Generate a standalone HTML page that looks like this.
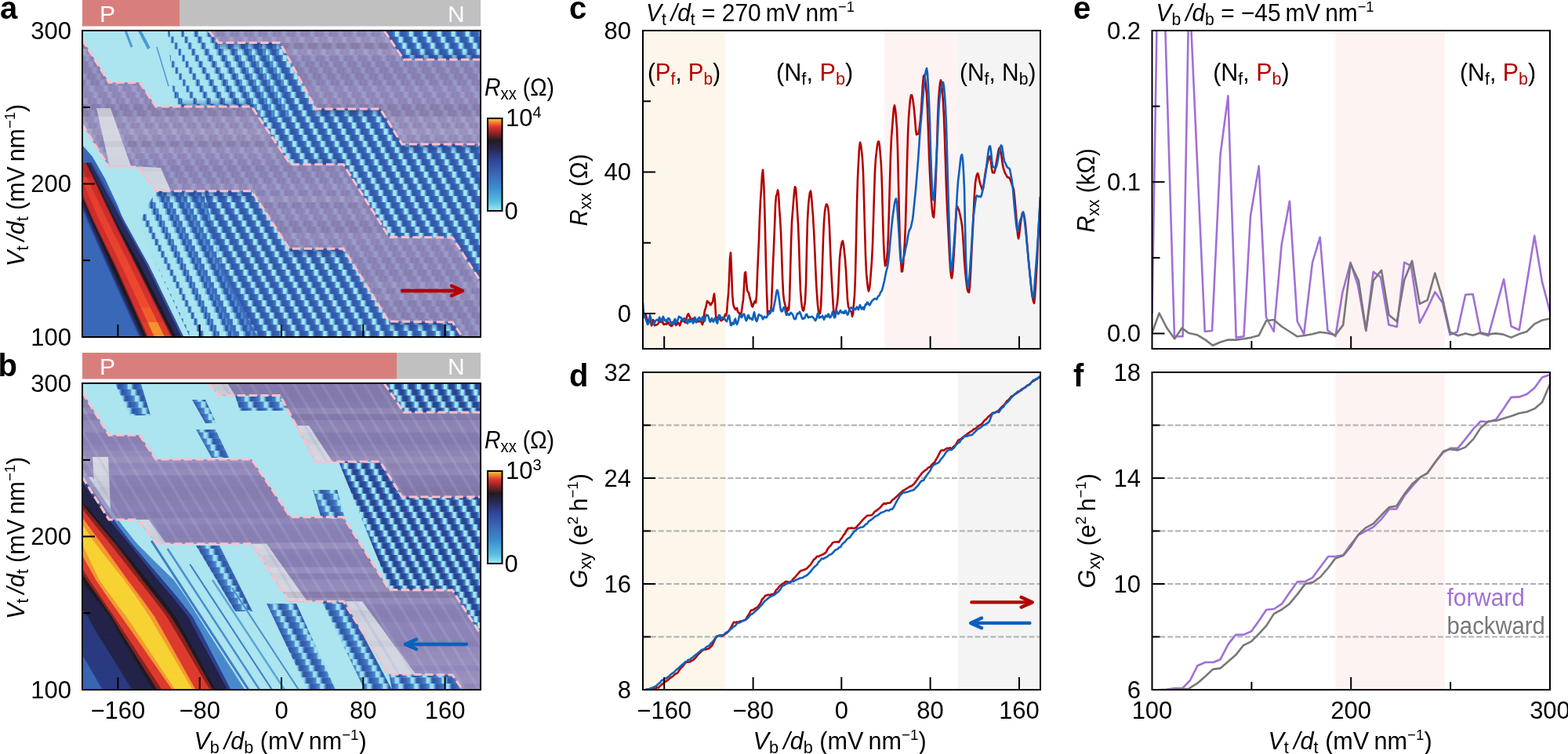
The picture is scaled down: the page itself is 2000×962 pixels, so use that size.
<!DOCTYPE html><html><head><meta charset="utf-8"><title>figure</title><style>html,body{margin:0;padding:0;background:#fff;overflow:hidden}svg{display:block}text{font-family:"Liberation Sans", Arial, sans-serif;fill:#000}</style></head><body>
<svg width="2000" height="962" viewBox="0 0 2000 962">
<defs><clipPath id="cpa"><rect x="105" y="39" width="508" height="391"/></clipPath><clipPath id="cpb"><rect x="105" y="489" width="508" height="391"/></clipPath><clipPath id="cpc"><rect x="820" y="39" width="507" height="406"/></clipPath><clipPath id="cpd"><rect x="820" y="475" width="507" height="405"/></clipPath><clipPath id="cpe"><rect x="1469.5" y="39" width="507.5" height="406"/></clipPath><clipPath id="cpf"><rect x="1469.5" y="475" width="507.5" height="405"/></clipPath><linearGradient id="cmap" x1="0" y1="1" x2="0" y2="0"><stop offset="0" stop-color="#a6e6f2"/><stop offset="0.1" stop-color="#58bde2"/><stop offset="0.25" stop-color="#3c8ccf"/><stop offset="0.42" stop-color="#3a62b4"/><stop offset="0.55" stop-color="#2f4596"/><stop offset="0.68" stop-color="#28254e"/><stop offset="0.76" stop-color="#221c1e"/><stop offset="0.84" stop-color="#8e2424"/><stop offset="0.91" stop-color="#e03333"/><stop offset="0.96" stop-color="#f08a30"/><stop offset="1" stop-color="#f8cc30"/></linearGradient></defs>
<g clip-path="url(#cpa)">
<rect x="105" y="39" width="508" height="391" fill="#3d6cbe"/>
<linearGradient id="psa_g" x1="0" y1="0" x2="1" y2="0">
<stop offset="0" stop-color="#5cb0e0"/>
<stop offset="0" stop-color="#a8e4f0"/>
<stop offset="0.2" stop-color="#a8e4f0"/>
<stop offset="0.3" stop-color="#52a4da"/>
<stop offset="0.4" stop-color="#3054a4"/>
<stop offset="0.6" stop-color="#345aac"/>
<stop offset="0.8" stop-color="#3862b2"/>
<stop offset="0.9" stop-color="#3f74c2"/>
<stop offset="1" stop-color="#5cb0e0"/>
</linearGradient>
<pattern id="psa" patternUnits="userSpaceOnUse" x="0" y="0" width="18" height="2000">
<rect x="0" y="0" width="18" height="2000" fill="url(#psa_g)"/>
</pattern>
<rect x="105" y="39" width="508" height="8.1" fill="url(#psa)" transform="translate(0 0)"/>
<rect x="100.3" y="46.8" width="508" height="8.1" fill="url(#psa)" transform="translate(4.7 0)"/>
<rect x="95.5" y="54.6" width="508" height="8.1" fill="url(#psa)" transform="translate(9.5 0)"/>
<rect x="90.8" y="62.5" width="508" height="8.1" fill="url(#psa)" transform="translate(14.2 0)"/>
<rect x="104" y="70.3" width="508" height="8.1" fill="url(#psa)" transform="translate(1 0)"/>
<rect x="99.3" y="78.1" width="508" height="8.1" fill="url(#psa)" transform="translate(5.7 0)"/>
<rect x="94.6" y="85.9" width="508" height="8.1" fill="url(#psa)" transform="translate(10.4 0)"/>
<rect x="89.8" y="93.7" width="508" height="8.1" fill="url(#psa)" transform="translate(15.2 0)"/>
<rect x="103.1" y="101.6" width="508" height="8.1" fill="url(#psa)" transform="translate(1.9 0)"/>
<rect x="98.3" y="109.4" width="508" height="8.1" fill="url(#psa)" transform="translate(6.7 0)"/>
<rect x="93.6" y="117.2" width="508" height="8.1" fill="url(#psa)" transform="translate(11.4 0)"/>
<rect x="88.9" y="125" width="508" height="8.1" fill="url(#psa)" transform="translate(16.1 0)"/>
<rect x="102.1" y="132.8" width="508" height="8.1" fill="url(#psa)" transform="translate(2.9 0)"/>
<rect x="97.4" y="140.7" width="508" height="8.1" fill="url(#psa)" transform="translate(7.6 0)"/>
<rect x="92.6" y="148.5" width="508" height="8.1" fill="url(#psa)" transform="translate(12.4 0)"/>
<rect x="87.9" y="156.3" width="508" height="8.1" fill="url(#psa)" transform="translate(17.1 0)"/>
<rect x="101.2" y="164.1" width="508" height="8.1" fill="url(#psa)" transform="translate(3.8 0)"/>
<rect x="96.4" y="171.9" width="508" height="8.1" fill="url(#psa)" transform="translate(8.6 0)"/>
<rect x="91.7" y="179.8" width="508" height="8.1" fill="url(#psa)" transform="translate(13.3 0)"/>
<rect x="105" y="187.6" width="508" height="8.1" fill="url(#psa)" transform="translate(0 0)"/>
<rect x="100.2" y="195.4" width="508" height="8.1" fill="url(#psa)" transform="translate(4.8 0)"/>
<rect x="95.5" y="203.2" width="508" height="8.1" fill="url(#psa)" transform="translate(9.5 0)"/>
<rect x="90.7" y="211" width="508" height="8.1" fill="url(#psa)" transform="translate(14.3 0)"/>
<rect x="104" y="218.9" width="508" height="8.1" fill="url(#psa)" transform="translate(1 0)"/>
<rect x="99.3" y="226.7" width="508" height="8.1" fill="url(#psa)" transform="translate(5.7 0)"/>
<rect x="94.5" y="234.5" width="508" height="8.1" fill="url(#psa)" transform="translate(10.5 0)"/>
<rect x="89.8" y="242.3" width="508" height="8.1" fill="url(#psa)" transform="translate(15.2 0)"/>
<rect x="103" y="250.1" width="508" height="8.1" fill="url(#psa)" transform="translate(2 0)"/>
<rect x="98.3" y="258" width="508" height="8.1" fill="url(#psa)" transform="translate(6.7 0)"/>
<rect x="93.6" y="265.8" width="508" height="8.1" fill="url(#psa)" transform="translate(11.4 0)"/>
<rect x="88.8" y="273.6" width="508" height="8.1" fill="url(#psa)" transform="translate(16.2 0)"/>
<rect x="102.1" y="281.4" width="508" height="8.1" fill="url(#psa)" transform="translate(2.9 0)"/>
<rect x="97.3" y="289.2" width="508" height="8.1" fill="url(#psa)" transform="translate(7.7 0)"/>
<rect x="92.6" y="297.1" width="508" height="8.1" fill="url(#psa)" transform="translate(12.4 0)"/>
<rect x="87.9" y="304.9" width="508" height="8.1" fill="url(#psa)" transform="translate(17.1 0)"/>
<rect x="101.1" y="312.7" width="508" height="8.1" fill="url(#psa)" transform="translate(3.9 0)"/>
<rect x="96.4" y="320.5" width="508" height="8.1" fill="url(#psa)" transform="translate(8.6 0)"/>
<rect x="91.6" y="328.3" width="508" height="8.1" fill="url(#psa)" transform="translate(13.4 0)"/>
<rect x="104.9" y="336.2" width="508" height="8.1" fill="url(#psa)" transform="translate(0.1 0)"/>
<rect x="100.2" y="344" width="508" height="8.1" fill="url(#psa)" transform="translate(4.8 0)"/>
<rect x="95.4" y="351.8" width="508" height="8.1" fill="url(#psa)" transform="translate(9.6 0)"/>
<rect x="90.7" y="359.6" width="508" height="8.1" fill="url(#psa)" transform="translate(14.3 0)"/>
<rect x="103.9" y="367.4" width="508" height="8.1" fill="url(#psa)" transform="translate(1.1 0)"/>
<rect x="99.2" y="375.3" width="508" height="8.1" fill="url(#psa)" transform="translate(5.8 0)"/>
<rect x="94.5" y="383.1" width="508" height="8.1" fill="url(#psa)" transform="translate(10.5 0)"/>
<rect x="89.7" y="390.9" width="508" height="8.1" fill="url(#psa)" transform="translate(15.3 0)"/>
<rect x="103" y="398.7" width="508" height="8.1" fill="url(#psa)" transform="translate(2 0)"/>
<rect x="98.2" y="406.5" width="508" height="8.1" fill="url(#psa)" transform="translate(6.8 0)"/>
<rect x="93.5" y="414.4" width="508" height="8.1" fill="url(#psa)" transform="translate(11.5 0)"/>
<rect x="88.8" y="422.2" width="508" height="8.1" fill="url(#psa)" transform="translate(16.2 0)"/>
<clipPath id="cpa_z"><polygon points="214,39 350,39 370,150 250,150 262,250 282,339 329,430 234,430 190,339 160.5,286 129,228 116,160 214,150"/></clipPath>
<g clip-path="url(#cpa_z)">
<polygon points="214,39 350,39 370,150 250,150 262,250 282,339 329,430 234,430 190,339 160.5,286 129,228 116,160 214,150" fill="#3d6cbe"/>
<path d="M90.9 187.6h14.4v8h-14.4zM94.7 195.4h14.4v8h-14.4zM98.5 203.2h14.4v8h-14.4zM102.4 211h14.4v8h-14.4zM106.2 218.9h14.4v8h-14.4zM110 226.7h14.4v8h-14.4zM113.8 234.5h14.4v8h-14.4zM117.6 242.3h14.4v8h-14.4zM121.4 250.1h14.4v8h-14.4zM125.2 258h14.4v8h-14.4zM129.1 265.8h14.4v8h-14.4zM132.9 273.6h14.4v8h-14.4zM136.7 281.4h14.4v8h-14.4zM140.5 289.2h14.4v8h-14.4zM144.3 297.1h14.4v8h-14.4zM148.1 304.9h14.4v8h-14.4zM151.9 312.7h14.4v8h-14.4zM155.8 320.5h14.4v8h-14.4zM159.6 328.3h14.4v8h-14.4zM163.4 336.2h14.4v8h-14.4zM167.2 344h14.4v8h-14.4zM171 351.8h14.4v8h-14.4zM174.8 359.6h14.4v8h-14.4zM178.7 367.4h14.4v8h-14.4zM182.5 375.3h14.4v8h-14.4zM186.3 383.1h14.4v8h-14.4zM190.1 390.9h14.4v8h-14.4zM193.9 398.7h14.4v8h-14.4zM197.7 406.5h14.4v8h-14.4zM201.5 414.4h14.4v8h-14.4zM205.4 422.2h14.4v8h-14.4zM82.2 132.8h14.4v8h-14.4zM86 140.7h14.4v8h-14.4zM89.8 148.5h14.4v8h-14.4zM93.7 156.3h14.4v8h-14.4zM97.5 164.1h14.4v8h-14.4zM101.3 171.9h14.4v8h-14.4zM105.1 179.8h14.4v8h-14.4zM108.9 187.6h14.4v8h-14.4zM112.7 195.4h14.4v8h-14.4zM116.5 203.2h14.4v8h-14.4zM120.4 211h14.4v8h-14.4zM124.2 218.9h14.4v8h-14.4zM128 226.7h14.4v8h-14.4zM131.8 234.5h14.4v8h-14.4zM135.6 242.3h14.4v8h-14.4zM139.4 250.1h14.4v8h-14.4zM143.2 258h14.4v8h-14.4zM147.1 265.8h14.4v8h-14.4zM150.9 273.6h14.4v8h-14.4zM154.7 281.4h14.4v8h-14.4zM158.5 289.2h14.4v8h-14.4zM162.3 297.1h14.4v8h-14.4zM166.1 304.9h14.4v8h-14.4zM169.9 312.7h14.4v8h-14.4zM173.8 320.5h14.4v8h-14.4zM177.6 328.3h14.4v8h-14.4zM181.4 336.2h14.4v8h-14.4zM185.2 344h14.4v8h-14.4zM189 351.8h14.4v8h-14.4zM192.8 359.6h14.4v8h-14.4zM196.7 367.4h14.4v8h-14.4zM200.5 375.3h14.4v8h-14.4zM204.3 383.1h14.4v8h-14.4zM208.1 390.9h14.4v8h-14.4zM211.9 398.7h14.4v8h-14.4zM215.7 406.5h14.4v8h-14.4zM219.5 414.4h14.4v8h-14.4zM223.4 422.2h14.4v8h-14.4zM85 101.6h14.4v8h-14.4zM88.8 109.4h14.4v8h-14.4zM92.6 117.2h14.4v8h-14.4zM96.4 125h14.4v8h-14.4zM100.2 132.8h14.4v8h-14.4zM104 140.7h14.4v8h-14.4zM107.8 148.5h14.4v8h-14.4zM111.7 156.3h14.4v8h-14.4zM115.5 164.1h14.4v8h-14.4zM119.3 171.9h14.2v8h-14.2zM123.1 179.8h13.8v8h-13.8zM126.9 187.6h13.3v8h-13.3zM130.7 195.4h12.9v8h-12.9zM134.5 203.2h12.4v8h-12.4zM138.4 211h12.4v8h-12.4zM142.2 218.9h12.5v8h-12.5zM146 226.7h12.5v8h-12.5zM149.8 234.5h12.6v8h-12.6zM153.6 242.3h12.6v8h-12.6zM157.4 250.1h12.7v8h-12.7zM161.2 258h12.7v8h-12.7zM165.1 265.8h12.8v8h-12.8zM168.9 273.6h12.8v8h-12.8zM172.7 281.4h12.9v8h-12.9zM176.5 289.2h13v8h-13zM180.3 297.1h13v8h-13zM184.1 304.9h13.1v8h-13.1zM187.9 312.7h13.2v8h-13.2zM191.8 320.5h13.2v8h-13.2zM195.6 328.3h13.3v8h-13.3zM199.4 336.2h13.3v8h-13.3zM203.2 344h13.3v8h-13.3zM207 351.8h13.3v8h-13.3zM210.8 359.6h13.3v8h-13.3zM214.7 367.4h13.3v8h-13.3zM218.5 375.3h13.3v8h-13.3zM222.3 383.1h13.3v8h-13.3zM226.1 390.9h13.3v8h-13.3zM229.9 398.7h13.3v8h-13.3zM233.7 406.5h13.3v8h-13.3zM237.5 414.4h13.3v8h-13.3zM241.4 422.2h13.3v8h-13.3zM83.9 62.5h14.4v8h-14.4zM87.7 70.3h14.4v8h-14.4zM91.5 78.1h14.4v8h-14.4zM95.3 85.9h14.4v8h-14.4zM99.1 93.7h14.4v8h-14.4zM103 101.6h14.4v8h-14.4zM106.8 109.4h14.4v8h-14.4zM110.6 117.2h14.4v8h-14.4zM114.4 125h14.4v8h-14.4zM118.2 132.8h14.4v8h-14.4zM122 140.7h14.4v8h-14.4zM125.8 148.5h13.5v8h-13.5zM129.7 156.3h13v8h-13zM133.5 164.1h12.5v8h-12.5zM137.3 171.9h12.1v8h-12.1zM141.1 179.8h11.6v8h-11.6zM144.9 187.6h11.2v8h-11.2zM148.7 195.4h10.7v8h-10.7zM152.5 203.2h10.3v8h-10.3zM156.4 211h10.3v8h-10.3zM160.2 218.9h10.3v8h-10.3zM164 226.7h10.4v8h-10.4zM167.8 234.5h10.4v8h-10.4zM171.6 242.3h10.5v8h-10.5zM175.4 250.1h10.5v8h-10.5zM179.2 258h10.6v8h-10.6zM183.1 265.8h10.6v8h-10.6zM186.9 273.6h10.7v8h-10.7zM190.7 281.4h10.7v8h-10.7zM194.5 289.2h10.8v8h-10.8zM198.3 297.1h10.9v8h-10.9zM202.1 304.9h10.9v8h-10.9zM205.9 312.7h11v8h-11zM209.8 320.5h11.1v8h-11.1zM213.6 328.3h11.1v8h-11.1zM217.4 336.2h11.2v8h-11.2zM221.2 344h11.2v8h-11.2zM225 351.8h11.2v8h-11.2zM228.8 359.6h11.2v8h-11.2zM232.7 367.4h11.2v8h-11.2zM236.5 375.3h11.2v8h-11.2zM240.3 383.1h11.2v8h-11.2zM244.1 390.9h11.1v8h-11.1zM247.9 398.7h11.1v8h-11.1zM251.7 406.5h11.1v8h-11.1zM255.5 414.4h11.1v8h-11.1zM259.4 422.2h11.1v8h-11.1zM90.5 39h14.4v8h-14.4zM94.3 46.8h14.4v8h-14.4zM98.2 54.6h14.4v8h-14.4zM102.1 62.5h14.4v8h-14.4zM105.9 70.3h14.4v8h-14.4zM109.8 78.1h14.4v8h-14.4zM113.7 85.9h14.4v8h-14.4zM117.5 93.7h14.4v8h-14.4zM121.4 101.6h14.4v8h-14.4zM125.3 109.4h14.4v8h-14.4zM129.1 117.2h14.4v8h-14.4zM133 125h14.4v8h-14.4zM136.9 132.8h14.4v8h-14.4zM140.8 140.7h14.4v8h-14.4zM144.6 148.5h11.2v8h-11.2zM148.5 156.3h10.7v8h-10.7zM152.4 164.1h10.3v8h-10.3zM156.2 171.9h9.8v8h-9.8zM160.1 179.8h9.3v8h-9.3zM164 187.6h8.9v8h-8.9zM167.8 195.4h8.4v8h-8.4zM171.7 203.2h8v8h-8zM175.6 211h8v8h-8zM179.4 218.9h8v8h-8zM183.3 226.7h8.1v8h-8.1zM187.2 234.5h8.1v8h-8.1zM191 242.3h8.1v8h-8.1zM194.9 250.1h8.2v8h-8.2zM198.8 258h8.2v8h-8.2zM202.7 265.8h8.3v8h-8.3zM206.5 273.6h8.3v8h-8.3zM210.4 281.4h8.4v8h-8.4zM214.3 289.2h8.4v8h-8.4zM218.1 297.1h8.5v8h-8.5zM222 304.9h8.5v8h-8.5zM225.9 312.7h8.6v8h-8.6zM229.7 320.5h8.7v8h-8.7zM233.6 328.3h8.7v8h-8.7zM237.5 336.2h8.8v8h-8.8zM241.3 344h8.8v8h-8.8zM245.2 351.8h8.7v8h-8.7zM249.1 359.6h8.7v8h-8.7zM252.9 367.4h8.7v8h-8.7zM256.8 375.3h8.7v8h-8.7zM260.7 383.1h8.7v8h-8.7zM264.5 390.9h8.7v8h-8.7zM268.4 398.7h8.7v8h-8.7zM272.3 406.5h8.7v8h-8.7zM276.2 414.4h8.7v8h-8.7zM280 422.2h8.7v8h-8.7zM108.5 39h14.4v8h-14.4zM112.5 46.8h14.4v8h-14.4zM116.6 54.6h14.4v8h-14.4zM120.6 62.5h14.4v8h-14.4zM124.6 70.3h14.4v8h-14.4zM128.6 78.1h14.4v8h-14.4zM132.6 85.9h14.4v8h-14.4zM136.6 93.7h14.4v8h-14.4zM140.6 101.6h14.4v8h-14.4zM144.6 109.4h14.4v8h-14.4zM148.6 117.2h14.4v8h-14.4zM152.7 125h14.4v8h-14.4zM156.7 132.8h14.4v8h-14.4zM160.7 140.7h14.4v8h-14.4zM164.7 148.5h8.8v8h-8.8zM168.7 156.3h8.3v8h-8.3zM172.7 164.1h7.8v8h-7.8zM176.7 171.9h7.4v8h-7.4zM180.7 179.8h6.9v8h-6.9zM184.8 187.6h6.4v8h-6.4zM188.8 195.4h5.9v8h-5.9zM192.8 203.2h5.4v8h-5.4zM196.8 211h5.4v8h-5.4zM200.8 218.9h5.4v8h-5.4zM204.8 226.7h5.5v8h-5.5zM208.8 234.5h5.5v8h-5.5zM212.8 242.3h5.5v8h-5.5zM216.8 250.1h5.6v8h-5.6zM220.9 258h5.6v8h-5.6zM224.9 265.8h5.6v8h-5.6zM228.9 273.6h5.6v8h-5.6zM232.9 281.4h5.7v8h-5.7zM236.9 289.2h5.7v8h-5.7zM240.9 297.1h5.8v8h-5.8zM244.9 304.9h5.8v8h-5.8zM248.9 312.7h5.8v8h-5.8zM252.9 320.5h5.9v8h-5.9zM257 328.3h5.9v8h-5.9zM261 336.2h5.9v8h-5.9zM265 344h5.9v8h-5.9zM269 351.8h5.9v8h-5.9zM273 359.6h5.9v8h-5.9zM277 367.4h5.8v8h-5.8zM281 375.3h5.8v8h-5.8zM285 383.1h5.8v8h-5.8zM289 390.9h5.8v8h-5.8zM293.1 398.7h5.7v8h-5.7zM297.1 406.5h5.7v8h-5.7zM301.1 414.4h5.7v8h-5.7zM305.1 422.2h5.6v8h-5.6zM126.6 39h14.4v8h-14.4zM130.8 46.8h14.4v8h-14.4zM134.9 54.6h14.4v8h-14.4zM139.1 62.5h14.4v8h-14.4zM143.3 70.3h14.4v8h-14.4zM147.4 78.1h14.4v8h-14.4zM151.6 85.9h14.4v8h-14.4zM155.8 93.7h14.4v8h-14.4zM159.9 101.6h14.4v8h-14.4zM164.1 109.4h14.4v8h-14.4zM168.3 117.2h14.4v8h-14.4zM172.4 125h14.4v8h-14.4zM176.6 132.8h14.4v8h-14.4zM180.8 140.7h14.4v8h-14.4zM184.9 148.5h6.4v8h-6.4zM189.1 156.3h5.9v8h-5.9zM193.3 164.1h5.4v8h-5.4zM197.4 171.9h4.9v8h-4.9zM201.6 179.8h4.4v8h-4.4zM205.8 187.6h3.9v8h-3.9zM209.9 195.4h3.6v8h-3.6zM214.1 203.2h3.6v8h-3.6zM218.2 211h3.6v8h-3.6zM222.4 218.9h3.6v8h-3.6zM226.6 226.7h3.6v8h-3.6zM230.7 234.5h3.6v8h-3.6zM234.9 242.3h3.6v8h-3.6zM239.1 250.1h3.6v8h-3.6zM243.2 258h3.6v8h-3.6zM247.4 265.8h3.6v8h-3.6zM251.6 273.6h3.6v8h-3.6zM255.7 281.4h3.6v8h-3.6zM259.9 289.2h3.6v8h-3.6zM264.1 297.1h3.6v8h-3.6zM268.2 304.9h3.6v8h-3.6zM272.4 312.7h3.6v8h-3.6zM276.6 320.5h3.6v8h-3.6zM280.7 328.3h3.6v8h-3.6zM284.9 336.2h3.6v8h-3.6zM289.1 344h3.6v8h-3.6zM293.2 351.8h3.6v8h-3.6zM297.4 359.6h3.6v8h-3.6zM301.6 367.4h3.6v8h-3.6zM305.7 375.3h3.6v8h-3.6zM309.9 383.1h3.6v8h-3.6zM314 390.9h3.6v8h-3.6zM318.2 398.7h3.6v8h-3.6zM322.4 406.5h3.6v8h-3.6zM326.5 414.4h3.6v8h-3.6zM330.7 422.2h3.6v8h-3.6zM144.7 39h14.4v8h-14.4zM149 46.8h14.4v8h-14.4zM153.4 54.6h14.4v8h-14.4zM157.7 62.5h14.4v8h-14.4zM162 70.3h14.4v8h-14.4zM166.4 78.1h14.4v8h-14.4zM170.7 85.9h14.4v8h-14.4zM175 93.7h14.4v8h-14.4zM179.3 101.6h14.4v8h-14.4zM183.7 109.4h14.4v8h-14.4zM188 117.2h14.4v8h-14.4zM192.3 125h14.4v8h-14.4zM196.7 132.8h14.4v8h-14.4zM201 140.7h14.4v8h-14.4zM205.3 148.5h3.9v8h-3.9zM209.7 156.3h3.6v8h-3.6zM214 164.1h3.6v8h-3.6zM218.3 171.9h3.6v8h-3.6zM222.7 179.8h3.6v8h-3.6zM227 187.6h3.6v8h-3.6zM231.3 195.4h3.6v8h-3.6zM235.7 203.2h3.6v8h-3.6zM240 211h3.6v8h-3.6zM244.3 218.9h3.6v8h-3.6zM248.6 226.7h3.6v8h-3.6zM253 234.5h3.6v8h-3.6zM257.3 242.3h3.6v8h-3.6zM261.6 250.1h3.6v8h-3.6zM266 258h3.6v8h-3.6zM270.3 265.8h3.6v8h-3.6zM274.6 273.6h3.6v8h-3.6zM279 281.4h3.6v8h-3.6zM283.3 289.2h3.6v8h-3.6zM287.6 297.1h3.6v8h-3.6zM292 304.9h3.6v8h-3.6zM296.3 312.7h3.6v8h-3.6zM300.6 320.5h3.6v8h-3.6zM305 328.3h3.6v8h-3.6zM309.3 336.2h3.6v8h-3.6zM313.6 344h3.6v8h-3.6zM318 351.8h3.6v8h-3.6zM162.8 39h14.4v8h-14.4zM167.3 46.8h14.4v8h-14.4zM171.8 54.6h14.4v8h-14.4zM176.3 62.5h14.4v8h-14.4zM180.8 70.3h14.4v8h-14.4zM185.3 78.1h14.4v8h-14.4zM189.9 85.9h14.4v8h-14.4zM194.4 93.7h14.4v8h-14.4zM198.9 101.6h14.4v8h-14.4zM203.4 109.4h14.4v8h-14.4zM207.9 117.2h14.4v8h-14.4zM212.4 125h14.4v8h-14.4zM216.9 132.8h14.4v8h-14.4zM221.4 140.7h14.4v8h-14.4zM225.9 148.5h3.6v8h-3.6zM230.5 156.3h3.6v8h-3.6zM235 164.1h3.6v8h-3.6zM180.9 39h14.4v8h-14.4zM185.6 46.8h14.4v8h-14.4zM190.3 54.6h14.4v8h-14.4zM195 62.5h14.4v8h-14.4zM199.7 70.3h14.4v8h-14.4zM204.4 78.1h14.4v8h-14.4zM209.1 85.9h14.4v8h-14.4zM213.8 93.7h14.4v8h-14.4zM218.5 101.6h14.4v8h-14.4zM223.2 109.4h14.1v8h-14.1zM228 117.2h13.7v8h-13.7zM232.7 125h13.3v8h-13.3zM237.4 132.8h12.9v8h-12.9zM242.1 140.7h12.5v8h-12.5zM198.9 39h14.4v8h-14.4zM203.6 46.8h14.4v8h-14.4zM208.4 54.6h14.4v8h-14.4zM213.1 62.5h14.4v8h-14.4zM217.9 70.3h14.3v8h-14.3zM222.6 78.1h13.9v8h-13.9zM227.3 85.9h13.5v8h-13.5zM232.1 93.7h13.1v8h-13.1zM236.8 101.6h12.7v8h-12.7zM241.6 109.4h12.4v8h-12.4zM246.3 117.2h12v8h-12zM251 125h11.6v8h-11.6zM255.8 132.8h11.2v8h-11.2zM260.5 140.7h10.8v8h-10.8zM216.9 39h14.2v8h-14.2zM221.6 46.8h13.8v8h-13.8zM226.4 54.6h13.4v8h-13.4zM231.1 62.5h13v8h-13zM235.9 70.3h12.6v8h-12.6zM240.6 78.1h12.2v8h-12.2zM245.3 85.9h11.8v8h-11.8zM250.1 93.7h11.4v8h-11.4zM254.8 101.6h11v8h-11zM259.6 109.4h10.7v8h-10.7zM264.3 117.2h10.3v8h-10.3zM269 125h9.9v8h-9.9zM273.8 132.8h9.5v8h-9.5zM278.5 140.7h9.1v8h-9.1zM234.9 39h12.5v8h-12.5zM239.6 46.8h12.1v8h-12.1zM244.4 54.6h11.7v8h-11.7zM249.1 62.5h11.3v8h-11.3zM253.9 70.3h10.9v8h-10.9zM258.6 78.1h10.5v8h-10.5zM263.3 85.9h10.1v8h-10.1zM268.1 93.7h9.7v8h-9.7zM272.8 101.6h9.3v8h-9.3zM277.6 109.4h9v8h-9zM282.3 117.2h8.6v8h-8.6zM287 125h8.2v8h-8.2zM291.8 132.8h7.8v8h-7.8zM296.5 140.7h7.4v8h-7.4zM252.9 39h10.8v8h-10.8zM257.6 46.8h10.4v8h-10.4zM262.4 54.6h10v8h-10zM267.1 62.5h9.6v8h-9.6zM271.9 70.3h9.2v8h-9.2zM276.6 78.1h8.8v8h-8.8zM281.3 85.9h8.4v8h-8.4zM286.1 93.7h8v8h-8zM290.8 101.6h7.6v8h-7.6zM295.6 109.4h7.3v8h-7.3zM300.3 117.2h6.9v8h-6.9zM305 125h6.5v8h-6.5zM309.8 132.8h6.1v8h-6.1zM314.5 140.7h5.7v8h-5.7zM270.9 39h9.1v8h-9.1zM275.6 46.8h8.7v8h-8.7zM280.4 54.6h8.3v8h-8.3zM285.1 62.5h7.9v8h-7.9zM289.9 70.3h7.5v8h-7.5zM294.6 78.1h7.1v8h-7.1zM299.3 85.9h6.7v8h-6.7zM304.1 93.7h6.3v8h-6.3zM308.8 101.6h5.9v8h-5.9zM313.6 109.4h5.6v8h-5.6zM318.3 117.2h5.2v8h-5.2zM323 125h4.8v8h-4.8zM327.8 132.8h4.4v8h-4.4zM332.5 140.7h4v8h-4zM288.9 39h7.4v8h-7.4zM293.6 46.8h7v8h-7zM298.4 54.6h6.6v8h-6.6zM303.1 62.5h6.2v8h-6.2zM307.9 70.3h5.8v8h-5.8zM312.6 78.1h5.4v8h-5.4zM317.3 85.9h5v8h-5zM322.1 93.7h4.6v8h-4.6zM326.8 101.6h4.2v8h-4.2zM331.6 109.4h3.9v8h-3.9zM336.3 117.2h3.6v8h-3.6zM341 125h3.6v8h-3.6zM345.8 132.8h3.6v8h-3.6zM350.5 140.7h3.6v8h-3.6zM306.9 39h5.7v8h-5.7zM311.6 46.8h5.3v8h-5.3zM316.4 54.6h4.9v8h-4.9zM321.1 62.5h4.5v8h-4.5zM325.9 70.3h4.1v8h-4.1zM330.6 78.1h3.7v8h-3.7zM335.3 85.9h3.6v8h-3.6zM340.1 93.7h3.6v8h-3.6zM344.8 101.6h3.6v8h-3.6zM349.6 109.4h3.6v8h-3.6zM354.3 117.2h3.6v8h-3.6zM359 125h3.6v8h-3.6zM363.8 132.8h3.6v8h-3.6zM368.5 140.7h3.6v8h-3.6zM324.9 39h3.9v8h-3.9zM329.6 46.8h3.6v8h-3.6zM334.4 54.6h3.6v8h-3.6zM339.1 62.5h3.6v8h-3.6zM343.9 70.3h3.6v8h-3.6zM348.6 78.1h3.6v8h-3.6zM353.3 85.9h3.6v8h-3.6zM358.1 93.7h3.6v8h-3.6zM362.8 101.6h3.6v8h-3.6zM367.6 109.4h3.6v8h-3.6zM372.3 117.2h3.6v8h-3.6zM377 125h3.6v8h-3.6zM381.8 132.8h3.6v8h-3.6zM386.5 140.7h3.6v8h-3.6zM342.9 39h3.6v8h-3.6zM347.6 46.8h3.6v8h-3.6zM352.4 54.6h3.6v8h-3.6zM357.1 62.5h3.6v8h-3.6zM361.9 70.3h3.6v8h-3.6zM366.6 78.1h3.6v8h-3.6zM371.3 85.9h3.6v8h-3.6zM376.1 93.7h3.6v8h-3.6zM380.8 101.6h3.6v8h-3.6zM385.6 109.4h3.6v8h-3.6zM390.3 117.2h3.6v8h-3.6zM360.9 39h3.6v8h-3.6zM365.6 46.8h3.6v8h-3.6zM370.4 54.6h3.6v8h-3.6zM375.1 62.5h3.6v8h-3.6zM379.9 70.3h3.6v8h-3.6zM384.6 78.1h3.6v8h-3.6zM389.3 85.9h3.6v8h-3.6zM394.1 93.7h3.6v8h-3.6zM378.9 39h3.6v8h-3.6zM383.6 46.8h3.6v8h-3.6zM388.4 54.6h3.6v8h-3.6zM393.1 62.5h3.6v8h-3.6z" fill="#a8e4f0" stroke="#a8e4f0" stroke-width="0.4"/>
<path d="M105.3 187.6h0.7v8h-0.7zM109.1 195.4h0.7v8h-0.7zM112.9 203.2h0.7v8h-0.7zM116.8 211h0.7v8h-0.7zM120.6 218.9h0.7v8h-0.7zM124.4 226.7h0.7v8h-0.7zM128.2 234.5h0.7v8h-0.7zM132 242.3h0.7v8h-0.7zM135.8 250.1h0.7v8h-0.7zM139.6 258h0.7v8h-0.7zM143.5 265.8h0.7v8h-0.7zM147.3 273.6h0.7v8h-0.7zM151.1 281.4h0.7v8h-0.7zM154.9 289.2h0.7v8h-0.7zM158.7 297.1h0.7v8h-0.7zM162.5 304.9h0.7v8h-0.7zM166.3 312.7h0.7v8h-0.7zM170.2 320.5h0.7v8h-0.7zM174 328.3h0.7v8h-0.7zM177.8 336.2h0.7v8h-0.7zM181.6 344h0.7v8h-0.7zM185.4 351.8h0.7v8h-0.7zM189.2 359.6h0.7v8h-0.7zM193.1 367.4h0.7v8h-0.7zM196.9 375.3h0.7v8h-0.7zM200.7 383.1h0.7v8h-0.7zM204.5 390.9h0.7v8h-0.7zM208.3 398.7h0.7v8h-0.7zM212.1 406.5h0.7v8h-0.7zM215.9 414.4h0.7v8h-0.7zM219.8 422.2h0.7v8h-0.7zM96.6 132.8h0.7v8h-0.7zM100.4 140.7h0.7v8h-0.7zM104.2 148.5h0.7v8h-0.7zM108.1 156.3h0.7v8h-0.7zM111.9 164.1h0.7v8h-0.7zM115.7 171.9h0.7v8h-0.7zM119.5 179.8h0.7v8h-0.7zM123.3 187.6h0.7v8h-0.7zM127.1 195.4h0.7v8h-0.7zM130.9 203.2h0.7v8h-0.7zM134.8 211h0.7v8h-0.7zM138.6 218.9h0.7v8h-0.7zM142.4 226.7h0.7v8h-0.7zM146.2 234.5h0.7v8h-0.7zM150 242.3h0.7v8h-0.7zM153.8 250.1h0.7v8h-0.7zM157.6 258h0.7v8h-0.7zM161.5 265.8h0.7v8h-0.7zM165.3 273.6h0.7v8h-0.7zM169.1 281.4h0.7v8h-0.7zM172.9 289.2h0.7v8h-0.7zM176.7 297.1h0.7v8h-0.7zM180.5 304.9h0.7v8h-0.7zM184.3 312.7h0.7v8h-0.7zM188.2 320.5h0.7v8h-0.7zM192 328.3h0.7v8h-0.7zM195.8 336.2h0.7v8h-0.7zM199.6 344h0.7v8h-0.7zM203.4 351.8h0.7v8h-0.7zM207.2 359.6h0.7v8h-0.7zM211.1 367.4h0.7v8h-0.7zM214.9 375.3h0.7v8h-0.7zM218.7 383.1h0.7v8h-0.7zM222.5 390.9h0.7v8h-0.7zM226.3 398.7h0.7v8h-0.7zM230.1 406.5h0.7v8h-0.7zM233.9 414.4h0.7v8h-0.7zM237.8 422.2h0.7v8h-0.7zM99.4 101.6h0.7v8h-0.7zM103.2 109.4h0.7v8h-0.7zM107 117.2h0.7v8h-0.7zM110.8 125h0.7v8h-0.7zM114.6 132.8h0.7v8h-0.7zM118.4 140.7h0.7v8h-0.7zM122.2 148.5h0.7v8h-0.7zM126.1 156.3h0.7v8h-0.7zM129.9 164.1h0.7v8h-0.7zM133.5 171.9h0.8v8h-0.8zM136.9 179.8h0.8v8h-0.8zM140.2 187.6h0.9v8h-0.9zM143.6 195.4h1v8h-1zM147 203.2h1.1v8h-1.1zM150.8 211h1.1v8h-1.1zM154.6 218.9h1.1v8h-1.1zM158.5 226.7h1.1v8h-1.1zM162.4 234.5h1.1v8h-1.1zM166.3 242.3h1.1v8h-1.1zM170.1 250.1h1.1v8h-1.1zM174 258h1.1v8h-1.1zM177.9 265.8h1v8h-1zM181.7 273.6h1v8h-1zM185.6 281.4h1v8h-1zM189.5 289.2h1v8h-1zM193.3 297.1h1v8h-1zM197.2 304.9h1v8h-1zM201.1 312.7h1v8h-1zM205 320.5h1v8h-1zM208.9 328.3h0.9v8h-0.9zM212.7 336.2h0.9v8h-0.9zM216.5 344h0.9v8h-0.9zM220.3 351.8h0.9v8h-0.9zM224.2 359.6h0.9v8h-0.9zM228 367.4h0.9v8h-0.9zM231.8 375.3h0.9v8h-0.9zM235.6 383.1h0.9v8h-0.9zM239.4 390.9h0.9v8h-0.9zM243.2 398.7h0.9v8h-0.9zM247 406.5h0.9v8h-0.9zM250.8 414.4h0.9v8h-0.9zM254.6 422.2h0.9v8h-0.9zM98.3 62.5h0.7v8h-0.7zM102.1 70.3h0.7v8h-0.7zM105.9 78.1h0.7v8h-0.7zM109.7 85.9h0.7v8h-0.7zM113.5 93.7h0.7v8h-0.7zM117.4 101.6h0.7v8h-0.7zM121.2 109.4h0.7v8h-0.7zM125 117.2h0.7v8h-0.7zM128.8 125h0.7v8h-0.7zM132.6 132.8h0.7v8h-0.7zM136.4 140.7h0.7v8h-0.7zM139.3 148.5h0.9v8h-0.9zM142.7 156.3h1v8h-1zM146 164.1h1.1v8h-1.1zM149.4 171.9h1.2v8h-1.2zM152.7 179.8h1.3v8h-1.3zM156.1 187.6h1.4v8h-1.4zM159.4 195.4h1.5v8h-1.5zM162.8 203.2h1.5v8h-1.5zM166.6 211h1.5v8h-1.5zM170.5 218.9h1.5v8h-1.5zM174.4 226.7h1.5v8h-1.5zM178.2 234.5h1.5v8h-1.5zM182.1 242.3h1.5v8h-1.5zM186 250.1h1.5v8h-1.5zM189.8 258h1.5v8h-1.5zM193.7 265.8h1.5v8h-1.5zM197.6 273.6h1.5v8h-1.5zM201.4 281.4h1.5v8h-1.5zM205.3 289.2h1.4v8h-1.4zM209.2 297.1h1.4v8h-1.4zM213.1 304.9h1.4v8h-1.4zM216.9 312.7h1.4v8h-1.4zM220.8 320.5h1.4v8h-1.4zM224.7 328.3h1.4v8h-1.4zM228.6 336.2h1.4v8h-1.4zM232.4 344h1.4v8h-1.4zM236.2 351.8h1.4v8h-1.4zM240 359.6h1.4v8h-1.4zM243.8 367.4h1.4v8h-1.4zM247.6 375.3h1.4v8h-1.4zM251.4 383.1h1.4v8h-1.4zM255.2 390.9h1.4v8h-1.4zM259.1 398.7h1.4v8h-1.4zM262.9 406.5h1.4v8h-1.4zM266.7 414.4h1.4v8h-1.4zM270.5 422.2h1.4v8h-1.4zM104.9 39h0.7v8h-0.7zM108.7 46.8h0.7v8h-0.7zM112.6 54.6h0.7v8h-0.7zM116.5 62.5h0.7v8h-0.7zM120.3 70.3h0.7v8h-0.7zM124.2 78.1h0.7v8h-0.7zM128.1 85.9h0.7v8h-0.7zM131.9 93.7h0.7v8h-0.7zM135.8 101.6h0.7v8h-0.7zM139.7 109.4h0.7v8h-0.7zM143.5 117.2h0.7v8h-0.7zM147.4 125h0.7v8h-0.7zM151.3 132.8h0.7v8h-0.7zM155.2 140.7h0.7v8h-0.7zM155.8 148.5h1.4v8h-1.4zM159.2 156.3h1.5v8h-1.5zM162.6 164.1h1.5v8h-1.5zM166 171.9h1.6v8h-1.6zM169.4 179.8h1.6v8h-1.6zM172.9 187.6h1.6v8h-1.6zM176.3 195.4h1.6v8h-1.6zM179.7 203.2h1.6v8h-1.6zM183.5 211h1.6v8h-1.6zM187.4 218.9h1.6v8h-1.6zM191.4 226.7h1.6v8h-1.6zM195.3 234.5h1.6v8h-1.6zM199.2 242.3h1.6v8h-1.6zM203.1 250.1h1.6v8h-1.6zM207 258h1.6v8h-1.6zM210.9 265.8h1.6v8h-1.6zM214.8 273.6h1.6v8h-1.6zM218.8 281.4h1.6v8h-1.6zM222.7 289.2h1.6v8h-1.6zM226.6 297.1h1.6v8h-1.6zM230.5 304.9h1.6v8h-1.6zM234.5 312.7h1.6v8h-1.6zM238.4 320.5h1.6v8h-1.6zM242.3 328.3h1.6v8h-1.6zM246.2 336.2h1.6v8h-1.6zM250.1 344h1.6v8h-1.6zM254 351.8h1.6v8h-1.6zM257.8 359.6h1.6v8h-1.6zM261.7 367.4h1.6v8h-1.6zM265.5 375.3h1.6v8h-1.6zM269.4 383.1h1.6v8h-1.6zM273.2 390.9h1.6v8h-1.6zM277.1 398.7h1.6v8h-1.6zM281 406.5h1.6v8h-1.6zM284.8 414.4h1.6v8h-1.6zM288.7 422.2h1.6v8h-1.6zM122.9 39h0.7v8h-0.7zM126.9 46.8h0.7v8h-0.7zM131 54.6h0.7v8h-0.7zM135 62.5h0.7v8h-0.7zM139 70.3h0.7v8h-0.7zM143 78.1h0.7v8h-0.7zM147 85.9h0.7v8h-0.7zM151 93.7h0.7v8h-0.7zM155 101.6h0.7v8h-0.7zM159 109.4h0.7v8h-0.7zM163 117.2h0.7v8h-0.7zM167.1 125h0.7v8h-0.7zM171.1 132.8h0.7v8h-0.7zM175.1 140.7h0.7v8h-0.7zM173.5 148.5h1.6v8h-1.6zM177 156.3h1.6v8h-1.6zM180.6 164.1h1.6v8h-1.6zM184.1 171.9h1.6v8h-1.6zM187.6 179.8h1.6v8h-1.6zM191.1 187.6h1.6v8h-1.6zM194.7 195.4h1.6v8h-1.6zM198.2 203.2h1.6v8h-1.6zM202.2 211h1.6v8h-1.6zM206.2 218.9h1.6v8h-1.6zM210.3 226.7h1.6v8h-1.6zM214.3 234.5h1.6v8h-1.6zM218.4 242.3h1.6v8h-1.6zM222.4 250.1h1.6v8h-1.6zM226.4 258h1.6v8h-1.6zM230.5 265.8h1.6v8h-1.6zM234.5 273.6h1.6v8h-1.6zM238.6 281.4h1.6v8h-1.6zM242.6 289.2h1.6v8h-1.6zM246.7 297.1h1.6v8h-1.6zM250.7 304.9h1.6v8h-1.6zM254.8 312.7h1.6v8h-1.6zM258.8 320.5h1.6v8h-1.6zM262.9 328.3h1.6v8h-1.6zM266.9 336.2h1.6v8h-1.6zM270.9 344h1.6v8h-1.6zM274.9 351.8h1.6v8h-1.6zM278.9 359.6h1.6v8h-1.6zM282.9 367.4h1.6v8h-1.6zM286.8 375.3h1.6v8h-1.6zM290.8 383.1h1.6v8h-1.6zM294.8 390.9h1.6v8h-1.6zM298.8 398.7h1.6v8h-1.6zM302.8 406.5h1.6v8h-1.6zM306.8 414.4h1.6v8h-1.6zM310.7 422.2h1.6v8h-1.6zM141 39h0.7v8h-0.7zM145.2 46.8h0.7v8h-0.7zM149.3 54.6h0.7v8h-0.7zM153.5 62.5h0.7v8h-0.7zM157.7 70.3h0.7v8h-0.7zM161.8 78.1h0.7v8h-0.7zM166 85.9h0.7v8h-0.7zM170.2 93.7h0.7v8h-0.7zM174.3 101.6h0.7v8h-0.7zM178.5 109.4h0.7v8h-0.7zM182.7 117.2h0.7v8h-0.7zM186.8 125h0.7v8h-0.7zM191 132.8h0.7v8h-0.7zM195.2 140.7h0.7v8h-0.7zM191.3 148.5h1.6v8h-1.6zM195 156.3h1.6v8h-1.6zM198.6 164.1h1.6v8h-1.6zM202.3 171.9h1.6v8h-1.6zM206 179.8h1.6v8h-1.6zM209.6 187.6h1.6v8h-1.6zM213.5 195.4h1.6v8h-1.6zM217.7 203.2h1.6v8h-1.6zM221.8 211h1.6v8h-1.6zM226 218.9h1.6v8h-1.6zM230.2 226.7h1.6v8h-1.6zM234.3 234.5h1.6v8h-1.6zM238.5 242.3h1.6v8h-1.6zM242.7 250.1h1.6v8h-1.6zM246.8 258h1.6v8h-1.6zM251 265.8h1.6v8h-1.6zM255.2 273.6h1.6v8h-1.6zM259.3 281.4h1.6v8h-1.6zM263.5 289.2h1.6v8h-1.6zM267.7 297.1h1.6v8h-1.6zM271.8 304.9h1.6v8h-1.6zM276 312.7h1.6v8h-1.6zM280.2 320.5h1.6v8h-1.6zM284.3 328.3h1.6v8h-1.6zM288.5 336.2h1.6v8h-1.6zM292.7 344h1.6v8h-1.6zM296.8 351.8h1.6v8h-1.6zM301 359.6h1.6v8h-1.6zM305.2 367.4h1.6v8h-1.6zM309.3 375.3h1.6v8h-1.6zM313.5 383.1h1.6v8h-1.6zM317.6 390.9h1.6v8h-1.6zM321.8 398.7h1.6v8h-1.6zM326 406.5h1.6v8h-1.6zM330.1 414.4h1.6v8h-1.6zM334.3 422.2h1.6v8h-1.6zM159.1 39h0.7v8h-0.7zM163.4 46.8h0.7v8h-0.7zM167.8 54.6h0.7v8h-0.7zM172.1 62.5h0.7v8h-0.7zM176.4 70.3h0.7v8h-0.7zM180.8 78.1h0.7v8h-0.7zM185.1 85.9h0.7v8h-0.7zM189.4 93.7h0.7v8h-0.7zM193.7 101.6h0.7v8h-0.7zM198.1 109.4h0.7v8h-0.7zM202.4 117.2h0.7v8h-0.7zM206.7 125h0.7v8h-0.7zM211.1 132.8h0.7v8h-0.7zM215.4 140.7h0.7v8h-0.7zM209.3 148.5h1.6v8h-1.6zM213.3 156.3h1.6v8h-1.6zM217.6 164.1h1.6v8h-1.6zM221.9 171.9h1.6v8h-1.6zM226.3 179.8h1.6v8h-1.6zM230.6 187.6h1.6v8h-1.6zM234.9 195.4h1.6v8h-1.6zM239.3 203.2h1.6v8h-1.6zM243.6 211h1.6v8h-1.6zM247.9 218.9h1.6v8h-1.6zM252.2 226.7h1.6v8h-1.6zM256.6 234.5h1.6v8h-1.6zM260.9 242.3h1.6v8h-1.6zM265.2 250.1h1.6v8h-1.6zM269.6 258h1.6v8h-1.6zM273.9 265.8h1.6v8h-1.6zM278.2 273.6h1.6v8h-1.6zM282.6 281.4h1.6v8h-1.6zM286.9 289.2h1.6v8h-1.6zM291.2 297.1h1.6v8h-1.6zM295.6 304.9h1.6v8h-1.6zM299.9 312.7h1.6v8h-1.6zM304.2 320.5h1.6v8h-1.6zM308.6 328.3h1.6v8h-1.6zM312.9 336.2h1.6v8h-1.6zM317.2 344h1.6v8h-1.6zM321.6 351.8h1.6v8h-1.6zM177.2 39h0.7v8h-0.7zM181.7 46.8h0.7v8h-0.7zM186.2 54.6h0.7v8h-0.7zM190.7 62.5h0.7v8h-0.7zM195.2 70.3h0.7v8h-0.7zM199.7 78.1h0.7v8h-0.7zM204.3 85.9h0.7v8h-0.7zM208.8 93.7h0.7v8h-0.7zM213.3 101.6h0.7v8h-0.7zM217.8 109.4h0.7v8h-0.7zM222.3 117.2h0.7v8h-0.7zM226.8 125h0.7v8h-0.7zM231.3 132.8h0.7v8h-0.7zM235.8 140.7h0.7v8h-0.7zM229.5 148.5h1.6v8h-1.6zM234.1 156.3h1.6v8h-1.6zM238.6 164.1h1.6v8h-1.6zM195.3 39h0.7v8h-0.7zM200 46.8h0.7v8h-0.7zM204.7 54.6h0.7v8h-0.7zM209.4 62.5h0.7v8h-0.7zM214.1 70.3h0.7v8h-0.7zM218.8 78.1h0.7v8h-0.7zM223.5 85.9h0.7v8h-0.7zM228.2 93.7h0.7v8h-0.7zM232.9 101.6h0.7v8h-0.7zM237.3 109.4h0.8v8h-0.8zM241.7 117.2h0.9v8h-0.9zM246 125h0.9v8h-0.9zM250.3 132.8h1v8h-1zM254.6 140.7h1.1v8h-1.1zM213.3 39h0.7v8h-0.7zM218 46.8h0.7v8h-0.7zM222.8 54.6h0.7v8h-0.7zM227.5 62.5h0.7v8h-0.7zM232.2 70.3h0.7v8h-0.7zM236.5 78.1h0.8v8h-0.8zM240.9 85.9h0.9v8h-0.9zM245.2 93.7h1v8h-1zM249.6 101.6h1.1v8h-1.1zM253.9 109.4h1.1v8h-1.1zM258.3 117.2h1.2v8h-1.2zM262.6 125h1.3v8h-1.3zM267 132.8h1.4v8h-1.4zM271.3 140.7h1.4v8h-1.4zM231.1 39h0.8v8h-0.8zM235.4 46.8h0.8v8h-0.8zM239.8 54.6h0.9v8h-0.9zM244.1 62.5h1v8h-1zM248.5 70.3h1.1v8h-1.1zM252.8 78.1h1.2v8h-1.2zM257.2 85.9h1.2v8h-1.2zM261.5 93.7h1.3v8h-1.3zM265.9 101.6h1.4v8h-1.4zM270.2 109.4h1.5v8h-1.5zM274.6 117.2h1.5v8h-1.5zM278.9 125h1.6v8h-1.6zM283.3 132.8h1.6v8h-1.6zM287.6 140.7h1.6v8h-1.6zM247.4 39h1.1v8h-1.1zM251.7 46.8h1.2v8h-1.2zM256.1 54.6h1.3v8h-1.3zM260.4 62.5h1.3v8h-1.3zM264.8 70.3h1.4v8h-1.4zM269.1 78.1h1.5v8h-1.5zM273.5 85.9h1.6v8h-1.6zM277.8 93.7h1.6v8h-1.6zM282.2 101.6h1.6v8h-1.6zM286.5 109.4h1.6v8h-1.6zM290.9 117.2h1.6v8h-1.6zM295.2 125h1.6v8h-1.6zM299.6 132.8h1.6v8h-1.6zM303.9 140.7h1.6v8h-1.6zM263.7 39h1.4v8h-1.4zM268 46.8h1.5v8h-1.5zM272.4 54.6h1.6v8h-1.6zM276.7 62.5h1.6v8h-1.6zM281.1 70.3h1.6v8h-1.6zM285.4 78.1h1.6v8h-1.6zM289.8 85.9h1.6v8h-1.6zM294.1 93.7h1.6v8h-1.6zM298.5 101.6h1.6v8h-1.6zM302.8 109.4h1.6v8h-1.6zM307.2 117.2h1.6v8h-1.6zM311.5 125h1.6v8h-1.6zM315.9 132.8h1.6v8h-1.6zM320.2 140.7h1.6v8h-1.6zM280 39h1.6v8h-1.6zM284.3 46.8h1.6v8h-1.6zM288.7 54.6h1.6v8h-1.6zM293 62.5h1.6v8h-1.6zM297.4 70.3h1.6v8h-1.6zM301.7 78.1h1.6v8h-1.6zM306.1 85.9h1.6v8h-1.6zM310.4 93.7h1.6v8h-1.6zM314.8 101.6h1.6v8h-1.6zM319.1 109.4h1.6v8h-1.6zM323.5 117.2h1.6v8h-1.6zM327.8 125h1.6v8h-1.6zM332.2 132.8h1.6v8h-1.6zM336.5 140.7h1.6v8h-1.6zM296.3 39h1.6v8h-1.6zM300.6 46.8h1.6v8h-1.6zM305 54.6h1.6v8h-1.6zM309.3 62.5h1.6v8h-1.6zM313.7 70.3h1.6v8h-1.6zM318 78.1h1.6v8h-1.6zM322.4 85.9h1.6v8h-1.6zM326.7 93.7h1.6v8h-1.6zM331.1 101.6h1.6v8h-1.6zM335.4 109.4h1.6v8h-1.6zM339.9 117.2h1.6v8h-1.6zM344.6 125h1.6v8h-1.6zM349.4 132.8h1.6v8h-1.6zM354.1 140.7h1.6v8h-1.6zM312.6 39h1.6v8h-1.6zM316.9 46.8h1.6v8h-1.6zM321.3 54.6h1.6v8h-1.6zM325.6 62.5h1.6v8h-1.6zM330 70.3h1.6v8h-1.6zM334.3 78.1h1.6v8h-1.6zM338.9 85.9h1.6v8h-1.6zM343.7 93.7h1.6v8h-1.6zM348.4 101.6h1.6v8h-1.6zM353.2 109.4h1.6v8h-1.6zM357.9 117.2h1.6v8h-1.6zM362.6 125h1.6v8h-1.6zM367.4 132.8h1.6v8h-1.6zM372.1 140.7h1.6v8h-1.6zM328.8 39h1.6v8h-1.6zM333.2 46.8h1.6v8h-1.6zM338 54.6h1.6v8h-1.6zM342.7 62.5h1.6v8h-1.6zM347.5 70.3h1.6v8h-1.6zM352.2 78.1h1.6v8h-1.6zM356.9 85.9h1.6v8h-1.6zM361.7 93.7h1.6v8h-1.6zM366.4 101.6h1.6v8h-1.6zM371.2 109.4h1.6v8h-1.6zM375.9 117.2h1.6v8h-1.6zM380.6 125h1.6v8h-1.6zM385.4 132.8h1.6v8h-1.6zM390.1 140.7h1.6v8h-1.6zM346.5 39h1.6v8h-1.6zM351.2 46.8h1.6v8h-1.6zM356 54.6h1.6v8h-1.6zM360.7 62.5h1.6v8h-1.6zM365.5 70.3h1.6v8h-1.6zM370.2 78.1h1.6v8h-1.6zM374.9 85.9h1.6v8h-1.6zM379.7 93.7h1.6v8h-1.6zM384.4 101.6h1.6v8h-1.6zM389.2 109.4h1.6v8h-1.6zM393.9 117.2h1.6v8h-1.6zM364.5 39h1.6v8h-1.6zM369.2 46.8h1.6v8h-1.6zM374 54.6h1.6v8h-1.6zM378.7 62.5h1.6v8h-1.6zM383.5 70.3h1.6v8h-1.6zM388.2 78.1h1.6v8h-1.6zM392.9 85.9h1.6v8h-1.6zM397.7 93.7h1.6v8h-1.6zM382.5 39h1.6v8h-1.6zM387.2 46.8h1.6v8h-1.6zM392 54.6h1.6v8h-1.6zM396.7 62.5h1.6v8h-1.6z" fill="#66bce2" stroke="#66bce2" stroke-width="0.4"/>
<path d="M106.4 187.6h1.2v8h-1.2zM110.2 195.4h1.2v8h-1.2zM114 203.2h1.2v8h-1.2zM117.8 211h1.2v8h-1.2zM121.7 218.9h1.2v8h-1.2zM125.5 226.7h1.2v8h-1.2zM129.3 234.5h1.2v8h-1.2zM133.1 242.3h1.2v8h-1.2zM136.9 250.1h1.2v8h-1.2zM140.7 258h1.2v8h-1.2zM144.5 265.8h1.2v8h-1.2zM148.4 273.6h1.2v8h-1.2zM152.2 281.4h1.2v8h-1.2zM156 289.2h1.2v8h-1.2zM159.8 297.1h1.2v8h-1.2zM163.6 304.9h1.2v8h-1.2zM167.4 312.7h1.2v8h-1.2zM171.2 320.5h1.2v8h-1.2zM175.1 328.3h1.2v8h-1.2zM178.9 336.2h1.2v8h-1.2zM182.7 344h1.2v8h-1.2zM186.5 351.8h1.2v8h-1.2zM190.3 359.6h1.2v8h-1.2zM194.1 367.4h1.2v8h-1.2zM197.9 375.3h1.2v8h-1.2zM201.8 383.1h1.2v8h-1.2zM205.6 390.9h1.2v8h-1.2zM209.4 398.7h1.2v8h-1.2zM213.2 406.5h1.2v8h-1.2zM217 414.4h1.2v8h-1.2zM220.8 422.2h1.2v8h-1.2zM97.7 132.8h1.2v8h-1.2zM101.5 140.7h1.2v8h-1.2zM105.3 148.5h1.2v8h-1.2zM109.1 156.3h1.2v8h-1.2zM113 164.1h1.2v8h-1.2zM116.8 171.9h1.2v8h-1.2zM120.6 179.8h1.2v8h-1.2zM124.4 187.6h1.2v8h-1.2zM128.2 195.4h1.2v8h-1.2zM132 203.2h1.2v8h-1.2zM135.8 211h1.2v8h-1.2zM139.7 218.9h1.2v8h-1.2zM143.5 226.7h1.2v8h-1.2zM147.3 234.5h1.2v8h-1.2zM151.1 242.3h1.2v8h-1.2zM154.9 250.1h1.2v8h-1.2zM158.7 258h1.2v8h-1.2zM162.5 265.8h1.2v8h-1.2zM166.4 273.6h1.2v8h-1.2zM170.2 281.4h1.2v8h-1.2zM174 289.2h1.2v8h-1.2zM177.8 297.1h1.2v8h-1.2zM181.6 304.9h1.2v8h-1.2zM185.4 312.7h1.2v8h-1.2zM189.2 320.5h1.2v8h-1.2zM193.1 328.3h1.2v8h-1.2zM196.9 336.2h1.2v8h-1.2zM200.7 344h1.2v8h-1.2zM204.5 351.8h1.2v8h-1.2zM208.3 359.6h1.2v8h-1.2zM212.1 367.4h1.2v8h-1.2zM215.9 375.3h1.2v8h-1.2zM219.8 383.1h1.2v8h-1.2zM223.6 390.9h1.2v8h-1.2zM227.4 398.7h1.2v8h-1.2zM231.2 406.5h1.2v8h-1.2zM235 414.4h1.2v8h-1.2zM238.8 422.2h1.2v8h-1.2zM100.4 101.6h1.2v8h-1.2zM104.2 109.4h1.2v8h-1.2zM108.1 117.2h1.2v8h-1.2zM111.9 125h1.2v8h-1.2zM115.7 132.8h1.2v8h-1.2zM119.5 140.7h1.2v8h-1.2zM123.3 148.5h1.2v8h-1.2zM127.1 156.3h1.2v8h-1.2zM131 164.1h1.2v8h-1.2zM134.7 171.9h1.2v8h-1.2zM138.2 179.8h1.3v8h-1.3zM141.6 187.6h1.5v8h-1.5zM145.1 195.4h1.6v8h-1.6zM148.6 203.2h1.8v8h-1.8zM152.5 211h1.8v8h-1.8zM156.3 218.9h1.8v8h-1.8zM160.2 226.7h1.8v8h-1.8zM164 234.5h1.7v8h-1.7zM167.9 242.3h1.7v8h-1.7zM171.7 250.1h1.7v8h-1.7zM175.6 258h1.7v8h-1.7zM179.4 265.8h1.7v8h-1.7zM183.3 273.6h1.7v8h-1.7zM187.1 281.4h1.6v8h-1.6zM191 289.2h1.6v8h-1.6zM194.8 297.1h1.6v8h-1.6zM198.7 304.9h1.6v8h-1.6zM202.6 312.7h1.6v8h-1.6zM206.4 320.5h1.5v8h-1.5zM210.3 328.3h1.5v8h-1.5zM214.1 336.2h1.5v8h-1.5zM217.9 344h1.5v8h-1.5zM221.8 351.8h1.5v8h-1.5zM225.6 359.6h1.5v8h-1.5zM229.4 367.4h1.5v8h-1.5zM233.2 375.3h1.5v8h-1.5zM237 383.1h1.5v8h-1.5zM240.8 390.9h1.5v8h-1.5zM244.6 398.7h1.5v8h-1.5zM248.4 406.5h1.5v8h-1.5zM252.2 414.4h1.5v8h-1.5zM256.1 422.2h1.5v8h-1.5zM99.4 62.5h1.2v8h-1.2zM103.2 70.3h1.2v8h-1.2zM107 78.1h1.2v8h-1.2zM110.8 85.9h1.2v8h-1.2zM114.6 93.7h1.2v8h-1.2zM118.4 101.6h1.2v8h-1.2zM122.2 109.4h1.2v8h-1.2zM126.1 117.2h1.2v8h-1.2zM129.9 125h1.2v8h-1.2zM133.7 132.8h1.2v8h-1.2zM137.5 140.7h1.2v8h-1.2zM140.7 148.5h1.5v8h-1.5zM144.2 156.3h1.6v8h-1.6zM147.7 164.1h1.7v8h-1.7zM151.1 171.9h1.9v8h-1.9zM154.6 179.8h2v8h-2zM158.1 187.6h2.2v8h-2.2zM161.6 195.4h2.3v8h-2.3zM165.1 203.2h2.5v8h-2.5zM168.9 211h2.5v8h-2.5zM172.8 218.9h2.5v8h-2.5zM176.6 226.7h2.4v8h-2.4zM180.5 234.5h2.4v8h-2.4zM184.3 242.3h2.4v8h-2.4zM188.2 250.1h2.4v8h-2.4zM192.1 258h2.4v8h-2.4zM195.9 265.8h2.4v8h-2.4zM199.8 273.6h2.3v8h-2.3zM203.6 281.4h2.3v8h-2.3zM207.5 289.2h2.3v8h-2.3zM211.3 297.1h2.3v8h-2.3zM215.2 304.9h2.3v8h-2.3zM219 312.7h2.2v8h-2.2zM222.9 320.5h2.2v8h-2.2zM226.8 328.3h2.2v8h-2.2zM230.6 336.2h2.2v8h-2.2zM234.4 344h2.2v8h-2.2zM238.2 351.8h2.2v8h-2.2zM242.1 359.6h2.2v8h-2.2zM245.9 367.4h2.2v8h-2.2zM249.7 375.3h2.2v8h-2.2zM253.5 383.1h2.2v8h-2.2zM257.3 390.9h2.2v8h-2.2zM261.1 398.7h2.2v8h-2.2zM264.9 406.5h2.2v8h-2.2zM268.7 414.4h2.2v8h-2.2zM272.5 422.2h2.2v8h-2.2zM105.9 39h1.2v8h-1.2zM109.8 46.8h1.2v8h-1.2zM113.7 54.6h1.2v8h-1.2zM117.5 62.5h1.2v8h-1.2zM121.4 70.3h1.2v8h-1.2zM125.3 78.1h1.2v8h-1.2zM129.2 85.9h1.2v8h-1.2zM133 93.7h1.2v8h-1.2zM136.9 101.6h1.2v8h-1.2zM140.8 109.4h1.2v8h-1.2zM144.6 117.2h1.2v8h-1.2zM148.5 125h1.2v8h-1.2zM152.4 132.8h1.2v8h-1.2zM156.2 140.7h1.2v8h-1.2zM157.9 148.5h2.2v8h-2.2zM161.4 156.3h2.3v8h-2.3zM165 164.1h2.5v8h-2.5zM168.5 171.9h2.6v8h-2.6zM172 179.8h2.8v8h-2.8zM175.6 187.6h2.9v8h-2.9zM179.1 195.4h3.1v8h-3.1zM182.7 203.2h3.2v8h-3.2zM186.5 211h3.2v8h-3.2zM190.4 218.9h3.2v8h-3.2zM194.3 226.7h3.2v8h-3.2zM198.2 234.5h3.2v8h-3.2zM202.1 242.3h3.2v8h-3.2zM206 250.1h3.1v8h-3.1zM209.9 258h3.1v8h-3.1zM213.8 265.8h3.1v8h-3.1zM217.7 273.6h3.1v8h-3.1zM221.6 281.4h3.1v8h-3.1zM225.6 289.2h3.1v8h-3.1zM229.5 297.1h3v8h-3zM233.4 304.9h3v8h-3zM237.3 312.7h3v8h-3zM241.2 320.5h3v8h-3zM245.1 328.3h3v8h-3zM249 336.2h3v8h-3zM252.9 344h3v8h-3zM256.7 351.8h3v8h-3zM260.6 359.6h3v8h-3zM264.4 367.4h3v8h-3zM268.3 375.3h3v8h-3zM272.2 383.1h3v8h-3zM276 390.9h3v8h-3zM279.9 398.7h3v8h-3zM283.8 406.5h3v8h-3zM287.6 414.4h3v8h-3zM291.5 422.2h3v8h-3zM124 39h1.2v8h-1.2zM128 46.8h1.2v8h-1.2zM132 54.6h1.2v8h-1.2zM136 62.5h1.2v8h-1.2zM140.1 70.3h1.2v8h-1.2zM144.1 78.1h1.2v8h-1.2zM148.1 85.9h1.2v8h-1.2zM152.1 93.7h1.2v8h-1.2zM156.1 101.6h1.2v8h-1.2zM160.1 109.4h1.2v8h-1.2zM164.1 117.2h1.2v8h-1.2zM168.1 125h1.2v8h-1.2zM172.2 132.8h1.2v8h-1.2zM176.2 140.7h1.2v8h-1.2zM176.3 148.5h2.9v8h-2.9zM179.9 156.3h3.1v8h-3.1zM183.6 164.1h3.3v8h-3.3zM187.3 171.9h3.4v8h-3.4zM191 179.8h3.6v8h-3.6zM194.6 187.6h3.7v8h-3.7zM198.3 195.4h3.9v8h-3.9zM202 203.2h4v8h-4zM206 211h4v8h-4zM210 218.9h4v8h-4zM214 226.7h4v8h-4zM218.1 234.5h4v8h-4zM222.1 242.3h4v8h-4zM226.1 250.1h4v8h-4zM230.2 258h4v8h-4zM234.2 265.8h4v8h-4zM238.2 273.6h4v8h-4zM242.3 281.4h3.9v8h-3.9zM246.3 289.2h3.9v8h-3.9zM250.3 297.1h3.9v8h-3.9zM254.4 304.9h3.9v8h-3.9zM258.4 312.7h3.9v8h-3.9zM262.5 320.5h3.9v8h-3.9zM266.5 328.3h3.9v8h-3.9zM270.5 336.2h3.9v8h-3.9zM274.5 344h3.9v8h-3.9zM278.5 351.8h3.9v8h-3.9zM282.5 359.6h3.9v8h-3.9zM286.5 367.4h3.9v8h-3.9zM290.5 375.3h3.9v8h-3.9zM294.5 383.1h3.9v8h-3.9zM298.5 390.9h3.9v8h-3.9zM302.5 398.7h3.9v8h-3.9zM306.5 406.5h3.9v8h-3.9zM310.5 414.4h3.9v8h-3.9zM314.4 422.2h4v8h-4zM142.1 39h1.2v8h-1.2zM146.3 46.8h1.2v8h-1.2zM150.4 54.6h1.2v8h-1.2zM154.6 62.5h1.2v8h-1.2zM158.8 70.3h1.2v8h-1.2zM162.9 78.1h1.2v8h-1.2zM167.1 85.9h1.2v8h-1.2zM171.2 93.7h1.2v8h-1.2zM175.4 101.6h1.2v8h-1.2zM179.6 109.4h1.2v8h-1.2zM183.7 117.2h1.2v8h-1.2zM187.9 125h1.2v8h-1.2zM192.1 132.8h1.2v8h-1.2zM196.2 140.7h1.2v8h-1.2zM194.8 148.5h3.7v8h-3.7zM198.6 156.3h3.9v8h-3.9zM202.4 164.1h4v8h-4zM206.2 171.9h4.2v8h-4.2zM210 179.8h4.4v8h-4.4zM213.9 187.6h4.5v8h-4.5zM217.8 195.4h4.6v8h-4.6zM222 203.2h4.6v8h-4.6zM226.2 211h4.6v8h-4.6zM230.3 218.9h4.6v8h-4.6zM234.5 226.7h4.6v8h-4.6zM238.7 234.5h4.6v8h-4.6zM242.8 242.3h4.6v8h-4.6zM247 250.1h4.6v8h-4.6zM251.2 258h4.6v8h-4.6zM255.3 265.8h4.6v8h-4.6zM259.5 273.6h4.6v8h-4.6zM263.7 281.4h4.6v8h-4.6zM267.8 289.2h4.6v8h-4.6zM272 297.1h4.6v8h-4.6zM276.2 304.9h4.6v8h-4.6zM280.3 312.7h4.6v8h-4.6zM284.5 320.5h4.6v8h-4.6zM288.6 328.3h4.6v8h-4.6zM292.8 336.2h4.6v8h-4.6zM297 344h4.6v8h-4.6zM301.1 351.8h4.6v8h-4.6zM305.3 359.6h4.6v8h-4.6zM309.5 367.4h4.6v8h-4.6zM313.6 375.3h4.6v8h-4.6zM317.8 383.1h4.6v8h-4.6zM322 390.9h4.6v8h-4.6zM326.1 398.7h4.6v8h-4.6zM330.3 406.5h4.6v8h-4.6zM334.5 414.4h4.6v8h-4.6zM338.6 422.2h4.6v8h-4.6zM160.2 39h1.2v8h-1.2zM164.5 46.8h1.2v8h-1.2zM168.8 54.6h1.2v8h-1.2zM173.2 62.5h1.2v8h-1.2zM177.5 70.3h1.2v8h-1.2zM181.8 78.1h1.2v8h-1.2zM186.2 85.9h1.2v8h-1.2zM190.5 93.7h1.2v8h-1.2zM194.8 101.6h1.2v8h-1.2zM199.2 109.4h1.2v8h-1.2zM203.5 117.2h1.2v8h-1.2zM207.8 125h1.2v8h-1.2zM212.2 132.8h1.2v8h-1.2zM216.5 140.7h1.2v8h-1.2zM213.5 148.5h4.5v8h-4.5zM217.6 156.3h4.6v8h-4.6zM221.9 164.1h4.6v8h-4.6zM226.2 171.9h4.6v8h-4.6zM230.6 179.8h4.6v8h-4.6zM234.9 187.6h4.6v8h-4.6zM239.2 195.4h4.6v8h-4.6zM243.6 203.2h4.6v8h-4.6zM247.9 211h4.6v8h-4.6zM252.2 218.9h4.6v8h-4.6zM256.6 226.7h4.6v8h-4.6zM260.9 234.5h4.6v8h-4.6zM265.2 242.3h4.6v8h-4.6zM269.6 250.1h4.6v8h-4.6zM273.9 258h4.6v8h-4.6zM278.2 265.8h4.6v8h-4.6zM282.6 273.6h4.6v8h-4.6zM286.9 281.4h4.6v8h-4.6zM291.2 289.2h4.6v8h-4.6zM295.6 297.1h4.6v8h-4.6zM299.9 304.9h4.6v8h-4.6zM304.2 312.7h4.6v8h-4.6zM308.5 320.5h4.6v8h-4.6zM312.9 328.3h4.6v8h-4.6zM317.2 336.2h4.6v8h-4.6zM321.5 344h4.6v8h-4.6zM325.9 351.8h4.6v8h-4.6zM178.3 39h1.2v8h-1.2zM182.8 46.8h1.2v8h-1.2zM187.3 54.6h1.2v8h-1.2zM191.8 62.5h1.2v8h-1.2zM196.3 70.3h1.2v8h-1.2zM200.8 78.1h1.2v8h-1.2zM205.3 85.9h1.2v8h-1.2zM209.8 93.7h1.2v8h-1.2zM214.4 101.6h1.2v8h-1.2zM218.9 109.4h1.2v8h-1.2zM223.4 117.2h1.2v8h-1.2zM227.9 125h1.2v8h-1.2zM232.4 132.8h1.2v8h-1.2zM236.9 140.7h1.2v8h-1.2zM233.9 148.5h4.6v8h-4.6zM238.4 156.3h4.6v8h-4.6zM242.9 164.1h4.6v8h-4.6zM196.4 39h1.2v8h-1.2zM201.1 46.8h1.2v8h-1.2zM205.8 54.6h1.2v8h-1.2zM210.5 62.5h1.2v8h-1.2zM215.2 70.3h1.2v8h-1.2zM219.9 78.1h1.2v8h-1.2zM224.6 85.9h1.2v8h-1.2zM229.3 93.7h1.2v8h-1.2zM234 101.6h1.2v8h-1.2zM238.5 109.4h1.3v8h-1.3zM242.9 117.2h1.4v8h-1.4zM247.4 125h1.5v8h-1.5zM251.8 132.8h1.6v8h-1.6zM256.3 140.7h1.7v8h-1.7zM214.4 39h1.2v8h-1.2zM219.1 46.8h1.2v8h-1.2zM223.9 54.6h1.2v8h-1.2zM228.6 62.5h1.2v8h-1.2zM233.3 70.3h1.2v8h-1.2zM237.7 78.1h1.3v8h-1.3zM242.2 85.9h1.4v8h-1.4zM246.7 93.7h1.6v8h-1.6zM251.1 101.6h1.7v8h-1.7zM255.6 109.4h1.8v8h-1.8zM260.1 117.2h1.9v8h-1.9zM264.5 125h2.1v8h-2.1zM269 132.8h2.2v8h-2.2zM273.5 140.7h2.3v8h-2.3zM232.2 39h1.2v8h-1.2zM236.7 46.8h1.4v8h-1.4zM241.1 54.6h1.5v8h-1.5zM245.6 62.5h1.6v8h-1.6zM250.1 70.3h1.7v8h-1.7zM254.5 78.1h1.9v8h-1.9zM259 85.9h2v8h-2zM263.5 93.7h2.1v8h-2.1zM267.9 101.6h2.2v8h-2.2zM272.4 109.4h2.3v8h-2.3zM276.9 117.2h2.5v8h-2.5zM281.3 125h2.6v8h-2.6zM285.8 132.8h2.7v8h-2.7zM290.3 140.7h2.8v8h-2.8zM249 39h1.8v8h-1.8zM253.5 46.8h1.9v8h-1.9zM258 54.6h2v8h-2zM262.4 62.5h2.1v8h-2.1zM266.9 70.3h2.3v8h-2.3zM271.4 78.1h2.4v8h-2.4zM275.8 85.9h2.5v8h-2.5zM280.3 93.7h2.6v8h-2.6zM284.8 101.6h2.8v8h-2.8zM289.2 109.4h2.9v8h-2.9zM293.7 117.2h3v8h-3zM298.2 125h3.1v8h-3.1zM302.6 132.8h3.3v8h-3.3zM307.1 140.7h3.4v8h-3.4zM265.8 39h2.3v8h-2.3zM270.3 46.8h2.4v8h-2.4zM274.8 54.6h2.6v8h-2.6zM279.2 62.5h2.7v8h-2.7zM283.7 70.3h2.8v8h-2.8zM288.2 78.1h2.9v8h-2.9zM292.6 85.9h3.1v8h-3.1zM297.1 93.7h3.2v8h-3.2zM301.6 101.6h3.3v8h-3.3zM306 109.4h3.4v8h-3.4zM310.5 117.2h3.6v8h-3.6zM315 125h3.7v8h-3.7zM319.4 132.8h3.8v8h-3.8zM323.9 140.7h3.9v8h-3.9zM282.6 39h2.9v8h-2.9zM287.1 46.8h3v8h-3zM291.6 54.6h3.1v8h-3.1zM296 62.5h3.2v8h-3.2zM300.5 70.3h3.4v8h-3.4zM305 78.1h3.5v8h-3.5zM309.4 85.9h3.6v8h-3.6zM313.9 93.7h3.7v8h-3.7zM318.4 101.6h3.9v8h-3.9zM322.8 109.4h4v8h-4zM327.3 117.2h4.1v8h-4.1zM331.8 125h4.2v8h-4.2zM336.2 132.8h4.4v8h-4.4zM340.7 140.7h4.5v8h-4.5zM299.4 39h3.4v8h-3.4zM303.9 46.8h3.5v8h-3.5zM308.4 54.6h3.7v8h-3.7zM312.8 62.5h3.8v8h-3.8zM317.3 70.3h3.9v8h-3.9zM321.8 78.1h4v8h-4zM326.2 85.9h4.2v8h-4.2zM330.7 93.7h4.3v8h-4.3zM335.2 101.6h4.4v8h-4.4zM339.7 109.4h4.5v8h-4.5zM344.2 117.2h4.6v8h-4.6zM349 125h4.6v8h-4.6zM353.7 132.8h4.6v8h-4.6zM358.4 140.7h4.6v8h-4.6zM316.3 39h4v8h-4zM320.7 46.8h4.1v8h-4.1zM325.2 54.6h4.2v8h-4.2zM329.7 62.5h4.3v8h-4.3zM334.1 70.3h4.4v8h-4.4zM338.6 78.1h4.6v8h-4.6zM343.3 85.9h4.6v8h-4.6zM348 93.7h4.6v8h-4.6zM352.7 101.6h4.6v8h-4.6zM357.5 109.4h4.6v8h-4.6zM362.2 117.2h4.6v8h-4.6zM367 125h4.6v8h-4.6zM371.7 132.8h4.6v8h-4.6zM376.4 140.7h4.6v8h-4.6zM333.1 39h4.5v8h-4.5zM337.6 46.8h4.6v8h-4.6zM342.3 54.6h4.6v8h-4.6zM347 62.5h4.6v8h-4.6zM351.8 70.3h4.6v8h-4.6zM356.5 78.1h4.6v8h-4.6zM361.3 85.9h4.6v8h-4.6zM366 93.7h4.6v8h-4.6zM370.7 101.6h4.6v8h-4.6zM375.5 109.4h4.6v8h-4.6zM380.2 117.2h4.6v8h-4.6zM385 125h4.6v8h-4.6zM389.7 132.8h4.6v8h-4.6zM394.4 140.7h4.6v8h-4.6zM350.8 39h4.6v8h-4.6zM355.6 46.8h4.6v8h-4.6zM360.3 54.6h4.6v8h-4.6zM365 62.5h4.6v8h-4.6zM369.8 70.3h4.6v8h-4.6zM374.5 78.1h4.6v8h-4.6zM379.3 85.9h4.6v8h-4.6zM384 93.7h4.6v8h-4.6zM388.7 101.6h4.6v8h-4.6zM393.5 109.4h4.6v8h-4.6zM398.2 117.2h4.6v8h-4.6zM368.8 39h4.6v8h-4.6zM373.6 46.8h4.6v8h-4.6zM378.3 54.6h4.6v8h-4.6zM383 62.5h4.6v8h-4.6zM387.8 70.3h4.6v8h-4.6zM392.5 78.1h4.6v8h-4.6zM397.3 85.9h4.6v8h-4.6zM402 93.7h4.6v8h-4.6zM386.8 39h4.6v8h-4.6zM391.6 46.8h4.6v8h-4.6zM396.3 54.6h4.6v8h-4.6zM401 62.5h4.6v8h-4.6z" fill="#3358a8" stroke="#3358a8" stroke-width="0.4"/>
<path d="M107.9 187.6h0.7v8h-0.7zM111.7 195.4h0.7v8h-0.7zM115.5 203.2h0.7v8h-0.7zM119.4 211h0.7v8h-0.7zM123.2 218.9h0.7v8h-0.7zM127 226.7h0.7v8h-0.7zM130.8 234.5h0.7v8h-0.7zM134.6 242.3h0.7v8h-0.7zM138.4 250.1h0.7v8h-0.7zM142.2 258h0.7v8h-0.7zM146.1 265.8h0.7v8h-0.7zM149.9 273.6h0.7v8h-0.7zM153.7 281.4h0.7v8h-0.7zM157.5 289.2h0.7v8h-0.7zM161.3 297.1h0.7v8h-0.7zM165.1 304.9h0.7v8h-0.7zM168.9 312.7h0.7v8h-0.7zM172.8 320.5h0.7v8h-0.7zM176.6 328.3h0.7v8h-0.7zM180.4 336.2h0.7v8h-0.7zM184.2 344h0.7v8h-0.7zM188 351.8h0.7v8h-0.7zM191.8 359.6h0.7v8h-0.7zM195.6 367.4h0.7v8h-0.7zM199.5 375.3h0.7v8h-0.7zM203.3 383.1h0.7v8h-0.7zM207.1 390.9h0.7v8h-0.7zM210.9 398.7h0.7v8h-0.7zM214.7 406.5h0.7v8h-0.7zM218.5 414.4h0.7v8h-0.7zM222.3 422.2h0.7v8h-0.7zM99.2 132.8h0.7v8h-0.7zM103 140.7h0.7v8h-0.7zM106.8 148.5h0.7v8h-0.7zM110.6 156.3h0.7v8h-0.7zM114.5 164.1h0.7v8h-0.7zM118.3 171.9h0.7v8h-0.7zM122.1 179.8h0.7v8h-0.7zM125.9 187.6h0.7v8h-0.7zM129.7 195.4h0.7v8h-0.7zM133.5 203.2h0.7v8h-0.7zM137.4 211h0.7v8h-0.7zM141.2 218.9h0.7v8h-0.7zM145 226.7h0.7v8h-0.7zM148.8 234.5h0.7v8h-0.7zM152.6 242.3h0.7v8h-0.7zM156.4 250.1h0.7v8h-0.7zM160.2 258h0.7v8h-0.7zM164.1 265.8h0.7v8h-0.7zM167.9 273.6h0.7v8h-0.7zM171.7 281.4h0.7v8h-0.7zM175.5 289.2h0.7v8h-0.7zM179.3 297.1h0.7v8h-0.7zM183.1 304.9h0.7v8h-0.7zM186.9 312.7h0.7v8h-0.7zM190.8 320.5h0.7v8h-0.7zM194.6 328.3h0.7v8h-0.7zM198.4 336.2h0.7v8h-0.7zM202.2 344h0.7v8h-0.7zM206 351.8h0.7v8h-0.7zM209.8 359.6h0.7v8h-0.7zM213.6 367.4h0.7v8h-0.7zM217.5 375.3h0.7v8h-0.7zM221.3 383.1h0.7v8h-0.7zM225.1 390.9h0.7v8h-0.7zM228.9 398.7h0.7v8h-0.7zM232.7 406.5h0.7v8h-0.7zM236.5 414.4h0.7v8h-0.7zM240.3 422.2h0.7v8h-0.7zM101.9 101.6h0.7v8h-0.7zM105.8 109.4h0.7v8h-0.7zM109.6 117.2h0.7v8h-0.7zM113.4 125h0.7v8h-0.7zM117.2 132.8h0.7v8h-0.7zM121 140.7h0.7v8h-0.7zM124.8 148.5h0.7v8h-0.7zM128.6 156.3h0.7v8h-0.7zM132.5 164.1h0.7v8h-0.7zM136.2 171.9h0.8v8h-0.8zM139.9 179.8h0.8v8h-0.8zM143.6 187.6h0.9v8h-0.9zM147.3 195.4h1v8h-1zM151 203.2h1.1v8h-1.1zM154.8 211h1.1v8h-1.1zM158.6 218.9h1.1v8h-1.1zM162.5 226.7h1.1v8h-1.1zM166.3 234.5h1.1v8h-1.1zM170.1 242.3h1.1v8h-1.1zM173.9 250.1h1.1v8h-1.1zM177.8 258h1.1v8h-1.1zM181.6 265.8h1v8h-1zM185.4 273.6h1v8h-1zM189.3 281.4h1v8h-1zM193.1 289.2h1v8h-1zM196.9 297.1h1v8h-1zM200.8 304.9h1v8h-1zM204.6 312.7h1v8h-1zM208.4 320.5h1v8h-1zM212.3 328.3h0.9v8h-0.9zM216.1 336.2h0.9v8h-0.9zM219.9 344h0.9v8h-0.9zM223.7 351.8h0.9v8h-0.9zM227.5 359.6h0.9v8h-0.9zM231.3 367.4h0.9v8h-0.9zM235.2 375.3h0.9v8h-0.9zM239 383.1h0.9v8h-0.9zM242.8 390.9h0.9v8h-0.9zM246.6 398.7h0.9v8h-0.9zM250.4 406.5h0.9v8h-0.9zM254.2 414.4h0.9v8h-0.9zM258 422.2h0.9v8h-0.9zM100.9 62.5h0.7v8h-0.7zM104.7 70.3h0.7v8h-0.7zM108.5 78.1h0.7v8h-0.7zM112.3 85.9h0.7v8h-0.7zM116.1 93.7h0.7v8h-0.7zM119.9 101.6h0.7v8h-0.7zM123.8 109.4h0.7v8h-0.7zM127.6 117.2h0.7v8h-0.7zM131.4 125h0.7v8h-0.7zM135.2 132.8h0.7v8h-0.7zM139 140.7h0.7v8h-0.7zM142.6 148.5h0.9v8h-0.9zM146.3 156.3h1v8h-1zM149.9 164.1h1.1v8h-1.1zM153.6 171.9h1.2v8h-1.2zM157.3 179.8h1.3v8h-1.3zM161 187.6h1.4v8h-1.4zM164.7 195.4h1.5v8h-1.5zM168.4 203.2h1.5v8h-1.5zM172.2 211h1.5v8h-1.5zM176 218.9h1.5v8h-1.5zM179.9 226.7h1.5v8h-1.5zM183.7 234.5h1.5v8h-1.5zM187.5 242.3h1.5v8h-1.5zM191.3 250.1h1.5v8h-1.5zM195.2 258h1.5v8h-1.5zM199 265.8h1.5v8h-1.5zM202.8 273.6h1.5v8h-1.5zM206.7 281.4h1.5v8h-1.5zM210.5 289.2h1.4v8h-1.4zM214.3 297.1h1.4v8h-1.4zM218.2 304.9h1.4v8h-1.4zM222 312.7h1.4v8h-1.4zM225.8 320.5h1.4v8h-1.4zM229.7 328.3h1.4v8h-1.4zM233.5 336.2h1.4v8h-1.4zM237.3 344h1.4v8h-1.4zM241.1 351.8h1.4v8h-1.4zM244.9 359.6h1.4v8h-1.4zM248.7 367.4h1.4v8h-1.4zM252.5 375.3h1.4v8h-1.4zM256.4 383.1h1.4v8h-1.4zM260.2 390.9h1.4v8h-1.4zM264 398.7h1.4v8h-1.4zM267.8 406.5h1.4v8h-1.4zM271.6 414.4h1.4v8h-1.4zM275.4 422.2h1.4v8h-1.4zM107.5 39h0.7v8h-0.7zM111.3 46.8h0.7v8h-0.7zM115.2 54.6h0.7v8h-0.7zM119.1 62.5h0.7v8h-0.7zM122.9 70.3h0.7v8h-0.7zM126.8 78.1h0.7v8h-0.7zM130.7 85.9h0.7v8h-0.7zM134.5 93.7h0.7v8h-0.7zM138.4 101.6h0.7v8h-0.7zM142.3 109.4h0.7v8h-0.7zM146.1 117.2h0.7v8h-0.7zM150 125h0.7v8h-0.7zM153.9 132.8h0.7v8h-0.7zM157.7 140.7h0.7v8h-0.7zM160.7 148.5h1.4v8h-1.4zM164.5 156.3h1.5v8h-1.5zM168.2 164.1h1.5v8h-1.5zM171.9 171.9h1.6v8h-1.6zM175.7 179.8h1.7v8h-1.7zM179.4 187.6h1.8v8h-1.8zM183.2 195.4h1.9v8h-1.9zM186.9 203.2h2v8h-2zM190.8 211h2v8h-2zM194.6 218.9h2v8h-2zM198.5 226.7h2v8h-2zM202.4 234.5h2v8h-2zM206.3 242.3h2v8h-2zM210.2 250.1h2v8h-2zM214 258h2v8h-2zM217.9 265.8h1.9v8h-1.9zM221.8 273.6h1.9v8h-1.9zM225.7 281.4h1.9v8h-1.9zM229.6 289.2h1.9v8h-1.9zM233.5 297.1h1.9v8h-1.9zM237.3 304.9h1.9v8h-1.9zM241.2 312.7h1.9v8h-1.9zM245.1 320.5h1.9v8h-1.9zM249 328.3h1.9v8h-1.9zM252.9 336.2h1.8v8h-1.8zM256.7 344h1.8v8h-1.8zM260.6 351.8h1.9v8h-1.9zM264.5 359.6h1.9v8h-1.9zM268.3 367.4h1.9v8h-1.9zM272.2 375.3h1.9v8h-1.9zM276.1 383.1h1.9v8h-1.9zM279.9 390.9h1.9v8h-1.9zM283.8 398.7h1.9v8h-1.9zM287.7 406.5h1.9v8h-1.9zM291.5 414.4h1.9v8h-1.9zM295.4 422.2h1.9v8h-1.9zM125.5 39h0.7v8h-0.7zM129.5 46.8h0.7v8h-0.7zM133.6 54.6h0.7v8h-0.7zM137.6 62.5h0.7v8h-0.7zM141.6 70.3h0.7v8h-0.7zM145.6 78.1h0.7v8h-0.7zM149.6 85.9h0.7v8h-0.7zM153.6 93.7h0.7v8h-0.7zM157.6 101.6h0.7v8h-0.7zM161.6 109.4h0.7v8h-0.7zM165.6 117.2h0.7v8h-0.7zM169.7 125h0.7v8h-0.7zM173.7 132.8h0.7v8h-0.7zM177.7 140.7h0.7v8h-0.7zM180.1 148.5h1.8v8h-1.8zM184 156.3h1.9v8h-1.9zM187.9 164.1h2v8h-2zM191.7 171.9h2.1v8h-2.1zM195.6 179.8h2.2v8h-2.2zM199.5 187.6h2.3v8h-2.3zM203.4 195.4h2.4v8h-2.4zM207.3 203.2h2.5v8h-2.5zM211.3 211h2.5v8h-2.5zM215.3 218.9h2.5v8h-2.5zM219.3 226.7h2.5v8h-2.5zM223.3 234.5h2.5v8h-2.5zM227.3 242.3h2.5v8h-2.5zM231.4 250.1h2.5v8h-2.5zM235.4 258h2.5v8h-2.5zM239.4 265.8h2.5v8h-2.5zM243.4 273.6h2.5v8h-2.5zM247.4 281.4h2.5v8h-2.5zM251.5 289.2h2.5v8h-2.5zM255.5 297.1h2.4v8h-2.4zM259.5 304.9h2.4v8h-2.4zM263.5 312.7h2.4v8h-2.4zM267.6 320.5h2.4v8h-2.4zM271.6 328.3h2.4v8h-2.4zM275.6 336.2h2.4v8h-2.4zM279.6 344h2.4v8h-2.4zM283.6 351.8h2.4v8h-2.4zM287.6 359.6h2.4v8h-2.4zM291.6 367.4h2.4v8h-2.4zM295.6 375.3h2.4v8h-2.4zM299.6 383.1h2.4v8h-2.4zM303.6 390.9h2.4v8h-2.4zM307.6 398.7h2.5v8h-2.5zM311.6 406.5h2.5v8h-2.5zM315.6 414.4h2.5v8h-2.5zM319.6 422.2h2.5v8h-2.5zM143.6 39h0.7v8h-0.7zM147.8 46.8h0.7v8h-0.7zM151.9 54.6h0.7v8h-0.7zM156.1 62.5h0.7v8h-0.7zM160.3 70.3h0.7v8h-0.7zM164.4 78.1h0.7v8h-0.7zM168.6 85.9h0.7v8h-0.7zM172.8 93.7h0.7v8h-0.7zM176.9 101.6h0.7v8h-0.7zM181.1 109.4h0.7v8h-0.7zM185.3 117.2h0.7v8h-0.7zM189.4 125h0.7v8h-0.7zM193.6 132.8h0.7v8h-0.7zM197.8 140.7h0.7v8h-0.7zM199.7 148.5h2.3v8h-2.3zM203.7 156.3h2.4v8h-2.4zM207.7 164.1h2.5v8h-2.5zM211.7 171.9h2.6v8h-2.6zM215.8 179.8h2.7v8h-2.7zM219.8 187.6h2.8v8h-2.8zM223.9 195.4h2.9v8h-2.9zM228.1 203.2h2.9v8h-2.9zM232.2 211h2.9v8h-2.9zM236.4 218.9h2.9v8h-2.9zM240.5 226.7h2.9v8h-2.9zM244.7 234.5h2.9v8h-2.9zM248.9 242.3h2.9v8h-2.9zM253 250.1h2.9v8h-2.9zM257.2 258h2.9v8h-2.9zM261.4 265.8h2.9v8h-2.9zM265.5 273.6h2.9v8h-2.9zM269.7 281.4h2.9v8h-2.9zM273.9 289.2h2.9v8h-2.9zM278 297.1h2.9v8h-2.9zM282.2 304.9h2.9v8h-2.9zM286.4 312.7h2.9v8h-2.9zM290.5 320.5h2.9v8h-2.9zM294.7 328.3h2.9v8h-2.9zM298.9 336.2h2.9v8h-2.9zM303 344h2.9v8h-2.9zM307.2 351.8h2.9v8h-2.9zM311.4 359.6h2.9v8h-2.9zM315.5 367.4h2.9v8h-2.9zM319.7 375.3h2.9v8h-2.9zM323.9 383.1h2.9v8h-2.9zM328 390.9h2.9v8h-2.9zM332.2 398.7h2.9v8h-2.9zM336.3 406.5h2.9v8h-2.9zM340.5 414.4h2.9v8h-2.9zM344.7 422.2h2.9v8h-2.9zM161.7 39h0.7v8h-0.7zM166 46.8h0.7v8h-0.7zM170.4 54.6h0.7v8h-0.7zM174.7 62.5h0.7v8h-0.7zM179 70.3h0.7v8h-0.7zM183.3 78.1h0.7v8h-0.7zM187.7 85.9h0.7v8h-0.7zM192 93.7h0.7v8h-0.7zM196.3 101.6h0.7v8h-0.7zM200.7 109.4h0.7v8h-0.7zM205 117.2h0.7v8h-0.7zM209.3 125h0.7v8h-0.7zM213.7 132.8h0.7v8h-0.7zM218 140.7h0.7v8h-0.7zM219.4 148.5h2.8v8h-2.8zM223.6 156.3h2.9v8h-2.9zM228 164.1h2.9v8h-2.9zM232.3 171.9h2.9v8h-2.9zM236.6 179.8h2.9v8h-2.9zM241 187.6h2.9v8h-2.9zM245.3 195.4h2.9v8h-2.9zM249.6 203.2h2.9v8h-2.9zM254 211h2.9v8h-2.9zM258.3 218.9h2.9v8h-2.9zM262.6 226.7h2.9v8h-2.9zM266.9 234.5h2.9v8h-2.9zM271.3 242.3h2.9v8h-2.9zM275.6 250.1h2.9v8h-2.9zM279.9 258h2.9v8h-2.9zM284.3 265.8h2.9v8h-2.9zM288.6 273.6h2.9v8h-2.9zM292.9 281.4h2.9v8h-2.9zM297.3 289.2h2.9v8h-2.9zM301.6 297.1h2.9v8h-2.9zM305.9 304.9h2.9v8h-2.9zM310.3 312.7h2.9v8h-2.9zM314.6 320.5h2.9v8h-2.9zM318.9 328.3h2.9v8h-2.9zM323.3 336.2h2.9v8h-2.9zM327.6 344h2.9v8h-2.9zM331.9 351.8h2.9v8h-2.9zM179.8 39h0.7v8h-0.7zM184.3 46.8h0.7v8h-0.7zM188.8 54.6h0.7v8h-0.7zM193.3 62.5h0.7v8h-0.7zM197.8 70.3h0.7v8h-0.7zM202.3 78.1h0.7v8h-0.7zM206.8 85.9h0.7v8h-0.7zM211.4 93.7h0.7v8h-0.7zM215.9 101.6h0.7v8h-0.7zM220.4 109.4h0.7v8h-0.7zM224.9 117.2h0.7v8h-0.7zM229.4 125h0.7v8h-0.7zM233.9 132.8h0.7v8h-0.7zM238.4 140.7h0.7v8h-0.7zM239.9 148.5h2.9v8h-2.9zM244.4 156.3h2.9v8h-2.9zM248.9 164.1h2.9v8h-2.9zM197.9 39h0.7v8h-0.7zM202.6 46.8h0.7v8h-0.7zM207.3 54.6h0.7v8h-0.7zM212 62.5h0.7v8h-0.7zM216.7 70.3h0.7v8h-0.7zM221.4 78.1h0.7v8h-0.7zM226.1 85.9h0.7v8h-0.7zM230.8 93.7h0.7v8h-0.7zM235.5 101.6h0.7v8h-0.7zM240.1 109.4h0.8v8h-0.8zM244.7 117.2h0.9v8h-0.9zM249.3 125h0.9v8h-0.9zM253.9 132.8h1v8h-1zM258.5 140.7h1.1v8h-1.1zM215.9 39h0.7v8h-0.7zM220.6 46.8h0.7v8h-0.7zM225.4 54.6h0.7v8h-0.7zM230.1 62.5h0.7v8h-0.7zM234.8 70.3h0.7v8h-0.7zM239.5 78.1h0.8v8h-0.8zM244.1 85.9h0.9v8h-0.9zM248.7 93.7h1v8h-1zM253.3 101.6h1.1v8h-1.1zM258 109.4h1.1v8h-1.1zM262.6 117.2h1.2v8h-1.2zM267.2 125h1.3v8h-1.3zM271.9 132.8h1.4v8h-1.4zM276.5 140.7h1.4v8h-1.4zM233.8 39h0.8v8h-0.8zM238.5 46.8h0.8v8h-0.8zM243.1 54.6h0.9v8h-0.9zM247.7 62.5h1v8h-1zM252.3 70.3h1.1v8h-1.1zM257 78.1h1.2v8h-1.2zM261.6 85.9h1.2v8h-1.2zM266.2 93.7h1.3v8h-1.3zM270.9 101.6h1.4v8h-1.4zM275.5 109.4h1.5v8h-1.5zM280.1 117.2h1.5v8h-1.5zM284.8 125h1.6v8h-1.6zM289.4 132.8h1.7v8h-1.7zM294 140.7h1.8v8h-1.8zM251.3 39h1.1v8h-1.1zM256 46.8h1.2v8h-1.2zM260.6 54.6h1.3v8h-1.3zM265.2 62.5h1.3v8h-1.3zM269.9 70.3h1.4v8h-1.4zM274.5 78.1h1.5v8h-1.5zM279.1 85.9h1.6v8h-1.6zM283.8 93.7h1.7v8h-1.7zM288.4 101.6h1.7v8h-1.7zM293 109.4h1.8v8h-1.8zM297.7 117.2h1.9v8h-1.9zM302.3 125h2v8h-2zM306.9 132.8h2v8h-2zM311.5 140.7h2.1v8h-2.1zM268.9 39h1.4v8h-1.4zM273.5 46.8h1.5v8h-1.5zM278.1 54.6h1.6v8h-1.6zM282.8 62.5h1.7v8h-1.7zM287.4 70.3h1.8v8h-1.8zM292 78.1h1.8v8h-1.8zM296.7 85.9h1.9v8h-1.9zM301.3 93.7h2v8h-2zM305.9 101.6h2.1v8h-2.1zM310.5 109.4h2.1v8h-2.1zM315.2 117.2h2.2v8h-2.2zM319.8 125h2.3v8h-2.3zM324.4 132.8h2.4v8h-2.4zM329.1 140.7h2.5v8h-2.5zM286.4 39h1.8v8h-1.8zM291 46.8h1.9v8h-1.9zM295.7 54.6h1.9v8h-1.9zM300.3 62.5h2v8h-2zM304.9 70.3h2.1v8h-2.1zM309.5 78.1h2.2v8h-2.2zM314.2 85.9h2.3v8h-2.3zM318.8 93.7h2.3v8h-2.3zM323.4 101.6h2.4v8h-2.4zM328.1 109.4h2.5v8h-2.5zM332.7 117.2h2.6v8h-2.6zM337.3 125h2.6v8h-2.6zM342 132.8h2.7v8h-2.7zM346.6 140.7h2.8v8h-2.8zM303.9 39h2.1v8h-2.1zM308.5 46.8h2.2v8h-2.2zM313.2 54.6h2.3v8h-2.3zM317.8 62.5h2.4v8h-2.4zM322.4 70.3h2.4v8h-2.4zM327.1 78.1h2.5v8h-2.5zM331.7 85.9h2.6v8h-2.6zM336.3 93.7h2.7v8h-2.7zM341 101.6h2.8v8h-2.8zM345.6 109.4h2.8v8h-2.8zM350.3 117.2h2.9v8h-2.9zM355 125h2.9v8h-2.9zM359.7 132.8h2.9v8h-2.9zM364.5 140.7h2.9v8h-2.9zM321.4 39h2.5v8h-2.5zM326.1 46.8h2.5v8h-2.5zM330.7 54.6h2.6v8h-2.6zM335.3 62.5h2.7v8h-2.7zM340 70.3h2.8v8h-2.8zM344.6 78.1h2.9v8h-2.9zM349.3 85.9h2.9v8h-2.9zM354 93.7h2.9v8h-2.9zM358.8 101.6h2.9v8h-2.9zM363.5 109.4h2.9v8h-2.9zM368.3 117.2h2.9v8h-2.9zM373 125h2.9v8h-2.9zM377.7 132.8h2.9v8h-2.9zM382.5 140.7h2.9v8h-2.9zM339 39h2.8v8h-2.8zM343.6 46.8h2.9v8h-2.9zM348.3 54.6h2.9v8h-2.9zM353.1 62.5h2.9v8h-2.9zM357.8 70.3h2.9v8h-2.9zM362.6 78.1h2.9v8h-2.9zM367.3 85.9h2.9v8h-2.9zM372 93.7h2.9v8h-2.9zM376.8 101.6h2.9v8h-2.9zM381.5 109.4h2.9v8h-2.9zM386.3 117.2h2.9v8h-2.9zM391 125h2.9v8h-2.9zM395.7 132.8h2.9v8h-2.9zM400.5 140.7h2.9v8h-2.9zM356.9 39h2.9v8h-2.9zM361.6 46.8h2.9v8h-2.9zM366.3 54.6h2.9v8h-2.9zM371.1 62.5h2.9v8h-2.9zM375.8 70.3h2.9v8h-2.9zM380.6 78.1h2.9v8h-2.9zM385.3 85.9h2.9v8h-2.9zM390 93.7h2.9v8h-2.9zM394.8 101.6h2.9v8h-2.9zM399.5 109.4h2.9v8h-2.9zM404.3 117.2h2.9v8h-2.9zM374.9 39h2.9v8h-2.9zM379.6 46.8h2.9v8h-2.9zM384.3 54.6h2.9v8h-2.9zM389.1 62.5h2.9v8h-2.9zM393.8 70.3h2.9v8h-2.9zM398.6 78.1h2.9v8h-2.9zM403.3 85.9h2.9v8h-2.9zM408 93.7h2.9v8h-2.9zM392.9 39h2.9v8h-2.9zM397.6 46.8h2.9v8h-2.9zM402.3 54.6h2.9v8h-2.9zM407.1 62.5h2.9v8h-2.9z" fill="#4a8ed0" stroke="#4a8ed0" stroke-width="0.4"/>
</g>
<clipPath id="cpa_b"><polygon points="266,39 490,39 515,76 613,76 613,184 513,184 485,139 403,139 357,54.5 279,54.5"/><polygon points="105,50.6 139,105.2 178,105.2 198.8,135.9 321,135.9 370.4,209.7 438,209.7 496.5,302.5 577,303 613,359 613,430 590,430 577,411 496,410 438,317.3 369,317.3 321,243.7 200,243.7 175.4,213 139,213 105,158.5"/></clipPath>
<g clip-path="url(#cpa_b)">
<linearGradient id="psab_g" x1="0" y1="0" x2="1" y2="0">
<stop offset="0" stop-color="#3f6cba"/>
<stop offset="0.1" stop-color="#5684c8"/>
<stop offset="0.3" stop-color="#3f6cba"/>
<stop offset="0.4" stop-color="#2e4c9c"/>
<stop offset="0.6" stop-color="#3a5cab"/>
<stop offset="0.8" stop-color="#3050a2"/>
<stop offset="1" stop-color="#3f6cba"/>
</linearGradient>
<pattern id="psab" patternUnits="userSpaceOnUse" x="0" y="0" width="18" height="2000">
<rect x="0" y="0" width="18" height="2000" fill="url(#psab_g)"/>
</pattern>
<rect x="105" y="39" width="508" height="8.1" fill="url(#psab)" transform="translate(0 0)"/>
<rect x="100.3" y="46.8" width="508" height="8.1" fill="url(#psab)" transform="translate(4.7 0)"/>
<rect x="95.5" y="54.6" width="508" height="8.1" fill="url(#psab)" transform="translate(9.5 0)"/>
<rect x="90.8" y="62.5" width="508" height="8.1" fill="url(#psab)" transform="translate(14.2 0)"/>
<rect x="104" y="70.3" width="508" height="8.1" fill="url(#psab)" transform="translate(1 0)"/>
<rect x="99.3" y="78.1" width="508" height="8.1" fill="url(#psab)" transform="translate(5.7 0)"/>
<rect x="94.6" y="85.9" width="508" height="8.1" fill="url(#psab)" transform="translate(10.4 0)"/>
<rect x="89.8" y="93.7" width="508" height="8.1" fill="url(#psab)" transform="translate(15.2 0)"/>
<rect x="103.1" y="101.6" width="508" height="8.1" fill="url(#psab)" transform="translate(1.9 0)"/>
<rect x="98.3" y="109.4" width="508" height="8.1" fill="url(#psab)" transform="translate(6.7 0)"/>
<rect x="93.6" y="117.2" width="508" height="8.1" fill="url(#psab)" transform="translate(11.4 0)"/>
<rect x="88.9" y="125" width="508" height="8.1" fill="url(#psab)" transform="translate(16.1 0)"/>
<rect x="102.1" y="132.8" width="508" height="8.1" fill="url(#psab)" transform="translate(2.9 0)"/>
<rect x="97.4" y="140.7" width="508" height="8.1" fill="url(#psab)" transform="translate(7.6 0)"/>
<rect x="92.6" y="148.5" width="508" height="8.1" fill="url(#psab)" transform="translate(12.4 0)"/>
<rect x="87.9" y="156.3" width="508" height="8.1" fill="url(#psab)" transform="translate(17.1 0)"/>
<rect x="101.2" y="164.1" width="508" height="8.1" fill="url(#psab)" transform="translate(3.8 0)"/>
<rect x="96.4" y="171.9" width="508" height="8.1" fill="url(#psab)" transform="translate(8.6 0)"/>
<rect x="91.7" y="179.8" width="508" height="8.1" fill="url(#psab)" transform="translate(13.3 0)"/>
<rect x="105" y="187.6" width="508" height="8.1" fill="url(#psab)" transform="translate(0 0)"/>
<rect x="100.2" y="195.4" width="508" height="8.1" fill="url(#psab)" transform="translate(4.8 0)"/>
<rect x="95.5" y="203.2" width="508" height="8.1" fill="url(#psab)" transform="translate(9.5 0)"/>
<rect x="90.7" y="211" width="508" height="8.1" fill="url(#psab)" transform="translate(14.3 0)"/>
<rect x="104" y="218.9" width="508" height="8.1" fill="url(#psab)" transform="translate(1 0)"/>
<rect x="99.3" y="226.7" width="508" height="8.1" fill="url(#psab)" transform="translate(5.7 0)"/>
<rect x="94.5" y="234.5" width="508" height="8.1" fill="url(#psab)" transform="translate(10.5 0)"/>
<rect x="89.8" y="242.3" width="508" height="8.1" fill="url(#psab)" transform="translate(15.2 0)"/>
<rect x="103" y="250.1" width="508" height="8.1" fill="url(#psab)" transform="translate(2 0)"/>
<rect x="98.3" y="258" width="508" height="8.1" fill="url(#psab)" transform="translate(6.7 0)"/>
<rect x="93.6" y="265.8" width="508" height="8.1" fill="url(#psab)" transform="translate(11.4 0)"/>
<rect x="88.8" y="273.6" width="508" height="8.1" fill="url(#psab)" transform="translate(16.2 0)"/>
<rect x="102.1" y="281.4" width="508" height="8.1" fill="url(#psab)" transform="translate(2.9 0)"/>
<rect x="97.3" y="289.2" width="508" height="8.1" fill="url(#psab)" transform="translate(7.7 0)"/>
<rect x="92.6" y="297.1" width="508" height="8.1" fill="url(#psab)" transform="translate(12.4 0)"/>
<rect x="87.9" y="304.9" width="508" height="8.1" fill="url(#psab)" transform="translate(17.1 0)"/>
<rect x="101.1" y="312.7" width="508" height="8.1" fill="url(#psab)" transform="translate(3.9 0)"/>
<rect x="96.4" y="320.5" width="508" height="8.1" fill="url(#psab)" transform="translate(8.6 0)"/>
<rect x="91.6" y="328.3" width="508" height="8.1" fill="url(#psab)" transform="translate(13.4 0)"/>
<rect x="104.9" y="336.2" width="508" height="8.1" fill="url(#psab)" transform="translate(0.1 0)"/>
<rect x="100.2" y="344" width="508" height="8.1" fill="url(#psab)" transform="translate(4.8 0)"/>
<rect x="95.4" y="351.8" width="508" height="8.1" fill="url(#psab)" transform="translate(9.6 0)"/>
<rect x="90.7" y="359.6" width="508" height="8.1" fill="url(#psab)" transform="translate(14.3 0)"/>
<rect x="103.9" y="367.4" width="508" height="8.1" fill="url(#psab)" transform="translate(1.1 0)"/>
<rect x="99.2" y="375.3" width="508" height="8.1" fill="url(#psab)" transform="translate(5.8 0)"/>
<rect x="94.5" y="383.1" width="508" height="8.1" fill="url(#psab)" transform="translate(10.5 0)"/>
<rect x="89.7" y="390.9" width="508" height="8.1" fill="url(#psab)" transform="translate(15.3 0)"/>
<rect x="103" y="398.7" width="508" height="8.1" fill="url(#psab)" transform="translate(2 0)"/>
<rect x="98.2" y="406.5" width="508" height="8.1" fill="url(#psab)" transform="translate(6.8 0)"/>
<rect x="93.5" y="414.4" width="508" height="8.1" fill="url(#psab)" transform="translate(11.5 0)"/>
<rect x="88.8" y="422.2" width="508" height="8.1" fill="url(#psab)" transform="translate(16.2 0)"/>
</g>
<linearGradient id="dkd" x1="0" y1="0" x2="0" y2="1"><stop offset="0" stop-color="#1e3a8c" stop-opacity="0.6"/><stop offset="1" stop-color="#1e3a8c" stop-opacity="0"/></linearGradient>
<linearGradient id="dku" x1="0" y1="1" x2="0" y2="0"><stop offset="0" stop-color="#1e3a8c" stop-opacity="0.5"/><stop offset="1" stop-color="#1e3a8c" stop-opacity="0"/></linearGradient>
<rect x="279" y="54.5" width="78" height="12" fill="url(#dkd)"/>
<rect x="403" y="139" width="82" height="12" fill="url(#dkd)"/>
<rect x="513" y="184" width="100" height="12" fill="url(#dkd)"/>
<rect x="200" y="243.7" width="121" height="12" fill="url(#dkd)"/>
<rect x="369" y="317.3" width="69" height="12" fill="url(#dkd)"/>
<rect x="496" y="410" width="81" height="12" fill="url(#dkd)"/>
<rect x="515" y="66" width="98" height="10" fill="url(#dku)"/>
<rect x="230" y="125.9" width="91" height="10" fill="url(#dku)"/>
<rect x="400" y="199.7" width="38" height="10" fill="url(#dku)"/>
<polygon points="105,39 214,39 222,136 198.8,135.9 178,105.2 139,105.2 105,50.6" fill="#ace4ef"/>
<line x1="160" y1="39" x2="168" y2="60" stroke="#4a98d6" stroke-width="3"/>
<line x1="178" y1="39" x2="190" y2="62" stroke="#4a98d6" stroke-width="4"/>
<line x1="200" y1="60" x2="215" y2="110" stroke="#4a98d6" stroke-width="1.5"/>
<polygon points="123,138 141,138 167,212 205,214 218,243.7 200,243.7 175.4,213 140,213" fill="#ace4ef"/>
<polygon points="105,158.5 139,213 175.4,213 200,243.7 186,265 178,286 200,339 242,430 234,430 190,339 160.5,286 129,228 118,208 105,203" fill="#ace4ef"/>
<polygon points="105,185 118,200 134,228 150,262 165,300 182,345 195,380 206,430 105,430" fill="#3a68b8"/>
<polygon points="83,208 85,208 90.6,226.5 88.6,226.5" fill="#2e4898" stroke="#2e4898" stroke-width="0.8"/>
<polygon points="88.6,226.5 90.6,226.5 98.2,245 96.2,245" fill="#2e4898" stroke="#2e4898" stroke-width="0.8"/>
<polygon points="96.2,245 98.2,245 106,263.5 104,263.5" fill="#2e4898" stroke="#2e4898" stroke-width="0.8"/>
<polygon points="104,263.5 106,263.5 113.8,282 111.8,282" fill="#2e4898" stroke="#2e4898" stroke-width="0.8"/>
<polygon points="111.8,282 113.8,282 121.9,300.5 119.9,300.5" fill="#2e4898" stroke="#2e4898" stroke-width="0.8"/>
<polygon points="119.9,300.5 121.9,300.5 130,319 128,319" fill="#2e4898" stroke="#2e4898" stroke-width="0.8"/>
<polygon points="128,319 130,319 138.1,337.5 136.1,337.5" fill="#2e4898" stroke="#2e4898" stroke-width="0.8"/>
<polygon points="136.1,337.5 138.1,337.5 146.5,356 144.5,356" fill="#2e4898" stroke="#2e4898" stroke-width="0.8"/>
<polygon points="144.5,356 146.5,356 154.9,374.5 152.9,374.5" fill="#2e4898" stroke="#2e4898" stroke-width="0.8"/>
<polygon points="152.9,374.5 154.9,374.5 163.2,393 161.2,393" fill="#2e4898" stroke="#2e4898" stroke-width="0.8"/>
<polygon points="161.2,393 163.2,393 171.6,411.5 169.6,411.5" fill="#2e4898" stroke="#2e4898" stroke-width="0.8"/>
<polygon points="169.6,411.5 171.6,411.5 180,430 178,430" fill="#2e4898" stroke="#2e4898" stroke-width="0.8"/>
<polygon points="85,208 88,208 93.6,226.5 90.6,226.5" fill="#262a5c" stroke="#262a5c" stroke-width="0.8"/>
<polygon points="90.6,226.5 93.6,226.5 101.2,245 98.2,245" fill="#262a5c" stroke="#262a5c" stroke-width="0.8"/>
<polygon points="98.2,245 101.2,245 109,263.5 106,263.5" fill="#262a5c" stroke="#262a5c" stroke-width="0.8"/>
<polygon points="106,263.5 109,263.5 116.8,282 113.8,282" fill="#262a5c" stroke="#262a5c" stroke-width="0.8"/>
<polygon points="113.8,282 116.8,282 124.9,300.5 121.9,300.5" fill="#262a5c" stroke="#262a5c" stroke-width="0.8"/>
<polygon points="121.9,300.5 124.9,300.5 133,319 130,319" fill="#262a5c" stroke="#262a5c" stroke-width="0.8"/>
<polygon points="130,319 133,319 141.1,337.5 138.1,337.5" fill="#262a5c" stroke="#262a5c" stroke-width="0.8"/>
<polygon points="138.1,337.5 141.1,337.5 149.5,356 146.5,356" fill="#262a5c" stroke="#262a5c" stroke-width="0.8"/>
<polygon points="146.5,356 149.5,356 157.9,374.5 154.9,374.5" fill="#262a5c" stroke="#262a5c" stroke-width="0.8"/>
<polygon points="154.9,374.5 157.9,374.5 166.2,393 163.2,393" fill="#262a5c" stroke="#262a5c" stroke-width="0.8"/>
<polygon points="163.2,393 166.2,393 174.6,411.5 171.6,411.5" fill="#262a5c" stroke="#262a5c" stroke-width="0.8"/>
<polygon points="171.6,411.5 174.6,411.5 183,430 180,430" fill="#262a5c" stroke="#262a5c" stroke-width="0.8"/>
<polygon points="88,208 89.5,208 95.1,226.5 93.6,226.5" fill="#1e1a22" stroke="#1e1a22" stroke-width="0.8"/>
<polygon points="93.6,226.5 95.1,226.5 103,245 101.2,245" fill="#1e1a22" stroke="#1e1a22" stroke-width="0.8"/>
<polygon points="101.2,245 103,245 111.1,263.5 109,263.5" fill="#1e1a22" stroke="#1e1a22" stroke-width="0.8"/>
<polygon points="109,263.5 111.1,263.5 119.2,282 116.8,282" fill="#1e1a22" stroke="#1e1a22" stroke-width="0.8"/>
<polygon points="116.8,282 119.2,282 128.1,300.5 124.9,300.5" fill="#1e1a22" stroke="#1e1a22" stroke-width="0.8"/>
<polygon points="124.9,300.5 128.1,300.5 137.1,319 133,319" fill="#1e1a22" stroke="#1e1a22" stroke-width="0.8"/>
<polygon points="133,319 137.1,319 146.1,337.5 141.1,337.5" fill="#1e1a22" stroke="#1e1a22" stroke-width="0.8"/>
<polygon points="141.1,337.5 146.1,337.5 154.4,356 149.5,356" fill="#1e1a22" stroke="#1e1a22" stroke-width="0.8"/>
<polygon points="149.5,356 154.4,356 162.7,374.5 157.9,374.5" fill="#1e1a22" stroke="#1e1a22" stroke-width="0.8"/>
<polygon points="157.9,374.5 162.7,374.5 171,393 166.2,393" fill="#1e1a22" stroke="#1e1a22" stroke-width="0.8"/>
<polygon points="166.2,393 171,393 179.2,411.5 174.6,411.5" fill="#1e1a22" stroke="#1e1a22" stroke-width="0.8"/>
<polygon points="174.6,411.5 179.2,411.5 187.5,430 183,430" fill="#1e1a22" stroke="#1e1a22" stroke-width="0.8"/>
<polygon points="89.5,208 91,208 96.6,226.5 95.1,226.5" fill="#9a2424" stroke="#9a2424" stroke-width="0.8"/>
<polygon points="95.1,226.5 96.6,226.5 104.5,245 103,245" fill="#9a2424" stroke="#9a2424" stroke-width="0.8"/>
<polygon points="103,245 104.5,245 112.6,263.5 111.1,263.5" fill="#9a2424" stroke="#9a2424" stroke-width="0.8"/>
<polygon points="111.1,263.5 112.6,263.5 120.7,282 119.2,282" fill="#9a2424" stroke="#9a2424" stroke-width="0.8"/>
<polygon points="119.2,282 120.7,282 129.6,300.5 128.1,300.5" fill="#9a2424" stroke="#9a2424" stroke-width="0.8"/>
<polygon points="128.1,300.5 129.6,300.5 138.6,319 137.1,319" fill="#9a2424" stroke="#9a2424" stroke-width="0.8"/>
<polygon points="137.1,319 138.6,319 147.6,337.5 146.1,337.5" fill="#9a2424" stroke="#9a2424" stroke-width="0.8"/>
<polygon points="146.1,337.5 147.6,337.5 156,356 154.4,356" fill="#9a2424" stroke="#9a2424" stroke-width="0.8"/>
<polygon points="154.4,356 156,356 164.4,374.5 162.7,374.5" fill="#9a2424" stroke="#9a2424" stroke-width="0.8"/>
<polygon points="162.7,374.5 164.4,374.5 172.7,393 171,393" fill="#9a2424" stroke="#9a2424" stroke-width="0.8"/>
<polygon points="171,393 172.7,393 181.1,411.5 179.2,411.5" fill="#9a2424" stroke="#9a2424" stroke-width="0.8"/>
<polygon points="179.2,411.5 181.1,411.5 189.5,430 187.5,430" fill="#9a2424" stroke="#9a2424" stroke-width="0.8"/>
<polygon points="91,208 97,208 103.5,226.5 96.6,226.5" fill="#b42727" stroke="#b42727" stroke-width="0.8"/>
<polygon points="96.6,226.5 103.5,226.5 111.5,245 104.5,245" fill="#cc2c2c" stroke="#cc2c2c" stroke-width="0.8"/>
<polygon points="104.5,245 111.5,245 119.6,263.5 112.6,263.5" fill="#cd2c2c" stroke="#cd2c2c" stroke-width="0.8"/>
<polygon points="112.6,263.5 119.6,263.5 127.7,282 120.7,282" fill="#ce2d2d" stroke="#ce2d2d" stroke-width="0.8"/>
<polygon points="120.7,282 127.7,282 136.6,300.5 129.6,300.5" fill="#cf2d2d" stroke="#cf2d2d" stroke-width="0.8"/>
<polygon points="129.6,300.5 136.6,300.5 145.6,319 138.6,319" fill="#d12e2e" stroke="#d12e2e" stroke-width="0.8"/>
<polygon points="138.6,319 145.6,319 154.6,337.5 147.6,337.5" fill="#d22e2e" stroke="#d22e2e" stroke-width="0.8"/>
<polygon points="147.6,337.5 154.6,337.5 163.2,356 156,356" fill="#d32f2f" stroke="#d32f2f" stroke-width="0.8"/>
<polygon points="156,356 163.2,356 171.8,374.5 164.4,374.5" fill="#d42f2f" stroke="#d42f2f" stroke-width="0.8"/>
<polygon points="164.4,374.5 171.8,374.5 180.3,393 172.7,393" fill="#d53030" stroke="#d53030" stroke-width="0.8"/>
<polygon points="172.7,393 180.3,393 188.9,411.5 181.1,411.5" fill="#d8332f" stroke="#d8332f" stroke-width="0.8"/>
<polygon points="181.1,411.5 188.9,411.5 197.5,430 189.5,430" fill="#dd3e2c" stroke="#dd3e2c" stroke-width="0.8"/>
<polygon points="97,208 103,208 111.3,226.5 103.5,226.5" fill="#c7302b" stroke="#c7302b" stroke-width="0.8"/>
<polygon points="103.5,226.5 111.3,226.5 120.1,245 111.5,245" fill="#e43c2e" stroke="#e43c2e" stroke-width="0.8"/>
<polygon points="111.5,245 120.1,245 128.8,263.5 119.6,263.5" fill="#e53e2e" stroke="#e53e2e" stroke-width="0.8"/>
<polygon points="119.6,263.5 128.8,263.5 137.6,282 127.7,282" fill="#e7402e" stroke="#e7402e" stroke-width="0.8"/>
<polygon points="127.7,282 137.6,282 146.8,300.5 136.6,300.5" fill="#e8412e" stroke="#e8412e" stroke-width="0.8"/>
<polygon points="136.6,300.5 146.8,300.5 156.2,319 145.6,319" fill="#e9432e" stroke="#e9432e" stroke-width="0.8"/>
<polygon points="145.6,319 156.2,319 165.5,337.5 154.6,337.5" fill="#ea452e" stroke="#ea452e" stroke-width="0.8"/>
<polygon points="154.6,337.5 165.5,337.5 174.6,356 163.2,356" fill="#eb462e" stroke="#eb462e" stroke-width="0.8"/>
<polygon points="163.2,356 174.6,356 183.5,374.5 171.8,374.5" fill="#ed482e" stroke="#ed482e" stroke-width="0.8"/>
<polygon points="171.8,374.5 183.5,374.5 192.5,393 180.3,393" fill="#ee4a2e" stroke="#ee4a2e" stroke-width="0.8"/>
<polygon points="180.3,393 192.5,393 201.5,411.5 188.9,411.5" fill="#f05e2c" stroke="#f05e2c" stroke-width="0.8"/>
<polygon points="188.9,411.5 201.5,411.5 210.5,430 197.5,430" fill="#f5932e" stroke="#f5932e" stroke-width="0.8"/>
<polygon points="103,208 109,208 118.2,226.5 111.3,226.5" fill="#b42727" stroke="#b42727" stroke-width="0.8"/>
<polygon points="111.3,226.5 118.2,226.5 127.1,245 120.1,245" fill="#cc2c2c" stroke="#cc2c2c" stroke-width="0.8"/>
<polygon points="120.1,245 127.1,245 135.8,263.5 128.8,263.5" fill="#cd2c2c" stroke="#cd2c2c" stroke-width="0.8"/>
<polygon points="128.8,263.5 135.8,263.5 144.6,282 137.6,282" fill="#ce2d2d" stroke="#ce2d2d" stroke-width="0.8"/>
<polygon points="137.6,282 144.6,282 153.8,300.5 146.8,300.5" fill="#cf2d2d" stroke="#cf2d2d" stroke-width="0.8"/>
<polygon points="146.8,300.5 153.8,300.5 163.2,319 156.2,319" fill="#d12e2e" stroke="#d12e2e" stroke-width="0.8"/>
<polygon points="156.2,319 163.2,319 172.5,337.5 165.5,337.5" fill="#d22e2e" stroke="#d22e2e" stroke-width="0.8"/>
<polygon points="165.5,337.5 172.5,337.5 181.7,356 174.6,356" fill="#d32f2f" stroke="#d32f2f" stroke-width="0.8"/>
<polygon points="174.6,356 181.7,356 190.9,374.5 183.5,374.5" fill="#d42f2f" stroke="#d42f2f" stroke-width="0.8"/>
<polygon points="183.5,374.5 190.9,374.5 200.1,393 192.5,393" fill="#d53030" stroke="#d53030" stroke-width="0.8"/>
<polygon points="192.5,393 200.1,393 209.3,411.5 201.5,411.5" fill="#d8332f" stroke="#d8332f" stroke-width="0.8"/>
<polygon points="201.5,411.5 209.3,411.5 218.5,430 210.5,430" fill="#dd3e2c" stroke="#dd3e2c" stroke-width="0.8"/>
<polygon points="109,208 110.5,208 119.8,226.5 118.2,226.5" fill="#9a2424" stroke="#9a2424" stroke-width="0.8"/>
<polygon points="118.2,226.5 119.8,226.5 128.6,245 127.1,245" fill="#9a2424" stroke="#9a2424" stroke-width="0.8"/>
<polygon points="127.1,245 128.6,245 137.3,263.5 135.8,263.5" fill="#9a2424" stroke="#9a2424" stroke-width="0.8"/>
<polygon points="135.8,263.5 137.3,263.5 146.1,282 144.6,282" fill="#9a2424" stroke="#9a2424" stroke-width="0.8"/>
<polygon points="144.6,282 146.1,282 155.3,300.5 153.8,300.5" fill="#9a2424" stroke="#9a2424" stroke-width="0.8"/>
<polygon points="153.8,300.5 155.3,300.5 164.7,319 163.2,319" fill="#9a2424" stroke="#9a2424" stroke-width="0.8"/>
<polygon points="163.2,319 164.7,319 174,337.5 172.5,337.5" fill="#9a2424" stroke="#9a2424" stroke-width="0.8"/>
<polygon points="172.5,337.5 174,337.5 183.3,356 181.7,356" fill="#9a2424" stroke="#9a2424" stroke-width="0.8"/>
<polygon points="181.7,356 183.3,356 192.6,374.5 190.9,374.5" fill="#9a2424" stroke="#9a2424" stroke-width="0.8"/>
<polygon points="190.9,374.5 192.6,374.5 201.9,393 200.1,393" fill="#9a2424" stroke="#9a2424" stroke-width="0.8"/>
<polygon points="200.1,393 201.9,393 211.2,411.5 209.3,411.5" fill="#9a2424" stroke="#9a2424" stroke-width="0.8"/>
<polygon points="209.3,411.5 211.2,411.5 220.5,430 218.5,430" fill="#9a2424" stroke="#9a2424" stroke-width="0.8"/>
<polygon points="110.5,208 112,208 121.2,226.5 119.8,226.5" fill="#1e1a22" stroke="#1e1a22" stroke-width="0.8"/>
<polygon points="119.8,226.5 121.2,226.5 130.4,245 128.6,245" fill="#1e1a22" stroke="#1e1a22" stroke-width="0.8"/>
<polygon points="128.6,245 130.4,245 139.4,263.5 137.3,263.5" fill="#1e1a22" stroke="#1e1a22" stroke-width="0.8"/>
<polygon points="137.3,263.5 139.4,263.5 148.5,282 146.1,282" fill="#1e1a22" stroke="#1e1a22" stroke-width="0.8"/>
<polygon points="146.1,282 148.5,282 158.5,300.5 155.3,300.5" fill="#1e1a22" stroke="#1e1a22" stroke-width="0.8"/>
<polygon points="155.3,300.5 158.5,300.5 168.7,319 164.7,319" fill="#1e1a22" stroke="#1e1a22" stroke-width="0.8"/>
<polygon points="164.7,319 168.7,319 179,337.5 174,337.5" fill="#1e1a22" stroke="#1e1a22" stroke-width="0.8"/>
<polygon points="174,337.5 179,337.5 188.2,356 183.3,356" fill="#1e1a22" stroke="#1e1a22" stroke-width="0.8"/>
<polygon points="183.3,356 188.2,356 197.4,374.5 192.6,374.5" fill="#1e1a22" stroke="#1e1a22" stroke-width="0.8"/>
<polygon points="192.6,374.5 197.4,374.5 206.6,393 201.9,393" fill="#1e1a22" stroke="#1e1a22" stroke-width="0.8"/>
<polygon points="201.9,393 206.6,393 215.8,411.5 211.2,411.5" fill="#1e1a22" stroke="#1e1a22" stroke-width="0.8"/>
<polygon points="211.2,411.5 215.8,411.5 225,430 220.5,430" fill="#1e1a22" stroke="#1e1a22" stroke-width="0.8"/>
<polygon points="112,208 116,208 126.2,226.5 121.2,226.5" fill="#262a5c" stroke="#262a5c" stroke-width="0.8"/>
<polygon points="121.2,226.5 126.2,226.5 136.2,245 130.4,245" fill="#262a5c" stroke="#262a5c" stroke-width="0.8"/>
<polygon points="130.4,245 136.2,245 146.3,263.5 139.4,263.5" fill="#262a5c" stroke="#262a5c" stroke-width="0.8"/>
<polygon points="139.4,263.5 146.3,263.5 156.3,282 148.5,282" fill="#262a5c" stroke="#262a5c" stroke-width="0.8"/>
<polygon points="148.5,282 156.3,282 166.5,300.5 158.5,300.5" fill="#262a5c" stroke="#262a5c" stroke-width="0.8"/>
<polygon points="158.5,300.5 166.5,300.5 176.7,319 168.7,319" fill="#262a5c" stroke="#262a5c" stroke-width="0.8"/>
<polygon points="168.7,319 176.7,319 187,337.5 179,337.5" fill="#262a5c" stroke="#262a5c" stroke-width="0.8"/>
<polygon points="179,337.5 187,337.5 196.1,356 188.2,356" fill="#262a5c" stroke="#262a5c" stroke-width="0.8"/>
<polygon points="188.2,356 196.1,356 205,374.5 197.4,374.5" fill="#262a5c" stroke="#262a5c" stroke-width="0.8"/>
<polygon points="197.4,374.5 205,374.5 214,393 206.6,393" fill="#262a5c" stroke="#262a5c" stroke-width="0.8"/>
<polygon points="206.6,393 214,393 223,411.5 215.8,411.5" fill="#262a5c" stroke="#262a5c" stroke-width="0.8"/>
<polygon points="215.8,411.5 223,411.5 232,430 225,430" fill="#262a5c" stroke="#262a5c" stroke-width="0.8"/>
<polygon points="116,208 118,208 128.2,226.5 126.2,226.5" fill="#33509e" stroke="#33509e" stroke-width="0.8"/>
<polygon points="126.2,226.5 128.2,226.5 138.2,245 136.2,245" fill="#33509e" stroke="#33509e" stroke-width="0.8"/>
<polygon points="136.2,245 138.2,245 148.3,263.5 146.3,263.5" fill="#33509e" stroke="#33509e" stroke-width="0.8"/>
<polygon points="146.3,263.5 148.3,263.5 158.3,282 156.3,282" fill="#33509e" stroke="#33509e" stroke-width="0.8"/>
<polygon points="156.3,282 158.3,282 168.5,300.5 166.5,300.5" fill="#33509e" stroke="#33509e" stroke-width="0.8"/>
<polygon points="166.5,300.5 168.5,300.5 178.7,319 176.7,319" fill="#33509e" stroke="#33509e" stroke-width="0.8"/>
<polygon points="176.7,319 178.7,319 189,337.5 187,337.5" fill="#33509e" stroke="#33509e" stroke-width="0.8"/>
<polygon points="187,337.5 189,337.5 198.1,356 196.1,356" fill="#33509e" stroke="#33509e" stroke-width="0.8"/>
<polygon points="196.1,356 198.1,356 207,374.5 205,374.5" fill="#33509e" stroke="#33509e" stroke-width="0.8"/>
<polygon points="205,374.5 207,374.5 216,393 214,393" fill="#33509e" stroke="#33509e" stroke-width="0.8"/>
<polygon points="214,393 216,393 225,411.5 223,411.5" fill="#33509e" stroke="#33509e" stroke-width="0.8"/>
<polygon points="223,411.5 225,411.5 234,430 232,430" fill="#33509e" stroke="#33509e" stroke-width="0.8"/>
<g clip-path="url(#cpa_b)">
<rect x="105" y="39" width="508" height="8.1" fill="#ffffff" fill-opacity="0.025"/>
<rect x="105" y="46.8" width="508" height="8.1" fill="#ffffff" fill-opacity="0.106"/>
<rect x="105" y="54.6" width="508" height="8.1" fill="#1a1030" fill-opacity="0.125"/>
<rect x="105" y="62.5" width="508" height="8.1" fill="#ffffff" fill-opacity="0.118"/>
<rect x="105" y="78.1" width="508" height="8.1" fill="#1a1030" fill-opacity="0.056"/>
<rect x="105" y="85.9" width="508" height="8.1" fill="#1a1030" fill-opacity="0.056"/>
<rect x="105" y="93.7" width="508" height="8.1" fill="#1a1030" fill-opacity="0.076"/>
<rect x="105" y="101.6" width="508" height="8.1" fill="#1a1030" fill-opacity="0.016"/>
<rect x="105" y="109.4" width="508" height="8.1" fill="#ffffff" fill-opacity="0.058"/>
<rect x="105" y="117.2" width="508" height="8.1" fill="#ffffff" fill-opacity="0.041"/>
<rect x="105" y="125" width="508" height="8.1" fill="#ffffff" fill-opacity="0.045"/>
<rect x="105" y="132.8" width="508" height="8.1" fill="#1a1030" fill-opacity="0.119"/>
<rect x="105" y="140.7" width="508" height="8.1" fill="#1a1030" fill-opacity="0.110"/>
<rect x="105" y="148.5" width="508" height="8.1" fill="#ffffff" fill-opacity="0.109"/>
<rect x="105" y="156.3" width="508" height="8.1" fill="#ffffff" fill-opacity="0.068"/>
<rect x="105" y="164.1" width="508" height="8.1" fill="#ffffff" fill-opacity="0.153"/>
<rect x="105" y="171.9" width="508" height="8.1" fill="#ffffff" fill-opacity="0.085"/>
<rect x="105" y="179.8" width="508" height="8.1" fill="#1a1030" fill-opacity="0.072"/>
<rect x="105" y="187.6" width="508" height="8.1" fill="#ffffff" fill-opacity="0.090"/>
<rect x="105" y="195.4" width="508" height="8.1" fill="#ffffff" fill-opacity="0.044"/>
<rect x="105" y="203.2" width="508" height="8.1" fill="#ffffff" fill-opacity="0.015"/>
<rect x="105" y="211" width="508" height="8.1" fill="#1a1030" fill-opacity="0.057"/>
<rect x="105" y="234.5" width="508" height="8.1" fill="#ffffff" fill-opacity="0.062"/>
<rect x="105" y="250.1" width="508" height="8.1" fill="#ffffff" fill-opacity="0.111"/>
<rect x="105" y="258" width="508" height="8.1" fill="#1a1030" fill-opacity="0.054"/>
<rect x="105" y="265.8" width="508" height="8.1" fill="#ffffff" fill-opacity="0.033"/>
<rect x="105" y="273.6" width="508" height="8.1" fill="#ffffff" fill-opacity="0.035"/>
<rect x="105" y="281.4" width="508" height="8.1" fill="#1a1030" fill-opacity="0.061"/>
<rect x="105" y="289.2" width="508" height="8.1" fill="#1a1030" fill-opacity="0.083"/>
<rect x="105" y="297.1" width="508" height="8.1" fill="#ffffff" fill-opacity="0.071"/>
<rect x="105" y="304.9" width="508" height="8.1" fill="#ffffff" fill-opacity="0.036"/>
<rect x="105" y="320.5" width="508" height="8.1" fill="#ffffff" fill-opacity="0.028"/>
<rect x="105" y="328.3" width="508" height="8.1" fill="#1a1030" fill-opacity="0.047"/>
<rect x="105" y="336.2" width="508" height="8.1" fill="#ffffff" fill-opacity="0.017"/>
<rect x="105" y="344" width="508" height="8.1" fill="#1a1030" fill-opacity="0.042"/>
<rect x="105" y="359.6" width="508" height="8.1" fill="#ffffff" fill-opacity="0.069"/>
<rect x="105" y="367.4" width="508" height="8.1" fill="#1a1030" fill-opacity="0.024"/>
<rect x="105" y="375.3" width="508" height="8.1" fill="#ffffff" fill-opacity="0.059"/>
<rect x="105" y="383.1" width="508" height="8.1" fill="#1a1030" fill-opacity="0.072"/>
<rect x="105" y="390.9" width="508" height="8.1" fill="#1a1030" fill-opacity="0.020"/>
<rect x="105" y="398.7" width="508" height="8.1" fill="#1a1030" fill-opacity="0.096"/>
</g>
</g>
<polygon points="266,39 490,39 515,76 613,76 613,184 513,184 485,139 403,139 357,54.5 279,54.5" fill="#ffc0cb" fill-opacity="0.42"/>
<polygon points="105,50.6 139,105.2 178,105.2 198.8,135.9 321,135.9 370.4,209.7 438,209.7 496.5,302.5 577,303 613,359 613,430 590,430 577,411 496,410 438,317.3 369,317.3 321,243.7 200,243.7 175.4,213 139,213 105,158.5" fill="#ffc0cb" fill-opacity="0.42"/>
<polyline points="266,39 279,54.5 357,54.5 403,139 485,139 513,184 613,184" fill="none" stroke="#ffbfca" stroke-width="3" stroke-dasharray="10.3,4.4"/>
<polyline points="490,39 515,76 613,76" fill="none" stroke="#ffbfca" stroke-width="3" stroke-dasharray="10.3,4.4"/>
<polyline points="105,50.6 139,105.2 178,105.2 198.8,135.9 321,135.9 370.4,209.7 438,209.7 496.5,302.5 577,303 613,359" fill="none" stroke="#ffbfca" stroke-width="3" stroke-dasharray="10.3,4.4"/>
<polyline points="105,158.5 139,213 175.4,213 200,243.7 321,243.7 369,317.3 438,317.3 496,410 577,411 590,430" fill="none" stroke="#ffbfca" stroke-width="3" stroke-dasharray="10.3,4.4"/>
<g clip-path="url(#cpb)">
<rect x="105" y="489" width="508" height="391" fill="#ace4ef"/>
<polygon points="266,489 490,489 515,526 613,526 613,634 513,634 485,589 403,589 357,504.5 279,504.5" fill="#2c4c9e"/>
<polygon points="105,500.6 139,555.2 178,555.2 198.8,585.9 321,585.9 370.4,659.7 438,659.7 496.5,752.5 577,753 613,809 613,880 590,880 577,861 496,860 438,767.3 369,767.3 321,693.7 200,693.7 175.4,663 139,663 105,608.5" fill="#3454a8"/>
<polygon points="378,543 394,543 424,589 403,589" fill="#ace4ef"/>
<polygon points="266,489 290,489 300,504.5 279,504.5" fill="#ace4ef"/>
<polygon points="118,583 138,583 141,650 122,650" fill="#ace4ef"/>
<polygon points="321,693.7 340,693.7 392,767.3 369,767.3" fill="#ace4ef"/>
<polygon points="438,767.3 462,767.3 530,860 496,860" fill="#ace4ef"/>
<polygon points="105,608.5 118,608.5 148,663 139,663" fill="#ace4ef"/>
<polygon points="175.4,663 190,663 212,693.7 200,693.7" fill="#ace4ef"/>
<clipPath id="cpb_b"><polygon points="266,489 490,489 515,526 613,526 613,634 513,634 485,589 403,589 357,504.5 279,504.5"/><polygon points="105,500.6 139,555.2 178,555.2 198.8,585.9 321,585.9 370.4,659.7 438,659.7 496.5,752.5 577,753 613,809 613,880 590,880 577,861 496,860 438,767.3 369,767.3 321,693.7 200,693.7 175.4,663 139,663 105,608.5"/></clipPath>
<g clip-path="url(#cpb_b)">
<polygon points="-150,489 -146,489 91,880 87,880" fill="#6a9ad6" fill-opacity="0.3"/>
<polygon points="-132,489 -128,489 109,880 105,880" fill="#6a9ad6" fill-opacity="0.3"/>
<polygon points="-114,489 -110,489 127,880 123,880" fill="#6a9ad6" fill-opacity="0.3"/>
<polygon points="-96,489 -92,489 145,880 141,880" fill="#6a9ad6" fill-opacity="0.3"/>
<polygon points="-78,489 -74,489 163,880 159,880" fill="#6a9ad6" fill-opacity="0.3"/>
<polygon points="-60,489 -56,489 181,880 177,880" fill="#6a9ad6" fill-opacity="0.3"/>
<polygon points="-42,489 -38,489 199,880 195,880" fill="#6a9ad6" fill-opacity="0.3"/>
<polygon points="-24,489 -20,489 217,880 213,880" fill="#6a9ad6" fill-opacity="0.3"/>
<polygon points="-6,489 -2,489 235,880 231,880" fill="#6a9ad6" fill-opacity="0.3"/>
<polygon points="12,489 16,489 253,880 249,880" fill="#6a9ad6" fill-opacity="0.3"/>
<polygon points="30,489 34,489 271,880 267,880" fill="#6a9ad6" fill-opacity="0.3"/>
<polygon points="48,489 52,489 289,880 285,880" fill="#6a9ad6" fill-opacity="0.3"/>
<polygon points="66,489 70,489 307,880 303,880" fill="#6a9ad6" fill-opacity="0.3"/>
<polygon points="84,489 88,489 325,880 321,880" fill="#6a9ad6" fill-opacity="0.3"/>
<polygon points="102,489 106,489 343,880 339,880" fill="#6a9ad6" fill-opacity="0.3"/>
<polygon points="120,489 124,489 361,880 357,880" fill="#6a9ad6" fill-opacity="0.3"/>
<polygon points="138,489 142,489 379,880 375,880" fill="#6a9ad6" fill-opacity="0.3"/>
<polygon points="156,489 160,489 397,880 393,880" fill="#6a9ad6" fill-opacity="0.3"/>
<polygon points="174,489 178,489 415,880 411,880" fill="#6a9ad6" fill-opacity="0.3"/>
<polygon points="192,489 196,489 433,880 429,880" fill="#6a9ad6" fill-opacity="0.3"/>
<polygon points="210,489 214,489 451,880 447,880" fill="#6a9ad6" fill-opacity="0.3"/>
<polygon points="228,489 232,489 469,880 465,880" fill="#6a9ad6" fill-opacity="0.3"/>
<polygon points="246,489 250,489 487,880 483,880" fill="#6a9ad6" fill-opacity="0.3"/>
<polygon points="264,489 268,489 505,880 501,880" fill="#6a9ad6" fill-opacity="0.3"/>
<polygon points="282,489 286,489 523,880 519,880" fill="#6a9ad6" fill-opacity="0.3"/>
<polygon points="300,489 304,489 541,880 537,880" fill="#6a9ad6" fill-opacity="0.3"/>
<polygon points="318,489 322,489 559,880 555,880" fill="#6a9ad6" fill-opacity="0.3"/>
<polygon points="336,489 340,489 577,880 573,880" fill="#6a9ad6" fill-opacity="0.3"/>
<polygon points="354,489 358,489 595,880 591,880" fill="#6a9ad6" fill-opacity="0.3"/>
<polygon points="372,489 376,489 613,880 609,880" fill="#6a9ad6" fill-opacity="0.3"/>
<polygon points="390,489 394,489 631,880 627,880" fill="#6a9ad6" fill-opacity="0.3"/>
<polygon points="408,489 412,489 649,880 645,880" fill="#6a9ad6" fill-opacity="0.3"/>
<polygon points="426,489 430,489 667,880 663,880" fill="#6a9ad6" fill-opacity="0.3"/>
<polygon points="444,489 448,489 685,880 681,880" fill="#6a9ad6" fill-opacity="0.3"/>
<polygon points="462,489 466,489 703,880 699,880" fill="#6a9ad6" fill-opacity="0.3"/>
<polygon points="480,489 484,489 721,880 717,880" fill="#6a9ad6" fill-opacity="0.3"/>
<polygon points="498,489 502,489 739,880 735,880" fill="#6a9ad6" fill-opacity="0.3"/>
<polygon points="516,489 520,489 757,880 753,880" fill="#6a9ad6" fill-opacity="0.3"/>
<polygon points="534,489 538,489 775,880 771,880" fill="#6a9ad6" fill-opacity="0.3"/>
<polygon points="552,489 556,489 793,880 789,880" fill="#6a9ad6" fill-opacity="0.3"/>
<polygon points="570,489 574,489 811,880 807,880" fill="#6a9ad6" fill-opacity="0.3"/>
<polygon points="588,489 592,489 829,880 825,880" fill="#6a9ad6" fill-opacity="0.3"/>
<polygon points="606,489 610,489 847,880 843,880" fill="#6a9ad6" fill-opacity="0.3"/>
<polygon points="624,489 628,489 865,880 861,880" fill="#6a9ad6" fill-opacity="0.3"/>
</g>
<clipPath id="cpbs"><polygon points="432,589 485,589 513,634 613,634 613,809 577,753 498,753"/><polygon points="488,489 613,489 613,526 515,526"/></clipPath>
<g clip-path="url(#cpbs)">
<linearGradient id="psb_g" x1="0" y1="0" x2="1" y2="0">
<stop offset="0" stop-color="#5cb0e0"/>
<stop offset="0" stop-color="#a8e4f0"/>
<stop offset="0.2" stop-color="#a8e4f0"/>
<stop offset="0.3" stop-color="#4a98d4"/>
<stop offset="0.4" stop-color="#28428e"/>
<stop offset="0.7" stop-color="#2a4696"/>
<stop offset="0.8" stop-color="#3458a8"/>
<stop offset="0.9" stop-color="#4482c8"/>
<stop offset="1" stop-color="#5cb0e0"/>
</linearGradient>
<pattern id="psb" patternUnits="userSpaceOnUse" x="0" y="0" width="17" height="2000">
<rect x="0" y="0" width="17" height="2000" fill="url(#psb_g)"/>
</pattern>
<rect x="100" y="489" width="508" height="8.1" fill="url(#psb)" transform="translate(5 0)"/>
<rect x="95.4" y="496.8" width="508" height="8.1" fill="url(#psb)" transform="translate(9.6 0)"/>
<rect x="90.8" y="504.6" width="508" height="8.1" fill="url(#psb)" transform="translate(14.2 0)"/>
<rect x="103.2" y="512.5" width="508" height="8.1" fill="url(#psb)" transform="translate(1.8 0)"/>
<rect x="98.6" y="520.3" width="508" height="8.1" fill="url(#psb)" transform="translate(6.4 0)"/>
<rect x="94" y="528.1" width="508" height="8.1" fill="url(#psb)" transform="translate(11 0)"/>
<rect x="89.4" y="535.9" width="508" height="8.1" fill="url(#psb)" transform="translate(15.6 0)"/>
<rect x="101.8" y="543.7" width="508" height="8.1" fill="url(#psb)" transform="translate(3.2 0)"/>
<rect x="97.2" y="551.6" width="508" height="8.1" fill="url(#psb)" transform="translate(7.8 0)"/>
<rect x="92.6" y="559.4" width="508" height="8.1" fill="url(#psb)" transform="translate(12.4 0)"/>
<rect x="105" y="567.2" width="508" height="8.1" fill="url(#psb)" transform="translate(0 0)"/>
<rect x="100.4" y="575" width="508" height="8.1" fill="url(#psb)" transform="translate(4.6 0)"/>
<rect x="95.8" y="582.8" width="508" height="8.1" fill="url(#psb)" transform="translate(9.2 0)"/>
<rect x="91.2" y="590.7" width="508" height="8.1" fill="url(#psb)" transform="translate(13.8 0)"/>
<rect x="103.6" y="598.5" width="508" height="8.1" fill="url(#psb)" transform="translate(1.4 0)"/>
<rect x="99" y="606.3" width="508" height="8.1" fill="url(#psb)" transform="translate(6 0)"/>
<rect x="94.4" y="614.1" width="508" height="8.1" fill="url(#psb)" transform="translate(10.6 0)"/>
<rect x="89.8" y="621.9" width="508" height="8.1" fill="url(#psb)" transform="translate(15.2 0)"/>
<rect x="102.2" y="629.8" width="508" height="8.1" fill="url(#psb)" transform="translate(2.8 0)"/>
<rect x="97.6" y="637.6" width="508" height="8.1" fill="url(#psb)" transform="translate(7.4 0)"/>
<rect x="93" y="645.4" width="508" height="8.1" fill="url(#psb)" transform="translate(12 0)"/>
<rect x="88.4" y="653.2" width="508" height="8.1" fill="url(#psb)" transform="translate(16.6 0)"/>
<rect x="100.8" y="661" width="508" height="8.1" fill="url(#psb)" transform="translate(4.2 0)"/>
<rect x="96.2" y="668.9" width="508" height="8.1" fill="url(#psb)" transform="translate(8.8 0)"/>
<rect x="91.6" y="676.7" width="508" height="8.1" fill="url(#psb)" transform="translate(13.4 0)"/>
<rect x="104" y="684.5" width="508" height="8.1" fill="url(#psb)" transform="translate(1 0)"/>
<rect x="99.4" y="692.3" width="508" height="8.1" fill="url(#psb)" transform="translate(5.6 0)"/>
<rect x="94.8" y="700.1" width="508" height="8.1" fill="url(#psb)" transform="translate(10.2 0)"/>
<rect x="90.2" y="708" width="508" height="8.1" fill="url(#psb)" transform="translate(14.8 0)"/>
<rect x="102.6" y="715.8" width="508" height="8.1" fill="url(#psb)" transform="translate(2.4 0)"/>
<rect x="98" y="723.6" width="508" height="8.1" fill="url(#psb)" transform="translate(7 0)"/>
<rect x="93.4" y="731.4" width="508" height="8.1" fill="url(#psb)" transform="translate(11.6 0)"/>
<rect x="88.8" y="739.2" width="508" height="8.1" fill="url(#psb)" transform="translate(16.2 0)"/>
<rect x="101.2" y="747.1" width="508" height="8.1" fill="url(#psb)" transform="translate(3.8 0)"/>
<rect x="96.6" y="754.9" width="508" height="8.1" fill="url(#psb)" transform="translate(8.4 0)"/>
<rect x="92" y="762.7" width="508" height="8.1" fill="url(#psb)" transform="translate(13 0)"/>
<rect x="104.4" y="770.5" width="508" height="8.1" fill="url(#psb)" transform="translate(0.6 0)"/>
<rect x="99.8" y="778.3" width="508" height="8.1" fill="url(#psb)" transform="translate(5.2 0)"/>
<rect x="95.2" y="786.2" width="508" height="8.1" fill="url(#psb)" transform="translate(9.8 0)"/>
<rect x="90.6" y="794" width="508" height="8.1" fill="url(#psb)" transform="translate(14.4 0)"/>
<rect x="103" y="801.8" width="508" height="8.1" fill="url(#psb)" transform="translate(2 0)"/>
<rect x="98.4" y="809.6" width="508" height="8.1" fill="url(#psb)" transform="translate(6.6 0)"/>
<rect x="93.8" y="817.4" width="508" height="8.1" fill="url(#psb)" transform="translate(11.2 0)"/>
<rect x="89.2" y="825.3" width="508" height="8.1" fill="url(#psb)" transform="translate(15.8 0)"/>
<rect x="101.6" y="833.1" width="508" height="8.1" fill="url(#psb)" transform="translate(3.4 0)"/>
<rect x="97" y="840.9" width="508" height="8.1" fill="url(#psb)" transform="translate(8 0)"/>
<rect x="92.4" y="848.7" width="508" height="8.1" fill="url(#psb)" transform="translate(12.6 0)"/>
<rect x="104.8" y="856.5" width="508" height="8.1" fill="url(#psb)" transform="translate(0.2 0)"/>
<rect x="100.2" y="864.4" width="508" height="8.1" fill="url(#psb)" transform="translate(4.8 0)"/>
<rect x="95.6" y="872.2" width="508" height="8.1" fill="url(#psb)" transform="translate(9.4 0)"/>
</g>
<clipPath id="cpbk"><polygon points="147,490 180,490 192,530 166,530"/><polygon points="245,510 262,510 276,540 262,540"/><polygon points="250,548 275,548 292,584 270,584"/><polygon points="300,505 362,505 366,524 306,524"/><polygon points="250,696 280,696 322,780 300,780"/><polygon points="340,770 378,770 428,880 392,880"/><polygon points="410,766 440,766 500,880 465,880"/><polygon points="399,625 430,625 440,662 410,662"/><polygon points="496,860 577,861 590,880 500,880"/></clipPath>
<g clip-path="url(#cpbk)">
<linearGradient id="psbk_g" x1="0" y1="0" x2="1" y2="0">
<stop offset="0" stop-color="#5cb0e0"/>
<stop offset="0" stop-color="#a0dcee"/>
<stop offset="0.2" stop-color="#a0dcee"/>
<stop offset="0.3" stop-color="#4a98d4"/>
<stop offset="0.4" stop-color="#2f52a2"/>
<stop offset="0.7" stop-color="#3a66b6"/>
<stop offset="0.9" stop-color="#4482c8"/>
<stop offset="1" stop-color="#5cb0e0"/>
</linearGradient>
<pattern id="psbk" patternUnits="userSpaceOnUse" x="0" y="0" width="20" height="2000">
<rect x="0" y="0" width="20" height="2000" fill="url(#psbk_g)"/>
</pattern>
<rect x="102" y="489" width="508" height="8.1" fill="url(#psbk)" transform="translate(3 0)"/>
<rect x="97.4" y="496.8" width="508" height="8.1" fill="url(#psbk)" transform="translate(7.6 0)"/>
<rect x="92.8" y="504.6" width="508" height="8.1" fill="url(#psbk)" transform="translate(12.2 0)"/>
<rect x="88.2" y="512.5" width="508" height="8.1" fill="url(#psbk)" transform="translate(16.8 0)"/>
<rect x="103.6" y="520.3" width="508" height="8.1" fill="url(#psbk)" transform="translate(1.4 0)"/>
<rect x="99" y="528.1" width="508" height="8.1" fill="url(#psbk)" transform="translate(6 0)"/>
<rect x="94.4" y="535.9" width="508" height="8.1" fill="url(#psbk)" transform="translate(10.6 0)"/>
<rect x="89.8" y="543.7" width="508" height="8.1" fill="url(#psbk)" transform="translate(15.2 0)"/>
<rect x="85.2" y="551.6" width="508" height="8.1" fill="url(#psbk)" transform="translate(19.8 0)"/>
<rect x="100.6" y="559.4" width="508" height="8.1" fill="url(#psbk)" transform="translate(4.4 0)"/>
<rect x="96" y="567.2" width="508" height="8.1" fill="url(#psbk)" transform="translate(9 0)"/>
<rect x="91.4" y="575" width="508" height="8.1" fill="url(#psbk)" transform="translate(13.6 0)"/>
<rect x="86.8" y="582.8" width="508" height="8.1" fill="url(#psbk)" transform="translate(18.2 0)"/>
<rect x="102.2" y="590.7" width="508" height="8.1" fill="url(#psbk)" transform="translate(2.8 0)"/>
<rect x="97.6" y="598.5" width="508" height="8.1" fill="url(#psbk)" transform="translate(7.4 0)"/>
<rect x="93" y="606.3" width="508" height="8.1" fill="url(#psbk)" transform="translate(12 0)"/>
<rect x="88.4" y="614.1" width="508" height="8.1" fill="url(#psbk)" transform="translate(16.6 0)"/>
<rect x="103.8" y="621.9" width="508" height="8.1" fill="url(#psbk)" transform="translate(1.2 0)"/>
<rect x="99.2" y="629.8" width="508" height="8.1" fill="url(#psbk)" transform="translate(5.8 0)"/>
<rect x="94.6" y="637.6" width="508" height="8.1" fill="url(#psbk)" transform="translate(10.4 0)"/>
<rect x="90" y="645.4" width="508" height="8.1" fill="url(#psbk)" transform="translate(15 0)"/>
<rect x="85.4" y="653.2" width="508" height="8.1" fill="url(#psbk)" transform="translate(19.6 0)"/>
<rect x="100.8" y="661" width="508" height="8.1" fill="url(#psbk)" transform="translate(4.2 0)"/>
<rect x="96.2" y="668.9" width="508" height="8.1" fill="url(#psbk)" transform="translate(8.8 0)"/>
<rect x="91.6" y="676.7" width="508" height="8.1" fill="url(#psbk)" transform="translate(13.4 0)"/>
<rect x="87" y="684.5" width="508" height="8.1" fill="url(#psbk)" transform="translate(18 0)"/>
<rect x="102.4" y="692.3" width="508" height="8.1" fill="url(#psbk)" transform="translate(2.6 0)"/>
<rect x="97.8" y="700.1" width="508" height="8.1" fill="url(#psbk)" transform="translate(7.2 0)"/>
<rect x="93.2" y="708" width="508" height="8.1" fill="url(#psbk)" transform="translate(11.8 0)"/>
<rect x="88.6" y="715.8" width="508" height="8.1" fill="url(#psbk)" transform="translate(16.4 0)"/>
<rect x="104" y="723.6" width="508" height="8.1" fill="url(#psbk)" transform="translate(1 0)"/>
<rect x="99.4" y="731.4" width="508" height="8.1" fill="url(#psbk)" transform="translate(5.6 0)"/>
<rect x="94.8" y="739.2" width="508" height="8.1" fill="url(#psbk)" transform="translate(10.2 0)"/>
<rect x="90.2" y="747.1" width="508" height="8.1" fill="url(#psbk)" transform="translate(14.8 0)"/>
<rect x="85.6" y="754.9" width="508" height="8.1" fill="url(#psbk)" transform="translate(19.4 0)"/>
<rect x="101" y="762.7" width="508" height="8.1" fill="url(#psbk)" transform="translate(4 0)"/>
<rect x="96.4" y="770.5" width="508" height="8.1" fill="url(#psbk)" transform="translate(8.6 0)"/>
<rect x="91.8" y="778.3" width="508" height="8.1" fill="url(#psbk)" transform="translate(13.2 0)"/>
<rect x="87.2" y="786.2" width="508" height="8.1" fill="url(#psbk)" transform="translate(17.8 0)"/>
<rect x="102.6" y="794" width="508" height="8.1" fill="url(#psbk)" transform="translate(2.4 0)"/>
<rect x="98" y="801.8" width="508" height="8.1" fill="url(#psbk)" transform="translate(7 0)"/>
<rect x="93.4" y="809.6" width="508" height="8.1" fill="url(#psbk)" transform="translate(11.6 0)"/>
<rect x="88.8" y="817.4" width="508" height="8.1" fill="url(#psbk)" transform="translate(16.2 0)"/>
<rect x="104.2" y="825.3" width="508" height="8.1" fill="url(#psbk)" transform="translate(0.8 0)"/>
<rect x="99.6" y="833.1" width="508" height="8.1" fill="url(#psbk)" transform="translate(5.4 0)"/>
<rect x="95" y="840.9" width="508" height="8.1" fill="url(#psbk)" transform="translate(10 0)"/>
<rect x="90.4" y="848.7" width="508" height="8.1" fill="url(#psbk)" transform="translate(14.6 0)"/>
<rect x="85.8" y="856.5" width="508" height="8.1" fill="url(#psbk)" transform="translate(19.2 0)"/>
<rect x="101.2" y="864.4" width="508" height="8.1" fill="url(#psbk)" transform="translate(3.8 0)"/>
<rect x="96.6" y="872.2" width="508" height="8.1" fill="url(#psbk)" transform="translate(8.4 0)"/>
</g>
<line x1="193.2" y1="690" x2="317" y2="880" stroke="#3f7cc6" stroke-width="3"/>
<line x1="213.6" y1="700" x2="331" y2="880" stroke="#4a8ed0" stroke-width="2.5"/>
<line x1="242.3" y1="720" x2="347" y2="880" stroke="#3f7cc6" stroke-width="2"/>
<line x1="271" y1="740" x2="363" y2="880" stroke="#5aa6da" stroke-width="2.5"/>
<line x1="295.9" y1="750" x2="381" y2="880" stroke="#4a8ed0" stroke-width="2"/>
<polygon points="-145.5,600 14.5,600 19.9,623.3 -130.8,623.3" fill="#3a64b4" stroke="#3a64b4" stroke-width="0.8"/>
<polygon points="-130.8,623.3 19.9,623.3 25.2,646.7 -116.1,646.7" fill="#3a64b4" stroke="#3a64b4" stroke-width="0.8"/>
<polygon points="-116.1,646.7 25.2,646.7 29.1,670 -101.5,670" fill="#3a64b4" stroke="#3a64b4" stroke-width="0.8"/>
<polygon points="-101.5,670 29.1,670 31.7,693.3 -86.7,693.3" fill="#3a64b4" stroke="#3a64b4" stroke-width="0.8"/>
<polygon points="-86.7,693.3 31.7,693.3 39.3,716.7 -71.8,716.7" fill="#3a64b4" stroke="#3a64b4" stroke-width="0.8"/>
<polygon points="-71.8,716.7 39.3,716.7 48.9,740 -57,740" fill="#3a64b4" stroke="#3a64b4" stroke-width="0.8"/>
<polygon points="-57,740 48.9,740 63.2,763.3 -40.3,763.3" fill="#3a64b4" stroke="#3a64b4" stroke-width="0.8"/>
<polygon points="-40.3,763.3 63.2,763.3 78,786.7 -23.6,786.7" fill="#3a64b4" stroke="#3a64b4" stroke-width="0.8"/>
<polygon points="-23.6,786.7 78,786.7 90.9,810 -8.9,810" fill="#3a64b4" stroke="#3a64b4" stroke-width="0.8"/>
<polygon points="-8.9,810 90.9,810 104.2,833.3 5.8,833.3" fill="#3a64b4" stroke="#3a64b4" stroke-width="0.8"/>
<polygon points="5.8,833.3 104.2,833.3 117.6,856.7 20.4,856.7" fill="#3a64b4" stroke="#3a64b4" stroke-width="0.8"/>
<polygon points="20.4,856.7 117.6,856.7 131,880 35,880" fill="#3a64b4" stroke="#3a64b4" stroke-width="0.8"/>
<polygon points="14.5,600 28.5,600 35.7,623.3 19.9,623.3" fill="#2a3a80" stroke="#2a3a80" stroke-width="0.8"/>
<polygon points="19.9,623.3 35.7,623.3 43,646.7 25.2,646.7" fill="#2a3a80" stroke="#2a3a80" stroke-width="0.8"/>
<polygon points="25.2,646.7 43,646.7 49,670 29.1,670" fill="#2a3a80" stroke="#2a3a80" stroke-width="0.8"/>
<polygon points="29.1,670 49,670 55.3,693.3 31.7,693.3" fill="#2a3a80" stroke="#2a3a80" stroke-width="0.8"/>
<polygon points="31.7,693.3 55.3,693.3 67.4,716.7 39.3,716.7" fill="#2a3a80" stroke="#2a3a80" stroke-width="0.8"/>
<polygon points="39.3,716.7 67.4,716.7 81.1,740 48.9,740" fill="#2a3a80" stroke="#2a3a80" stroke-width="0.8"/>
<polygon points="48.9,740 81.1,740 96.7,763.3 63.2,763.3" fill="#2a3a80" stroke="#2a3a80" stroke-width="0.8"/>
<polygon points="63.2,763.3 96.7,763.3 112,786.7 78,786.7" fill="#2a3a80" stroke="#2a3a80" stroke-width="0.8"/>
<polygon points="78,786.7 112,786.7 125.1,810 90.9,810" fill="#2a3a80" stroke="#2a3a80" stroke-width="0.8"/>
<polygon points="90.9,810 125.1,810 139.8,833.3 104.2,833.3" fill="#2a3a80" stroke="#2a3a80" stroke-width="0.8"/>
<polygon points="104.2,833.3 139.8,833.3 154.4,856.7 117.6,856.7" fill="#2a3a80" stroke="#2a3a80" stroke-width="0.8"/>
<polygon points="117.6,856.7 154.4,856.7 169,880 131,880" fill="#2a3a80" stroke="#2a3a80" stroke-width="0.8"/>
<polygon points="28.5,600 40.5,600 49.1,623.3 35.7,623.3" fill="#232248" stroke="#232248" stroke-width="0.8"/>
<polygon points="35.7,623.3 49.1,623.3 57.8,646.7 43,646.7" fill="#232248" stroke="#232248" stroke-width="0.8"/>
<polygon points="43,646.7 57.8,646.7 67.8,670 49,670" fill="#232248" stroke="#232248" stroke-width="0.8"/>
<polygon points="49,670 67.8,670 78.3,693.3 55.3,693.3" fill="#232248" stroke="#232248" stroke-width="0.8"/>
<polygon points="55.3,693.3 78.3,693.3 90.6,716.7 67.4,716.7" fill="#232248" stroke="#232248" stroke-width="0.8"/>
<polygon points="67.4,716.7 90.6,716.7 103.3,740 81.1,740" fill="#232248" stroke="#232248" stroke-width="0.8"/>
<polygon points="81.1,740 103.3,740 121.8,763.3 96.7,763.3" fill="#232248" stroke="#232248" stroke-width="0.8"/>
<polygon points="96.7,763.3 121.8,763.3 140,786.7 112,786.7" fill="#232248" stroke="#232248" stroke-width="0.8"/>
<polygon points="112,786.7 140,786.7 153,810 125.1,810" fill="#232248" stroke="#232248" stroke-width="0.8"/>
<polygon points="125.1,810 153,810 167,833.3 139.8,833.3" fill="#232248" stroke="#232248" stroke-width="0.8"/>
<polygon points="139.8,833.3 167,833.3 181,856.7 154.4,856.7" fill="#232248" stroke="#232248" stroke-width="0.8"/>
<polygon points="154.4,856.7 181,856.7 195,880 169,880" fill="#232248" stroke="#232248" stroke-width="0.8"/>
<polygon points="40.5,600 43.5,600 52.6,623.3 49.1,623.3" fill="#1e1a22" stroke="#1e1a22" stroke-width="0.8"/>
<polygon points="49.1,623.3 52.6,623.3 61.7,646.7 57.8,646.7" fill="#1e1a22" stroke="#1e1a22" stroke-width="0.8"/>
<polygon points="57.8,646.7 61.7,646.7 72.4,670 67.8,670" fill="#1e1a22" stroke="#1e1a22" stroke-width="0.8"/>
<polygon points="67.8,670 72.4,670 83.3,693.3 78.3,693.3" fill="#1e1a22" stroke="#1e1a22" stroke-width="0.8"/>
<polygon points="78.3,693.3 83.3,693.3 96.6,716.7 90.6,716.7" fill="#1e1a22" stroke="#1e1a22" stroke-width="0.8"/>
<polygon points="90.6,716.7 96.6,716.7 110.6,740 103.3,740" fill="#1e1a22" stroke="#1e1a22" stroke-width="0.8"/>
<polygon points="103.3,740 110.6,740 127,763.3 121.8,763.3" fill="#1e1a22" stroke="#1e1a22" stroke-width="0.8"/>
<polygon points="121.8,763.3 127,763.3 143.2,786.7 140,786.7" fill="#1e1a22" stroke="#1e1a22" stroke-width="0.8"/>
<polygon points="140,786.7 143.2,786.7 157.1,810 153,810" fill="#1e1a22" stroke="#1e1a22" stroke-width="0.8"/>
<polygon points="153,810 157.1,810 171.8,833.3 167,833.3" fill="#1e1a22" stroke="#1e1a22" stroke-width="0.8"/>
<polygon points="167,833.3 171.8,833.3 186.4,856.7 181,856.7" fill="#1e1a22" stroke="#1e1a22" stroke-width="0.8"/>
<polygon points="181,856.7 186.4,856.7 201,880 195,880" fill="#1e1a22" stroke="#1e1a22" stroke-width="0.8"/>
<polygon points="43.5,600 45.5,600 55.1,623.3 52.6,623.3" fill="#8c2020" stroke="#8c2020" stroke-width="0.8"/>
<polygon points="52.6,623.3 55.1,623.3 64.6,646.7 61.7,646.7" fill="#8c2020" stroke="#8c2020" stroke-width="0.8"/>
<polygon points="61.7,646.7 64.6,646.7 75.4,670 72.4,670" fill="#8c2020" stroke="#8c2020" stroke-width="0.8"/>
<polygon points="72.4,670 75.4,670 86.3,693.3 83.3,693.3" fill="#8c2020" stroke="#8c2020" stroke-width="0.8"/>
<polygon points="83.3,693.3 86.3,693.3 100,716.7 96.6,716.7" fill="#8c2020" stroke="#8c2020" stroke-width="0.8"/>
<polygon points="96.6,716.7 100,716.7 114.5,740 110.6,740" fill="#8c2020" stroke="#8c2020" stroke-width="0.8"/>
<polygon points="110.6,740 114.5,740 130.2,763.3 127,763.3" fill="#8c2020" stroke="#8c2020" stroke-width="0.8"/>
<polygon points="127,763.3 130.2,763.3 146,786.7 143.2,786.7" fill="#8c2020" stroke="#8c2020" stroke-width="0.8"/>
<polygon points="143.2,786.7 146,786.7 161.3,810 157.1,810" fill="#8c2020" stroke="#8c2020" stroke-width="0.8"/>
<polygon points="157.1,810 161.3,810 176.5,833.3 171.8,833.3" fill="#8c2020" stroke="#8c2020" stroke-width="0.8"/>
<polygon points="171.8,833.3 176.5,833.3 191.8,856.7 186.4,856.7" fill="#8c2020" stroke="#8c2020" stroke-width="0.8"/>
<polygon points="186.4,856.7 191.8,856.7 207,880 201,880" fill="#8c2020" stroke="#8c2020" stroke-width="0.8"/>
<polygon points="45.5,600 49.5,600 60.9,623.3 55.1,623.3" fill="#dc3a2c" stroke="#dc3a2c" stroke-width="0.8"/>
<polygon points="55.1,623.3 60.9,623.3 72.4,646.7 64.6,646.7" fill="#dc3a2c" stroke="#dc3a2c" stroke-width="0.8"/>
<polygon points="64.6,646.7 72.4,646.7 84.6,670 75.4,670" fill="#dc3a2c" stroke="#dc3a2c" stroke-width="0.8"/>
<polygon points="75.4,670 84.6,670 97,693.3 86.3,693.3" fill="#dc3a2c" stroke="#dc3a2c" stroke-width="0.8"/>
<polygon points="86.3,693.3 97,693.3 109.8,716.7 100,716.7" fill="#dc3a2c" stroke="#dc3a2c" stroke-width="0.8"/>
<polygon points="100,716.7 109.8,716.7 122.8,740 114.5,740" fill="#dc3a2c" stroke="#dc3a2c" stroke-width="0.8"/>
<polygon points="114.5,740 122.8,740 138.7,763.3 130.2,763.3" fill="#dc3a2c" stroke="#dc3a2c" stroke-width="0.8"/>
<polygon points="130.2,763.3 138.7,763.3 155.2,786.7 146,786.7" fill="#dc3a2c" stroke="#dc3a2c" stroke-width="0.8"/>
<polygon points="146,786.7 155.2,786.7 171.5,810 161.3,810" fill="#dc3a2c" stroke="#dc3a2c" stroke-width="0.8"/>
<polygon points="161.3,810 171.5,810 187.6,833.3 176.5,833.3" fill="#dc3a2c" stroke="#dc3a2c" stroke-width="0.8"/>
<polygon points="176.5,833.3 187.6,833.3 203.8,856.7 191.8,856.7" fill="#dc3a2c" stroke="#dc3a2c" stroke-width="0.8"/>
<polygon points="191.8,856.7 203.8,856.7 220,880 207,880" fill="#dc3a2c" stroke="#dc3a2c" stroke-width="0.8"/>
<polygon points="49.5,600 52.5,600 65.3,623.3 60.9,623.3" fill="#f59a2e" stroke="#f59a2e" stroke-width="0.8"/>
<polygon points="60.9,623.3 65.3,623.3 78.2,646.7 72.4,646.7" fill="#f59a2e" stroke="#f59a2e" stroke-width="0.8"/>
<polygon points="72.4,646.7 78.2,646.7 91.2,670 84.6,670" fill="#f59a2e" stroke="#f59a2e" stroke-width="0.8"/>
<polygon points="84.6,670 91.2,670 104.7,693.3 97,693.3" fill="#f59a2e" stroke="#f59a2e" stroke-width="0.8"/>
<polygon points="97,693.3 104.7,693.3 116.2,716.7 109.8,716.7" fill="#f59a2e" stroke="#f59a2e" stroke-width="0.8"/>
<polygon points="109.8,716.7 116.2,716.7 127.1,740 122.8,740" fill="#f59a2e" stroke="#f59a2e" stroke-width="0.8"/>
<polygon points="122.8,740 127.1,740 144,763.3 138.7,763.3" fill="#f59a2e" stroke="#f59a2e" stroke-width="0.8"/>
<polygon points="138.7,763.3 144,763.3 161.6,786.7 155.2,786.7" fill="#f59a2e" stroke="#f59a2e" stroke-width="0.8"/>
<polygon points="155.2,786.7 161.6,786.7 177.3,810 171.5,810" fill="#f59a2e" stroke="#f59a2e" stroke-width="0.8"/>
<polygon points="171.5,810 177.3,810 192.9,833.3 187.6,833.3" fill="#f59a2e" stroke="#f59a2e" stroke-width="0.8"/>
<polygon points="187.6,833.3 192.9,833.3 208.4,856.7 203.8,856.7" fill="#f59a2e" stroke="#f59a2e" stroke-width="0.8"/>
<polygon points="203.8,856.7 208.4,856.7 224,880 220,880" fill="#f59a2e" stroke="#f59a2e" stroke-width="0.8"/>
<polygon points="52.5,600 56.5,600 73.1,623.3 65.3,623.3" fill="#f6d232" stroke="#f6d232" stroke-width="0.8"/>
<polygon points="65.3,623.3 73.1,623.3 89.6,646.7 78.2,646.7" fill="#f6d232" stroke="#f6d232" stroke-width="0.8"/>
<polygon points="78.2,646.7 89.6,646.7 105.8,670 91.2,670" fill="#f6d232" stroke="#f6d232" stroke-width="0.8"/>
<polygon points="91.2,670 105.8,670 122,693.3 104.7,693.3" fill="#f6d232" stroke="#f6d232" stroke-width="0.8"/>
<polygon points="104.7,693.3 122,693.3 140.1,716.7 116.2,716.7" fill="#f6d232" stroke="#f6d232" stroke-width="0.8"/>
<polygon points="116.2,716.7 140.1,716.7 158.8,740 127.1,740" fill="#f6d232" stroke="#f6d232" stroke-width="0.8"/>
<polygon points="127.1,740 158.8,740 175.5,763.3 144,763.3" fill="#f6d232" stroke="#f6d232" stroke-width="0.8"/>
<polygon points="144,763.3 175.5,763.3 191.2,786.7 161.6,786.7" fill="#f6d232" stroke="#f6d232" stroke-width="0.8"/>
<polygon points="161.6,786.7 191.2,786.7 204.9,810 177.3,810" fill="#f6d232" stroke="#f6d232" stroke-width="0.8"/>
<polygon points="177.3,810 204.9,810 218.6,833.3 192.9,833.3" fill="#f6d232" stroke="#f6d232" stroke-width="0.8"/>
<polygon points="192.9,833.3 218.6,833.3 232.3,856.7 208.4,856.7" fill="#f6d232" stroke="#f6d232" stroke-width="0.8"/>
<polygon points="208.4,856.7 232.3,856.7 246,880 224,880" fill="#f6d232" stroke="#f6d232" stroke-width="0.8"/>
<polygon points="56.5,600 59.5,600 77.5,623.3 73.1,623.3" fill="#f59a2e" stroke="#f59a2e" stroke-width="0.8"/>
<polygon points="73.1,623.3 77.5,623.3 95.4,646.7 89.6,646.7" fill="#f59a2e" stroke="#f59a2e" stroke-width="0.8"/>
<polygon points="89.6,646.7 95.4,646.7 112.4,670 105.8,670" fill="#f59a2e" stroke="#f59a2e" stroke-width="0.8"/>
<polygon points="105.8,670 112.4,670 129.7,693.3 122,693.3" fill="#f59a2e" stroke="#f59a2e" stroke-width="0.8"/>
<polygon points="122,693.3 129.7,693.3 146.6,716.7 140.1,716.7" fill="#f59a2e" stroke="#f59a2e" stroke-width="0.8"/>
<polygon points="140.1,716.7 146.6,716.7 163.2,740 158.8,740" fill="#f59a2e" stroke="#f59a2e" stroke-width="0.8"/>
<polygon points="158.8,740 163.2,740 180.8,763.3 175.5,763.3" fill="#f59a2e" stroke="#f59a2e" stroke-width="0.8"/>
<polygon points="175.5,763.3 180.8,763.3 197.6,786.7 191.2,786.7" fill="#f59a2e" stroke="#f59a2e" stroke-width="0.8"/>
<polygon points="191.2,786.7 197.6,786.7 210.8,810 204.9,810" fill="#f59a2e" stroke="#f59a2e" stroke-width="0.8"/>
<polygon points="204.9,810 210.8,810 223.9,833.3 218.6,833.3" fill="#f59a2e" stroke="#f59a2e" stroke-width="0.8"/>
<polygon points="218.6,833.3 223.9,833.3 236.9,856.7 232.3,856.7" fill="#f59a2e" stroke="#f59a2e" stroke-width="0.8"/>
<polygon points="232.3,856.7 236.9,856.7 250,880 246,880" fill="#f59a2e" stroke="#f59a2e" stroke-width="0.8"/>
<polygon points="59.5,600 63.5,600 83.3,623.3 77.5,623.3" fill="#dc3a2c" stroke="#dc3a2c" stroke-width="0.8"/>
<polygon points="77.5,623.3 83.3,623.3 103.2,646.7 95.4,646.7" fill="#dc3a2c" stroke="#dc3a2c" stroke-width="0.8"/>
<polygon points="95.4,646.7 103.2,646.7 121.6,670 112.4,670" fill="#dc3a2c" stroke="#dc3a2c" stroke-width="0.8"/>
<polygon points="112.4,670 121.6,670 140.3,693.3 129.7,693.3" fill="#dc3a2c" stroke="#dc3a2c" stroke-width="0.8"/>
<polygon points="129.7,693.3 140.3,693.3 158.7,716.7 146.6,716.7" fill="#dc3a2c" stroke="#dc3a2c" stroke-width="0.8"/>
<polygon points="146.6,716.7 158.7,716.7 176.9,740 163.2,740" fill="#dc3a2c" stroke="#dc3a2c" stroke-width="0.8"/>
<polygon points="163.2,740 176.9,740 195.3,763.3 180.8,763.3" fill="#dc3a2c" stroke="#dc3a2c" stroke-width="0.8"/>
<polygon points="180.8,763.3 195.3,763.3 212.8,786.7 197.6,786.7" fill="#dc3a2c" stroke="#dc3a2c" stroke-width="0.8"/>
<polygon points="197.6,786.7 212.8,786.7 226.9,810 210.8,810" fill="#dc3a2c" stroke="#dc3a2c" stroke-width="0.8"/>
<polygon points="210.8,810 226.9,810 240.6,833.3 223.9,833.3" fill="#dc3a2c" stroke="#dc3a2c" stroke-width="0.8"/>
<polygon points="223.9,833.3 240.6,833.3 254.3,856.7 236.9,856.7" fill="#dc3a2c" stroke="#dc3a2c" stroke-width="0.8"/>
<polygon points="236.9,856.7 254.3,856.7 268,880 250,880" fill="#dc3a2c" stroke="#dc3a2c" stroke-width="0.8"/>
<polygon points="63.5,600 66.5,600 87.3,623.3 83.3,623.3" fill="#8c2020" stroke="#8c2020" stroke-width="0.8"/>
<polygon points="83.3,623.3 87.3,623.3 108,646.7 103.2,646.7" fill="#8c2020" stroke="#8c2020" stroke-width="0.8"/>
<polygon points="103.2,646.7 108,646.7 127.2,670 121.6,670" fill="#8c2020" stroke="#8c2020" stroke-width="0.8"/>
<polygon points="121.6,670 127.2,670 147,693.3 140.3,693.3" fill="#8c2020" stroke="#8c2020" stroke-width="0.8"/>
<polygon points="140.3,693.3 147,693.3 165,716.7 158.7,716.7" fill="#8c2020" stroke="#8c2020" stroke-width="0.8"/>
<polygon points="158.7,716.7 165,716.7 182.1,740 176.9,740" fill="#8c2020" stroke="#8c2020" stroke-width="0.8"/>
<polygon points="176.9,740 182.1,740 200.5,763.3 195.3,763.3" fill="#8c2020" stroke="#8c2020" stroke-width="0.8"/>
<polygon points="195.3,763.3 200.5,763.3 218.4,786.7 212.8,786.7" fill="#8c2020" stroke="#8c2020" stroke-width="0.8"/>
<polygon points="212.8,786.7 218.4,786.7 232.8,810 226.9,810" fill="#8c2020" stroke="#8c2020" stroke-width="0.8"/>
<polygon points="226.9,810 232.8,810 245.9,833.3 240.6,833.3" fill="#8c2020" stroke="#8c2020" stroke-width="0.8"/>
<polygon points="240.6,833.3 245.9,833.3 258.9,856.7 254.3,856.7" fill="#8c2020" stroke="#8c2020" stroke-width="0.8"/>
<polygon points="254.3,856.7 258.9,856.7 272,880 268,880" fill="#8c2020" stroke="#8c2020" stroke-width="0.8"/>
<polygon points="66.5,600 69.5,600 90.7,623.3 87.3,623.3" fill="#1e1a22" stroke="#1e1a22" stroke-width="0.8"/>
<polygon points="87.3,623.3 90.7,623.3 112,646.7 108,646.7" fill="#1e1a22" stroke="#1e1a22" stroke-width="0.8"/>
<polygon points="108,646.7 112,646.7 131.2,670 127.2,670" fill="#1e1a22" stroke="#1e1a22" stroke-width="0.8"/>
<polygon points="127.2,670 131.2,670 151,693.3 147,693.3" fill="#1e1a22" stroke="#1e1a22" stroke-width="0.8"/>
<polygon points="147,693.3 151,693.3 170.1,716.7 165,716.7" fill="#1e1a22" stroke="#1e1a22" stroke-width="0.8"/>
<polygon points="165,716.7 170.1,716.7 188.8,740 182.1,740" fill="#1e1a22" stroke="#1e1a22" stroke-width="0.8"/>
<polygon points="182.1,740 188.8,740 207.3,763.3 200.5,763.3" fill="#1e1a22" stroke="#1e1a22" stroke-width="0.8"/>
<polygon points="200.5,763.3 207.3,763.3 224.6,786.7 218.4,786.7" fill="#1e1a22" stroke="#1e1a22" stroke-width="0.8"/>
<polygon points="218.4,786.7 224.6,786.7 237.7,810 232.8,810" fill="#1e1a22" stroke="#1e1a22" stroke-width="0.8"/>
<polygon points="232.8,810 237.7,810 250.5,833.3 245.9,833.3" fill="#1e1a22" stroke="#1e1a22" stroke-width="0.8"/>
<polygon points="245.9,833.3 250.5,833.3 263.2,856.7 258.9,856.7" fill="#1e1a22" stroke="#1e1a22" stroke-width="0.8"/>
<polygon points="258.9,856.7 263.2,856.7 276,880 272,880" fill="#1e1a22" stroke="#1e1a22" stroke-width="0.8"/>
<polygon points="69.5,600 94.5,600 111.1,623.3 90.7,623.3" fill="#232248" stroke="#232248" stroke-width="0.8"/>
<polygon points="90.7,623.3 111.1,623.3 127.6,646.7 112,646.7" fill="#232248" stroke="#232248" stroke-width="0.8"/>
<polygon points="112,646.7 127.6,646.7 145,670 131.2,670" fill="#232248" stroke="#232248" stroke-width="0.8"/>
<polygon points="131.2,670 145,670 164.7,693.3 151,693.3" fill="#232248" stroke="#232248" stroke-width="0.8"/>
<polygon points="151,693.3 164.7,693.3 183.7,716.7 170.1,716.7" fill="#232248" stroke="#232248" stroke-width="0.8"/>
<polygon points="170.1,716.7 183.7,716.7 201.9,740 188.8,740" fill="#232248" stroke="#232248" stroke-width="0.8"/>
<polygon points="188.8,740 201.9,740 221.8,763.3 207.3,763.3" fill="#232248" stroke="#232248" stroke-width="0.8"/>
<polygon points="207.3,763.3 221.8,763.3 240.4,786.7 224.6,786.7" fill="#232248" stroke="#232248" stroke-width="0.8"/>
<polygon points="224.6,786.7 240.4,786.7 252.7,810 237.7,810" fill="#232248" stroke="#232248" stroke-width="0.8"/>
<polygon points="237.7,810 252.7,810 265.5,833.3 250.5,833.3" fill="#232248" stroke="#232248" stroke-width="0.8"/>
<polygon points="250.5,833.3 265.5,833.3 278.2,856.7 263.2,856.7" fill="#232248" stroke="#232248" stroke-width="0.8"/>
<polygon points="263.2,856.7 278.2,856.7 291,880 276,880" fill="#232248" stroke="#232248" stroke-width="0.8"/>
<polygon points="94.5,600 100.5,600 117.1,623.3 111.1,623.3" fill="#2c3f8e" stroke="#2c3f8e" stroke-width="0.8"/>
<polygon points="111.1,623.3 117.1,623.3 133.6,646.7 127.6,646.7" fill="#2c3f8e" stroke="#2c3f8e" stroke-width="0.8"/>
<polygon points="127.6,646.7 133.6,646.7 150.4,670 145,670" fill="#2c3f8e" stroke="#2c3f8e" stroke-width="0.8"/>
<polygon points="145,670 150.4,670 168.3,693.3 164.7,693.3" fill="#2c3f8e" stroke="#2c3f8e" stroke-width="0.8"/>
<polygon points="164.7,693.3 168.3,693.3 188.1,716.7 183.7,716.7" fill="#2c3f8e" stroke="#2c3f8e" stroke-width="0.8"/>
<polygon points="183.7,716.7 188.1,716.7 208.1,740 201.9,740" fill="#2c3f8e" stroke="#2c3f8e" stroke-width="0.8"/>
<polygon points="201.9,740 208.1,740 227.8,763.3 221.8,763.3" fill="#2c3f8e" stroke="#2c3f8e" stroke-width="0.8"/>
<polygon points="221.8,763.3 227.8,763.3 246,786.7 240.4,786.7" fill="#2c3f8e" stroke="#2c3f8e" stroke-width="0.8"/>
<polygon points="240.4,786.7 246,786.7 258.6,810 252.7,810" fill="#2c3f8e" stroke="#2c3f8e" stroke-width="0.8"/>
<polygon points="252.7,810 258.6,810 270.7,833.3 265.5,833.3" fill="#2c3f8e" stroke="#2c3f8e" stroke-width="0.8"/>
<polygon points="265.5,833.3 270.7,833.3 282.9,856.7 278.2,856.7" fill="#2c3f8e" stroke="#2c3f8e" stroke-width="0.8"/>
<polygon points="278.2,856.7 282.9,856.7 295,880 291,880" fill="#2c3f8e" stroke="#2c3f8e" stroke-width="0.8"/>
<polygon points="100.5,600 106.5,600 122.6,623.3 117.1,623.3" fill="#4a88cc" stroke="#4a88cc" stroke-width="0.8"/>
<polygon points="117.1,623.3 122.6,623.3 138.7,646.7 133.6,646.7" fill="#4a88cc" stroke="#4a88cc" stroke-width="0.8"/>
<polygon points="133.6,646.7 138.7,646.7 155.4,670 150.4,670" fill="#4a88cc" stroke="#4a88cc" stroke-width="0.8"/>
<polygon points="150.4,670 155.4,670 174,693.3 168.3,693.3" fill="#4a88cc" stroke="#4a88cc" stroke-width="0.8"/>
<polygon points="168.3,693.3 174,693.3 197.3,716.7 188.1,716.7" fill="#4a88cc" stroke="#4a88cc" stroke-width="0.8"/>
<polygon points="188.1,716.7 197.3,716.7 221.4,740 208.1,740" fill="#4a88cc" stroke="#4a88cc" stroke-width="0.8"/>
<polygon points="208.1,740 221.4,740 237.7,763.3 227.8,763.3" fill="#4a88cc" stroke="#4a88cc" stroke-width="0.8"/>
<polygon points="227.8,763.3 237.7,763.3 252.4,786.7 246,786.7" fill="#4a88cc" stroke="#4a88cc" stroke-width="0.8"/>
<polygon points="246,786.7 252.4,786.7 267.2,810 258.6,810" fill="#4a88cc" stroke="#4a88cc" stroke-width="0.8"/>
<polygon points="258.6,810 267.2,810 282.1,833.3 270.7,833.3" fill="#4a88cc" stroke="#4a88cc" stroke-width="0.8"/>
<polygon points="270.7,833.3 282.1,833.3 297.1,856.7 282.9,856.7" fill="#4a88cc" stroke="#4a88cc" stroke-width="0.8"/>
<polygon points="282.9,856.7 297.1,856.7 312,880 295,880" fill="#4a88cc" stroke="#4a88cc" stroke-width="0.8"/>
<g clip-path="url(#cpb_b)">
<rect x="105" y="489" width="508" height="8.1" fill="#1a1030" fill-opacity="0.098"/>
<rect x="105" y="496.8" width="508" height="8.1" fill="#1a1030" fill-opacity="0.084"/>
<rect x="105" y="504.6" width="508" height="8.1" fill="#1a1030" fill-opacity="0.091"/>
<rect x="105" y="512.5" width="508" height="8.1" fill="#1a1030" fill-opacity="0.044"/>
<rect x="105" y="520.3" width="508" height="8.1" fill="#ffffff" fill-opacity="0.101"/>
<rect x="105" y="528.1" width="508" height="8.1" fill="#1a1030" fill-opacity="0.112"/>
<rect x="105" y="535.9" width="508" height="8.1" fill="#ffffff" fill-opacity="0.066"/>
<rect x="105" y="543.7" width="508" height="8.1" fill="#ffffff" fill-opacity="0.088"/>
<rect x="105" y="551.6" width="508" height="8.1" fill="#1a1030" fill-opacity="0.025"/>
<rect x="105" y="559.4" width="508" height="8.1" fill="#1a1030" fill-opacity="0.049"/>
<rect x="105" y="567.2" width="508" height="8.1" fill="#ffffff" fill-opacity="0.033"/>
<rect x="105" y="575" width="508" height="8.1" fill="#ffffff" fill-opacity="0.085"/>
<rect x="105" y="582.8" width="508" height="8.1" fill="#ffffff" fill-opacity="0.151"/>
<rect x="105" y="590.7" width="508" height="8.1" fill="#ffffff" fill-opacity="0.062"/>
<rect x="105" y="598.5" width="508" height="8.1" fill="#ffffff" fill-opacity="0.112"/>
<rect x="105" y="606.3" width="508" height="8.1" fill="#1a1030" fill-opacity="0.032"/>
<rect x="105" y="614.1" width="508" height="8.1" fill="#1a1030" fill-opacity="0.061"/>
<rect x="105" y="621.9" width="508" height="8.1" fill="#1a1030" fill-opacity="0.120"/>
<rect x="105" y="629.8" width="508" height="8.1" fill="#1a1030" fill-opacity="0.081"/>
<rect x="105" y="637.6" width="508" height="8.1" fill="#1a1030" fill-opacity="0.025"/>
<rect x="105" y="653.2" width="508" height="8.1" fill="#1a1030" fill-opacity="0.092"/>
<rect x="105" y="661" width="508" height="8.1" fill="#ffffff" fill-opacity="0.057"/>
<rect x="105" y="676.7" width="508" height="8.1" fill="#1a1030" fill-opacity="0.045"/>
<rect x="105" y="684.5" width="508" height="8.1" fill="#1a1030" fill-opacity="0.054"/>
<rect x="105" y="692.3" width="508" height="8.1" fill="#ffffff" fill-opacity="0.141"/>
<rect x="105" y="708" width="508" height="8.1" fill="#1a1030" fill-opacity="0.063"/>
<rect x="105" y="715.8" width="508" height="8.1" fill="#1a1030" fill-opacity="0.067"/>
<rect x="105" y="723.6" width="508" height="8.1" fill="#ffffff" fill-opacity="0.129"/>
<rect x="105" y="731.4" width="508" height="8.1" fill="#1a1030" fill-opacity="0.040"/>
<rect x="105" y="739.2" width="508" height="8.1" fill="#ffffff" fill-opacity="0.083"/>
<rect x="105" y="747.1" width="508" height="8.1" fill="#ffffff" fill-opacity="0.100"/>
<rect x="105" y="754.9" width="508" height="8.1" fill="#1a1030" fill-opacity="0.160"/>
<rect x="105" y="762.7" width="508" height="8.1" fill="#ffffff" fill-opacity="0.095"/>
<rect x="105" y="778.3" width="508" height="8.1" fill="#1a1030" fill-opacity="0.076"/>
<rect x="105" y="786.2" width="508" height="8.1" fill="#1a1030" fill-opacity="0.038"/>
<rect x="105" y="794" width="508" height="8.1" fill="#ffffff" fill-opacity="0.039"/>
<rect x="105" y="801.8" width="508" height="8.1" fill="#ffffff" fill-opacity="0.026"/>
<rect x="105" y="809.6" width="508" height="8.1" fill="#ffffff" fill-opacity="0.030"/>
<rect x="105" y="817.4" width="508" height="8.1" fill="#1a1030" fill-opacity="0.051"/>
<rect x="105" y="825.3" width="508" height="8.1" fill="#ffffff" fill-opacity="0.090"/>
<rect x="105" y="833.1" width="508" height="8.1" fill="#ffffff" fill-opacity="0.105"/>
<rect x="105" y="840.9" width="508" height="8.1" fill="#ffffff" fill-opacity="0.128"/>
<rect x="105" y="848.7" width="508" height="8.1" fill="#ffffff" fill-opacity="0.070"/>
<rect x="105" y="856.5" width="508" height="8.1" fill="#ffffff" fill-opacity="0.133"/>
<rect x="105" y="864.4" width="508" height="8.1" fill="#ffffff" fill-opacity="0.147"/>
<rect x="105" y="872.2" width="508" height="8.1" fill="#ffffff" fill-opacity="0.049"/>
</g>
</g>
<polygon points="266,489 490,489 515,526 613,526 613,634 513,634 485,589 403,589 357,504.5 279,504.5" fill="#ffc0cb" fill-opacity="0.42"/>
<polygon points="105,500.6 139,555.2 178,555.2 198.8,585.9 321,585.9 370.4,659.7 438,659.7 496.5,752.5 577,753 613,809 613,880 590,880 577,861 496,860 438,767.3 369,767.3 321,693.7 200,693.7 175.4,663 139,663 105,608.5" fill="#ffc0cb" fill-opacity="0.42"/>
<polyline points="266,489 279,504.5 357,504.5 403,589 485,589 513,634 613,634" fill="none" stroke="#ffbfca" stroke-width="3" stroke-dasharray="10.3,4.4"/>
<polyline points="490,489 515,526 613,526" fill="none" stroke="#ffbfca" stroke-width="3" stroke-dasharray="10.3,4.4"/>
<polyline points="105,500.6 139,555.2 178,555.2 198.8,585.9 321,585.9 370.4,659.7 438,659.7 496.5,752.5 577,753 613,809" fill="none" stroke="#ffbfca" stroke-width="3" stroke-dasharray="10.3,4.4"/>
<polyline points="105,608.5 139,663 175.4,663 200,693.7 321,693.7 369,767.3 438,767.3 496,860 577,861 590,880" fill="none" stroke="#ffbfca" stroke-width="3" stroke-dasharray="10.3,4.4"/>
<rect x="105" y="0" width="124" height="33.5" fill="#d87f7e"/>
<rect x="229" y="0" width="384" height="33.5" fill="#c0c0c0"/>
<rect x="105" y="450" width="401" height="33.5" fill="#d87f7e"/>
<rect x="506" y="450" width="107" height="33.5" fill="#c0c0c0"/>
<text x="127" y="28" font-size="30" text-anchor="start" style="fill:#fff">P</text>
<text x="571" y="28" font-size="30" text-anchor="start" style="fill:#fff">N</text>
<text x="127" y="478" font-size="30" text-anchor="start" style="fill:#fff">P</text>
<text x="571" y="478" font-size="30" text-anchor="start" style="fill:#fff">N</text>
<rect x="820" y="39" width="105.6" height="406" fill="#fdf6ea"/>
<rect x="1128.2" y="39" width="93.6" height="406" fill="#fef3f3"/>
<rect x="1221.8" y="39" width="105.2" height="406" fill="#f4f4f4"/>
<rect x="1703.3" y="39" width="139.5" height="406" fill="#fef3f3"/>
<rect x="820" y="475" width="105.6" height="405" fill="#fdf6ea"/>
<rect x="1221.8" y="475" width="105.2" height="405" fill="#f4f4f4"/>
<rect x="1703.3" y="475" width="139.5" height="405" fill="#fef3f3"/>
<line x1="820" y1="542.5" x2="1327" y2="542.5" stroke="#b0b0b0" stroke-width="2" stroke-dasharray="7,2.85"/>
<line x1="1469.5" y1="542.5" x2="1977" y2="542.5" stroke="#b0b0b0" stroke-width="2" stroke-dasharray="7,2.85"/>
<line x1="820" y1="610" x2="1327" y2="610" stroke="#b0b0b0" stroke-width="2" stroke-dasharray="7,2.85"/>
<line x1="1469.5" y1="610" x2="1977" y2="610" stroke="#b0b0b0" stroke-width="2" stroke-dasharray="7,2.85"/>
<line x1="820" y1="677.5" x2="1327" y2="677.5" stroke="#b0b0b0" stroke-width="2" stroke-dasharray="7,2.85"/>
<line x1="1469.5" y1="677.5" x2="1977" y2="677.5" stroke="#b0b0b0" stroke-width="2" stroke-dasharray="7,2.85"/>
<line x1="820" y1="745" x2="1327" y2="745" stroke="#b0b0b0" stroke-width="2" stroke-dasharray="7,2.85"/>
<line x1="1469.5" y1="745" x2="1977" y2="745" stroke="#b0b0b0" stroke-width="2" stroke-dasharray="7,2.85"/>
<line x1="820" y1="812.5" x2="1327" y2="812.5" stroke="#b0b0b0" stroke-width="2" stroke-dasharray="7,2.85"/>
<line x1="1469.5" y1="812.5" x2="1977" y2="812.5" stroke="#b0b0b0" stroke-width="2" stroke-dasharray="7,2.85"/>
<polyline points="820,399.3 821,403.9 822,404.1 823,402.3 824,402.4 825,406.4 826,411 827,411.6 828,407.5 829,405.5 830,410.1 831,415.4 832,413.2 833,408 834,410.7 835,415.3 836,414.8 837,414.6 838,414.3 839,413.4 840,412 841,409.7 842,410.3 843,411.1 844,408.6 845,409.4 846,413.5 847,414.1 848,413.2 849,413.6 850,413.8 851,412.1 852,411 853,412.9 854,414.4 855,414.7 856,416.1 857,415.8 858,413.8 859,412.3 860,408.8 861,410.5 862,415 863,414.3 864,413.2 865,411.7 866,412.6 867,415.3 868,413.1 869,409 870,408.3 871,409.5 872,409.5 873,410.6 874,411.5 875,408.9 876,404.7 877,401.7 878,400.4 879,402.5 880,404.5 881,406.3 882,409.5 883,408.3 884,406.4 885,408.5 886,409.7 887,408.8 888,408.8 889,410.3 890,410.5 891,409.3 892,410.2 893,410.3 894,409.4 895,412.1 896,414.1 897,410.4 898,402.1 899,395.7 900,393.2 901,388.8 902,384 903,384.9 904,386.3 905,386.7 906,389.2 907,388.6 908,386.4 909,385.4 910,379.5 911,374.7 912,384.9 913,401.7 914,408.9 915,406.5 916,404.7 917,405 918,406.6 919,408.4 920,409.2 921,408.4 922,407.3 923,407.3 924,404.5 925,401.1 926,402.6 927,398.8 928,385.3 929,375.5 930,357.5 931,330 932,322.2 933,344.3 934,372.6 935,386 936,391.2 937,393.1 938,395 939,393.5 940,393.1 941,397.6 942,398.8 943,399.5 944,402.2 945,401.8 946,396.2 947,389.1 948,382.7 949,366.7 950,348.3 951,347.1 952,359.1 953,370 954,372.6 955,373.6 956,378 957,382.1 958,385.6 959,390.6 960,391.4 961,388.5 962,385.7 963,384 964,386.3 965,377.1 966,350.6 967,328.3 968,306.7 969,276.8 970,256.1 971,241.1 972,224.1 973,216.7 974,229.5 975,255.9 976,294.2 977,338.6 978,373.1 979,400.2 980,401.3 981,397 982,396.8 983,398.6 984,387.9 985,363 986,336.2 987,314.5 988,290.2 989,262.1 990,249.7 991,248.2 992,242.5 993,247 994,264.7 995,278.7 996,295.6 997,323.1 998,352.8 999,373.8 1000,383.2 1001,387.2 1002,391.3 1003,398.2 1004,397.4 1005,392.3 1006,395.3 1007,383.4 1008,348.6 1009,310.1 1010,283.4 1011,270 1012,257.8 1013,245.6 1014,238.3 1015,240.2 1016,253.1 1017,269.5 1018,286.2 1019,310.6 1020,344.2 1021,370.8 1022,383.7 1023,391.6 1024,396 1025,396.5 1026,390.9 1027,384.4 1028,362.4 1029,317.9 1030,280.6 1031,263.4 1032,253 1033,245.6 1034,243.5 1035,250.7 1036,263.2 1037,276 1038,292.9 1039,313.7 1040,336.5 1041,359.2 1042,375.4 1043,389.2 1044,397.3 1045,398.9 1046,399.8 1047,392.4 1048,369.6 1049,337 1050,305.5 1051,283.3 1052,270.5 1053,263.8 1054,260.6 1055,261.2 1056,264.3 1057,271.9 1058,290.3 1059,317.1 1060,341.7 1061,360.1 1062,377.2 1063,393.3 1064,402.6 1065,404.7 1066,399.8 1067,391.5 1068,386.5 1069,374.7 1070,350.9 1071,330.1 1072,320.2 1073,313.6 1074,308.6 1075,307.4 1076,312.6 1077,321.5 1078,331.4 1079,344.7 1080,363.9 1081,382.3 1082,390.9 1083,393.6 1084,396.7 1085,396.8 1086,397.9 1087,403.7 1088,400.9 1089,387.7 1090,376.6 1091,351.5 1092,307.9 1093,260.4 1094,227.1 1095,206.7 1096,189.3 1097,181.7 1098,184.7 1099,192.6 1100,202 1101,220.4 1102,253.1 1103,290.9 1104,325.4 1105,347.7 1106,358.7 1107,367.5 1108,371.5 1109,368.2 1110,359.1 1111,346.2 1112,333 1113,312.8 1114,281.9 1115,247.6 1116,218.4 1117,202.3 1118,193.6 1119,185.3 1120,180.8 1121,180.5 1122,186.9 1123,198.3 1124,211.2 1125,237.2 1126,276.9 1127,309.1 1128,329.1 1129,339.1 1130,337.8 1131,331.3 1132,320.9 1133,300.7 1134,268 1135,231.4 1136,197.8 1137,175.7 1138,163.3 1139,149.9 1140,138.1 1141,134.4 1142,139.5 1143,149.8 1144,163.3 1145,191 1146,234.7 1147,279.3 1148,310.7 1149,331.8 1150,346.5 1151,346.3 1152,337.8 1153,324.5 1154,309.7 1155,286.6 1156,249.4 1157,207.8 1158,172.6 1159,150.2 1160,137.3 1161,127 1162,121.5 1163,121.4 1164,124.9 1165,131.8 1166,140.1 1167,151.2 1168,165 1169,171.8 1170,171.1 1171,171 1172,168.7 1173,161.8 1174,152.9 1175,140.5 1176,123.8 1177,107.7 1178,97.2 1179,95.7 1180,100.4 1181,109.5 1182,120.9 1183,139.4 1184,166.9 1185,196.6 1186,220.8 1187,240.2 1188,256.9 1189,268.4 1190,275.9 1191,277.4 1192,265.7 1193,243.8 1194,220 1195,189.7 1196,153.6 1197,129.2 1198,116.2 1199,106.3 1200,102.3 1201,106.3 1202,117.1 1203,130.2 1204,149.4 1205,176.5 1206,207.7 1207,239 1208,263.3 1209,283.5 1210,304.5 1211,324.6 1212,341.6 1213,351.6 1214,354.9 1215,349.4 1216,335.1 1217,319.3 1218,302.4 1219,282.7 1220,266.6 1221,263.2 1222,265.9 1223,267.9 1224,271.7 1225,276.2 1226,281 1227,287.4 1228,298.5 1229,314.5 1230,331.4 1231,344.5 1232,354.4 1233,363.5 1234,369.8 1235,372.6 1236,373 1237,365.4 1238,348.8 1239,327.5 1240,308.2 1241,289.2 1242,267.4 1243,246.9 1244,233.6 1245,227.3 1246,223 1247,221.1 1248,223.6 1249,229.1 1250,233.9 1251,236.5 1252,239.4 1253,242.6 1254,240.5 1255,233.5 1256,225.8 1257,219.2 1258,214.5 1259,209.6 1260,205.8 1261,202.4 1262,199.6 1263,199.6 1264,206.1 1265,215.4 1266,220.2 1267,220.2 1268,220.6 1269,218 1270,212 1271,206.5 1272,201.2 1273,195.3 1274,190.2 1275,188.5 1276,191.4 1277,196.5 1278,203.4 1279,210.8 1280,215.2 1281,218 1282,220.8 1283,222.5 1284,224.4 1285,226.1 1286,226.2 1287,226.5 1288,228.2 1289,230.3 1290,233.1 1291,236.6 1292,238.4 1293,241.8 1294,250.7 1295,262.1 1296,273.1 1297,285.8 1298,298.5 1299,304.4 1300,299.8 1301,290.9 1302,283 1303,277.6 1304,273.4 1305,271.2 1306,273.4 1307,279 1308,286.5 1309,297.8 1310,310.4 1311,321.9 1312,333.2 1313,343.3 1314,353.1 1315,363.7 1316,373.2 1317,379.6 1318,384.3 1319,386.8 1320,378.9 1321,362.8 1322,347 1323,330.5 1324,308.5 1325,287 1326,268.8 1327,250.9" fill="none" stroke="#b30000" stroke-width="2.6" stroke-linejoin="round" clip-path="url(#cpc)"/>
<polyline points="820,386.7 821,398.9 822,404.2 823,406 824,408.1 825,410.9 826,413.9 827,413.2 828,407.7 829,402 830,405.5 831,410.9 832,412 833,413.4 834,414 835,411.6 836,409.4 837,408.5 838,407.8 839,408.9 840,407.8 841,404.8 842,406.7 843,410.3 844,409.8 845,405.6 846,403.9 847,407.7 848,408.8 849,407.9 850,410.4 851,409.7 852,406.3 853,406.1 854,407 855,410.6 856,413.9 857,411 858,412 859,413.9 860,409.1 861,407 862,410.2 863,411.8 864,409.8 865,406.7 866,403.8 867,404.3 868,405.3 869,405.3 870,408.4 871,410 872,406.9 873,405.9 874,408.7 875,409.8 876,411.3 877,412.9 878,408.3 879,407.4 880,410.8 881,410.4 882,408.6 883,409 884,412.5 885,411 886,404.7 887,405.7 888,411.5 889,410.4 890,407.4 891,405.9 892,405 893,407.3 894,408.8 895,407.2 896,404.5 897,405.5 898,410 899,409.5 900,403.7 901,401.7 902,402.4 903,402.4 904,405.2 905,409 906,410.7 907,408.1 908,406.1 909,409.6 910,410.6 911,408.1 912,405.8 913,406.4 914,411.2 915,412.5 916,406.9 917,402 918,402.1 919,404.7 920,405.8 921,405.5 922,404.7 923,404.7 924,406.2 925,407.9 926,409.5 927,410.2 928,407.1 929,402.8 930,402.3 931,408.1 932,414.9 933,415.1 934,411.8 935,412.6 936,413.6 937,408.1 938,406.6 939,412.1 940,413.8 941,411.5 942,408 943,403.3 944,401.5 945,404.1 946,405.1 947,403.2 948,401 949,400.6 950,403.3 951,407.6 952,409.2 953,406.5 954,402.3 955,402.6 956,406.3 957,406.6 958,405.8 959,407.8 960,408 961,401.9 962,398.3 963,403 964,408 965,410 966,408.6 967,403.4 968,401.1 969,402.2 970,402.6 971,402.5 972,404.7 973,407.3 974,405.8 975,403.8 976,404.7 977,405.2 978,404.8 979,402.1 980,399.6 981,400.7 982,399.9 983,396.8 984,393.8 985,395.2 986,397.2 987,391.8 988,386.4 989,381.7 990,374.7 991,370.2 992,370.8 993,376.4 994,382.5 995,390.3 996,395.9 997,397.5 998,396.8 999,393.5 1000,391.9 1001,393.6 1002,398.6 1003,402 1004,400.5 1005,400.2 1006,401.8 1007,401.7 1008,399.5 1009,398.8 1010,400.5 1011,401.3 1012,404 1013,406.8 1014,407.3 1015,406.6 1016,402.7 1017,399.9 1018,400.5 1019,399.2 1020,397.8 1021,400.2 1022,402.9 1023,406 1024,407 1025,405.9 1026,406.3 1027,404.2 1028,401.3 1029,400.8 1030,403.4 1031,405.4 1032,404.4 1033,404.8 1034,404.6 1035,403.7 1036,403.9 1037,405.1 1038,405.9 1039,407.5 1040,409.1 1041,407.7 1042,404.7 1043,399.8 1044,400.5 1045,405.8 1046,404.9 1047,404 1048,404.6 1049,402.9 1050,405.1 1051,407.7 1052,405.3 1053,402.7 1054,403.6 1055,404.3 1056,401.1 1057,400.8 1058,404.8 1059,405.2 1060,403.7 1061,401.2 1062,397.7 1063,400.3 1064,405.1 1065,405.1 1066,399.8 1067,395.9 1068,398.8 1069,400.7 1070,399.9 1071,397.7 1072,395.9 1073,398.3 1074,399.1 1075,398 1076,399.6 1077,399.5 1078,396.3 1079,396.9 1080,399.9 1081,401.7 1082,400.6 1083,396.2 1084,393.6 1085,392.8 1086,392.4 1087,393.8 1088,395 1089,394 1090,394.2 1091,395.1 1092,392.9 1093,391.5 1094,394 1095,395.2 1096,391.3 1097,389.2 1098,392.5 1099,394.5 1100,392.2 1101,392.1 1102,394.8 1103,391.3 1104,388.3 1105,388.7 1106,385.9 1107,386 1108,388.4 1109,389.4 1110,388 1111,386.1 1112,384 1113,383.4 1114,382.2 1115,381.4 1116,380.9 1117,381.3 1118,382 1119,380.1 1120,378 1121,377.6 1122,376.1 1123,373.2 1124,371.8 1125,370.4 1126,366.7 1127,362.4 1128,358.5 1129,353.3 1130,348 1131,344.2 1132,340.2 1133,334 1134,324.7 1135,313.6 1136,302.5 1137,291.8 1138,282 1139,273.8 1140,266.6 1141,259.9 1142,255.3 1143,253.3 1144,259.1 1145,273.5 1146,288.2 1147,304.6 1148,322.7 1149,333.4 1150,334.9 1151,334.4 1152,330.7 1153,327.4 1154,323.4 1155,317.4 1156,313.2 1157,308.4 1158,301.7 1159,296.7 1160,293.5 1161,292 1162,289.3 1163,284.6 1164,280 1165,272 1166,261.6 1167,252 1168,242 1169,230.4 1170,217.8 1171,205 1172,190.7 1173,175.5 1174,161.9 1175,151.5 1176,140.4 1177,127.3 1178,115.6 1179,105.4 1180,96.9 1181,90.2 1182,87.1 1183,93.5 1184,111.3 1185,130.5 1186,156.5 1187,192 1188,221 1189,241 1190,254.6 1191,255.4 1192,244.9 1193,227.2 1194,209.6 1195,191.9 1196,170.2 1197,147.8 1198,130.1 1199,120.4 1200,114.9 1201,109.5 1202,105.7 1203,104.9 1204,110.4 1205,121.8 1206,136.4 1207,159.9 1208,195.2 1209,233.1 1210,264.9 1211,297.4 1212,329.8 1213,344.6 1214,341.9 1215,333.9 1216,321.9 1217,308.9 1218,295.7 1219,280.3 1220,263 1221,245.3 1222,231.6 1223,222.8 1224,214.2 1225,205 1226,198.8 1227,197.3 1228,203.6 1229,219.3 1230,240.7 1231,286.7 1232,332 1233,351.6 1234,364.5 1235,367 1236,360.2 1237,345.9 1238,331.3 1239,317.4 1240,300.3 1241,283.9 1242,273 1243,265.8 1244,258.2 1245,251.7 1246,249.4 1247,250.4 1248,250.9 1249,250.4 1250,250.5 1251,251.2 1252,249 1253,244.4 1254,239.8 1255,234.5 1256,228.5 1257,222.4 1258,214.8 1259,206.1 1260,198 1261,190.9 1262,187.1 1263,186.4 1264,192.8 1265,204.2 1266,211.6 1267,212.9 1268,213.5 1269,214.5 1270,214.6 1271,212.2 1272,208.1 1273,202.7 1274,197.1 1275,191.9 1276,187.5 1277,185.4 1278,186.7 1279,192.5 1280,200 1281,205.6 1282,207.5 1283,209.4 1284,211.9 1285,213.5 1286,214.4 1287,214.5 1288,216.3 1289,221 1290,226.6 1291,232.3 1292,241.2 1293,253.8 1294,265.2 1295,274.8 1296,285.1 1297,292.3 1298,294.9 1299,293.2 1300,287.2 1301,281.8 1302,279.6 1303,276.3 1304,271.5 1305,270.3 1306,275 1307,283.2 1308,292 1309,301.2 1310,311.8 1311,323 1312,333.6 1313,343.5 1314,353.6 1315,363.3 1316,371.7 1317,378.6 1318,380.5 1319,372.2 1320,358.2 1321,344.3 1322,331.8 1323,317.9 1324,302 1325,285.4 1326,269 1327,251.3" fill="none" stroke="#0b60bd" stroke-width="2.6" stroke-linejoin="round" clip-path="url(#cpc)"/>
<polyline points="820,880.5 822,880.9 824,880.6 826,879.4 828,879.3 830,878.9 832,879.2 834,878.6 836,878.7 838,877.1 840,877.5 842,875 844,873.7 846,871.6 848,870 850,868.9 852,867.6 854,865.6 856,864.1 858,863.2 860,861.1 862,859.4 864,858.9 866,855.9 868,852.8 870,850.9 872,848.6 874,845.7 876,844.8 878,844.8 880,844.5 882,843.1 884,842.1 886,840.5 888,838.3 890,835.5 892,833.6 894,831.5 896,829.8 898,828.8 900,828.6 902,827.9 904,827.6 906,825.7 908,823.8 910,819.9 912,815.6 914,812.6 916,811.2 918,810.5 920,811.4 922,811 924,809.7 926,808.1 928,807 930,804.3 932,801.3 934,797.3 936,793.7 938,794.3 940,793.6 942,793.7 944,792.7 946,792.4 948,792.2 950,791.1 952,789.1 954,785.4 956,782.4 958,778.5 960,778.4 962,777.1 964,775.7 966,774.9 968,772.2 970,769.4 972,764.8 974,763 976,759.9 978,759.4 980,758.7 982,759.5 984,758 986,758.7 988,756.7 990,752.8 992,751.1 994,748.2 996,746.6 998,744.8 1000,744 1002,741.8 1004,742.2 1006,742.6 1008,742.8 1010,741 1012,738.2 1014,736.5 1016,734.2 1018,731.9 1020,729.4 1022,728 1024,727.4 1026,726.7 1028,726.1 1030,724.4 1032,722.2 1034,720.4 1036,717.1 1038,713.9 1040,712.7 1042,709.7 1044,710.1 1046,708.8 1048,708.2 1050,707.1 1052,706 1054,704.1 1056,699.9 1058,697.5 1060,695.6 1062,692.4 1064,691.8 1066,691.5 1068,691.4 1070,691.6 1072,688.4 1074,686.1 1076,682.7 1078,680.3 1080,676.3 1082,673.9 1084,674.1 1086,673.4 1088,674 1090,674 1092,672.8 1094,670.5 1096,668.6 1098,666 1100,663.8 1102,661.7 1104,659.9 1106,657.8 1108,657.7 1110,657.5 1112,657.3 1114,655.1 1116,652.4 1118,651.5 1120,649.7 1122,648.3 1124,646.1 1126,643.6 1128,642.1 1130,642.9 1132,641.7 1134,641.7 1136,641.2 1138,638 1140,636.8 1142,635 1144,633.2 1146,631.3 1148,629.3 1150,627.8 1152,625.7 1154,625 1156,623.4 1158,622.6 1160,621 1162,620.3 1164,619.1 1166,617.2 1168,614.5 1170,611.8 1172,608.8 1174,606.3 1176,603.5 1178,601.8 1180,600.1 1182,598.9 1184,596.5 1186,596.1 1188,593.5 1190,591.5 1192,589.8 1194,586.1 1196,582.9 1198,578.9 1200,575.1 1202,574.4 1204,574.6 1206,573.1 1208,571.8 1210,572.2 1212,571.3 1214,572.9 1216,570.1 1218,568.4 1220,565.7 1222,562 1224,560.9 1226,559.8 1228,558 1230,556.4 1232,555.2 1234,553.4 1236,552.2 1238,550.6 1240,549.6 1242,547.5 1244,547.1 1246,545.1 1248,543.5 1250,542.3 1252,541.1 1254,538.8 1256,536.1 1258,534.8 1260,532.3 1262,530.5 1264,528.9 1266,526.9 1268,527.3 1270,525.8 1272,525.1 1274,523.6 1276,521.1 1278,518.9 1280,517.3 1282,515.2 1284,511.9 1286,510.7 1288,508.3 1290,505.7 1292,505 1294,503.4 1296,501.7 1298,500.8 1300,499.7 1302,497.7 1304,496.1 1306,495.2 1308,493.7 1310,492 1312,491.1 1314,489.8 1316,487.2 1318,486.3 1320,485.2 1322,483.8 1324,482.6 1326,480.2" fill="none" stroke="#b30000" stroke-width="2.6" stroke-linejoin="round" clip-path="url(#cpd)"/>
<polyline points="820,880 822,880.2 824,879.8 826,879.5 828,879.6 830,877.9 832,877.9 834,876.7 836,875.6 838,874.4 840,872.2 842,870.7 844,867.9 846,867.5 848,865.5 850,865.5 852,863.6 854,862.2 856,860.1 858,858.9 860,857.3 862,855.2 864,853.6 866,852 868,850 870,848.2 872,846.6 874,844.6 876,844.1 878,841.7 880,841.6 882,839.7 884,838.5 886,836.4 888,835.2 890,833.4 892,831.9 894,829.8 896,828.7 898,828.4 900,826.4 902,824.6 904,824.2 906,821.7 908,819.8 910,817.6 912,814.8 914,811.8 916,811.4 918,811.4 920,810.4 922,810.3 924,809.2 926,806.9 928,806.2 930,804.8 932,802.8 934,801.2 936,799.4 938,798.3 940,795.6 942,794.6 944,794.2 946,792.7 948,791.6 950,791.2 952,790.3 954,788.6 956,785.8 958,783.9 960,783 962,781.1 964,779.2 966,777.5 968,775.8 970,773.3 972,771.4 974,768.5 976,766.4 978,765 980,763.1 982,761.6 984,760.6 986,759.8 988,758.9 990,756.8 992,755.7 994,753.6 996,751 998,747.3 1000,747 1002,745.3 1004,744.5 1006,743.9 1008,743.2 1010,741.3 1012,741.9 1014,740.7 1016,739.6 1018,739.1 1020,737.5 1022,737.5 1024,737 1026,735.5 1028,734.7 1030,733.4 1032,731.2 1034,729.3 1036,726.5 1038,724 1040,722.2 1042,720.7 1044,717.2 1046,715.4 1048,712.6 1050,713.1 1052,711.8 1054,711.1 1056,709.5 1058,707.8 1060,707.3 1062,705.7 1064,703.3 1066,701.5 1068,700.8 1070,698.6 1072,698.1 1074,694.6 1076,692.7 1078,691 1080,688.4 1082,686.6 1084,685.7 1086,682.6 1088,680.2 1090,677.7 1092,676.4 1094,674.2 1096,673.5 1098,672.7 1100,672.7 1102,671.4 1104,669.2 1106,668.1 1108,665.1 1110,663.8 1112,662.6 1114,661 1116,658.9 1118,658.2 1120,657.2 1122,655.5 1124,653.9 1126,653.4 1128,652.6 1130,651.3 1132,651.2 1134,651.4 1136,649.7 1138,649.7 1140,647 1142,643 1144,639.2 1146,635.9 1148,632.3 1150,630.2 1152,628.6 1154,628.4 1156,628 1158,627.6 1160,626.8 1162,626.1 1164,625.5 1166,624.7 1168,622.3 1170,620.6 1172,618 1174,615 1176,613.2 1178,612.9 1180,609.1 1182,606.4 1184,603.7 1186,601.2 1188,597 1190,594 1192,592.6 1194,591.5 1196,591.1 1198,589.2 1200,586.1 1202,583.9 1204,581.3 1206,578 1208,575.6 1210,574.3 1212,573.4 1214,573.9 1216,572.1 1218,569.8 1220,567.1 1222,565.1 1224,564.3 1226,560.8 1228,559.4 1230,556.9 1232,556.6 1234,556.4 1236,555.4 1238,555.3 1240,554.7 1242,552.7 1244,550.6 1246,548.5 1248,547 1250,546 1252,544.5 1254,542.6 1256,542 1258,540.6 1260,539.6 1262,537.5 1264,531.9 1266,527.5 1268,526.4 1270,526.2 1272,525.6 1274,526 1276,523 1278,520.3 1280,519.2 1282,515.3 1284,514.1 1286,512.1 1288,509.8 1290,507.3 1292,505.2 1294,503 1296,502.4 1298,499.6 1300,499.3 1302,498.4 1304,496.9 1306,495.1 1308,494.3 1310,492.3 1312,491.4 1314,489.9 1316,487.5 1318,485 1320,484.6 1322,482.9 1324,482.5 1326,480.2" fill="none" stroke="#0b60bd" stroke-width="2.6" stroke-linejoin="round" clip-path="url(#cpd)"/>
<polyline points="1469.5,400 1479.3,-200 1498,429.3 1508.6,429.3 1516.7,-23 1536.8,423 1546,422 1556.6,197 1566.4,122.4 1576.7,430.6 1586.5,429.3 1595,275.8 1605.7,211.9 1615,405 1624.8,423 1634.7,312 1644.9,256.7 1654.7,410 1663.2,426.3 1673.9,335.5 1683.7,302.7 1693.4,421.5 1703.4,428.9 1712.3,373.5 1722.6,334.9 1732,364 1742.3,422 1751.7,346.9 1761.2,353.7 1771.5,414.6 1781.8,416.9 1791.2,334.9 1799.8,339.2 1810.9,412 1821.2,392.3 1830.3,372.6 1840,386.3 1849.5,427.1 1858.9,423.2 1869.2,376 1878.6,375.2 1888.6,425.4 1898.4,428.3 1918.1,356.3 1927.5,416.3 1937.8,421 1957.2,300.9 1967,359.7 1977,398" fill="none" stroke="#a070d6" stroke-width="2.6" stroke-linejoin="round" clip-path="url(#cpe)"/>
<polyline points="1469.3,425 1478.6,399.5 1488.4,418.6 1498.2,432.3 1507.6,418.6 1516.2,425 1526.8,427.2 1537.5,433.6 1546.8,440.8 1556.6,436.5 1566.4,433.6 1576.7,433.6 1586.5,432.3 1596.3,430.6 1605.7,428 1615,409.3 1624.8,408 1634.7,416.5 1644.9,423 1654.7,429.3 1664.5,428 1673.9,426.3 1683.7,423.7 1693,425 1703.4,427.5 1713.2,414.6 1722.6,336.6 1732.9,358 1742.3,421.5 1751.7,358 1762,344.8 1771.5,401.8 1781.8,410.3 1791.2,357.2 1801.1,332.8 1810.9,387.7 1820.7,382.9 1830.3,348.6 1840,381.2 1849.5,423.7 1859.8,428.3 1869.2,425.4 1878.6,427.8 1888.6,424.4 1898.4,426.6 1907.8,425.4 1917.2,426.6 1927.5,430.6 1937.8,426.1 1947.2,423.2 1957.2,413.4 1967,408.6 1977,406.5" fill="none" stroke="#787878" stroke-width="2.6" stroke-linejoin="round" clip-path="url(#cpe)"/>
<polyline points="1469.5,880.5 1487.9,879.9 1498.1,878.1 1508.3,878.1 1518,868 1527.4,849.3 1537.6,845 1547.8,845 1556.7,841.2 1566.9,821.3 1576.3,809.9 1586,809.9 1596.1,805.5 1605.8,792 1615.2,778 1624.9,777 1635.1,770.4 1644.5,756.6 1654.7,742.4 1664.9,741.9 1674.3,736.8 1684,723.5 1694.2,710 1703.1,710 1713.3,708.2 1722.5,695 1732.7,682.6 1751.8,672.4 1762,662.3 1772.2,649.5 1781.1,649.5 1791.3,632.5 1801.5,620.2 1811.7,608.8 1820.6,603.7 1830.8,589.7 1841,577 1849.9,571.9 1859.5,571.9 1869,560.4 1879.2,547.2 1888.6,537.5 1898.3,538.2 1908.4,534.9 1918.1,520.9 1927.5,506.9 1937.7,506.4 1947.4,503.1 1957.3,495 1967,481.5 1977,478" fill="none" stroke="#a070d6" stroke-width="2.6" stroke-linejoin="round" clip-path="url(#cpf)"/>
<polyline points="1469.5,880.5 1498.1,879.9 1515.9,878.9 1527.4,871.7 1537.6,862.8 1547,853.9 1556.7,852.6 1566.9,843.7 1576.3,835.6 1586,823.3 1596.1,818.3 1605.8,808.6 1615.2,798.4 1624.9,783.1 1635.1,777.5 1644.5,770.6 1654.7,758.4 1664.9,744.9 1674.3,743.1 1684,736.3 1694.2,724.5 1703.1,712.6 1713.3,708.8 1722.5,698 1732.7,681.9 1741.6,673.7 1751.8,668.1 1762,657.2 1772.2,647 1781.1,645.7 1791.3,630.4 1801.5,617.2 1811.7,608.8 1820.6,603.7 1830.8,589.2 1841,575.7 1849.9,573.1 1859.5,574.4 1869,570.6 1879.2,560.4 1888.6,545.9 1898.3,537.5 1908.4,536.7 1918.1,533.7 1928.8,530.4 1937.7,527.3 1947.4,525.5 1957.3,521.4 1967,513.3 1977,490" fill="none" stroke="#787878" stroke-width="2.6" stroke-linejoin="round" clip-path="url(#cpf)"/>
<g fill="none" stroke="#b30000" stroke-width="4.4" stroke-linecap="round" stroke-linejoin="round"><line x1="513" y1="371" x2="588.5" y2="371"/><polyline points="576,364.7 590,371 576,377.3"/></g>
<g fill="none" stroke="#0b60bd" stroke-width="4.4" stroke-linecap="round" stroke-linejoin="round"><line x1="595" y1="822" x2="518.5" y2="822"/><polyline points="531,815.7 517,822 531,828.3"/></g>
<g fill="none" stroke="#b30000" stroke-width="4.4" stroke-linecap="round" stroke-linejoin="round"><line x1="1239.4" y1="768.4" x2="1315.2" y2="768.4"/><polyline points="1302.7,762.1 1316.7,768.4 1302.7,774.7"/></g>
<g fill="none" stroke="#0b60bd" stroke-width="4.4" stroke-linecap="round" stroke-linejoin="round"><line x1="1313.4" y1="794.9" x2="1239.6" y2="794.9"/><polyline points="1252.1,788.6 1238.1,794.9 1252.1,801.2"/></g>
<rect x="105" y="39" width="508" height="391" fill="none" stroke="#000" stroke-width="2"/>
<line x1="150.4" y1="430" x2="150.4" y2="414" stroke="#000" stroke-width="2"/>
<line x1="254.7" y1="430" x2="254.7" y2="414" stroke="#000" stroke-width="2"/>
<line x1="359" y1="430" x2="359" y2="414" stroke="#000" stroke-width="2"/>
<line x1="463.3" y1="430" x2="463.3" y2="414" stroke="#000" stroke-width="2"/>
<line x1="567.6" y1="430" x2="567.6" y2="414" stroke="#000" stroke-width="2"/>
<line x1="105" y1="430" x2="121" y2="430" stroke="#000" stroke-width="2"/>
<line x1="105" y1="332.2" x2="115" y2="332.2" stroke="#000" stroke-width="2"/>
<line x1="105" y1="234.5" x2="121" y2="234.5" stroke="#000" stroke-width="2"/>
<line x1="105" y1="136.8" x2="115" y2="136.8" stroke="#000" stroke-width="2"/>
<line x1="105" y1="39" x2="121" y2="39" stroke="#000" stroke-width="2"/>
<rect x="105" y="489" width="508" height="391" fill="none" stroke="#000" stroke-width="2"/>
<line x1="150.4" y1="880" x2="150.4" y2="864" stroke="#000" stroke-width="2"/>
<line x1="254.7" y1="880" x2="254.7" y2="864" stroke="#000" stroke-width="2"/>
<line x1="359" y1="880" x2="359" y2="864" stroke="#000" stroke-width="2"/>
<line x1="463.3" y1="880" x2="463.3" y2="864" stroke="#000" stroke-width="2"/>
<line x1="567.6" y1="880" x2="567.6" y2="864" stroke="#000" stroke-width="2"/>
<line x1="105" y1="880" x2="121" y2="880" stroke="#000" stroke-width="2"/>
<line x1="105" y1="782.2" x2="115" y2="782.2" stroke="#000" stroke-width="2"/>
<line x1="105" y1="684.5" x2="121" y2="684.5" stroke="#000" stroke-width="2"/>
<line x1="105" y1="586.8" x2="115" y2="586.8" stroke="#000" stroke-width="2"/>
<line x1="105" y1="489" x2="121" y2="489" stroke="#000" stroke-width="2"/>
<rect x="820" y="39" width="507" height="406" fill="none" stroke="#000" stroke-width="2"/>
<line x1="847.2" y1="445" x2="847.2" y2="429" stroke="#000" stroke-width="2"/>
<line x1="960.6" y1="445" x2="960.6" y2="429" stroke="#000" stroke-width="2"/>
<line x1="1073.3" y1="445" x2="1073.3" y2="429" stroke="#000" stroke-width="2"/>
<line x1="1186.6" y1="445" x2="1186.6" y2="429" stroke="#000" stroke-width="2"/>
<line x1="1300" y1="445" x2="1300" y2="429" stroke="#000" stroke-width="2"/>
<line x1="820" y1="400" x2="836" y2="400" stroke="#000" stroke-width="2"/>
<line x1="820" y1="309.8" x2="830" y2="309.8" stroke="#000" stroke-width="2"/>
<line x1="820" y1="219.5" x2="836" y2="219.5" stroke="#000" stroke-width="2"/>
<line x1="820" y1="129.2" x2="830" y2="129.2" stroke="#000" stroke-width="2"/>
<line x1="820" y1="39" x2="836" y2="39" stroke="#000" stroke-width="2"/>
<rect x="820" y="475" width="507" height="405" fill="none" stroke="#000" stroke-width="2"/>
<line x1="847.2" y1="880" x2="847.2" y2="864" stroke="#000" stroke-width="2"/>
<line x1="960.6" y1="880" x2="960.6" y2="864" stroke="#000" stroke-width="2"/>
<line x1="1073.3" y1="880" x2="1073.3" y2="864" stroke="#000" stroke-width="2"/>
<line x1="1186.6" y1="880" x2="1186.6" y2="864" stroke="#000" stroke-width="2"/>
<line x1="1300" y1="880" x2="1300" y2="864" stroke="#000" stroke-width="2"/>
<line x1="820" y1="880" x2="836" y2="880" stroke="#000" stroke-width="2"/>
<line x1="820" y1="812.5" x2="830" y2="812.5" stroke="#000" stroke-width="2"/>
<line x1="820" y1="745" x2="836" y2="745" stroke="#000" stroke-width="2"/>
<line x1="820" y1="677.5" x2="830" y2="677.5" stroke="#000" stroke-width="2"/>
<line x1="820" y1="610" x2="836" y2="610" stroke="#000" stroke-width="2"/>
<line x1="820" y1="542.5" x2="830" y2="542.5" stroke="#000" stroke-width="2"/>
<line x1="820" y1="475" x2="836" y2="475" stroke="#000" stroke-width="2"/>
<rect x="1469.5" y="39" width="507.5" height="406" fill="none" stroke="#000" stroke-width="2"/>
<line x1="1596.4" y1="445" x2="1596.4" y2="435" stroke="#000" stroke-width="2"/>
<line x1="1723.2" y1="445" x2="1723.2" y2="429" stroke="#000" stroke-width="2"/>
<line x1="1850.1" y1="445" x2="1850.1" y2="435" stroke="#000" stroke-width="2"/>
<line x1="1469.5" y1="425.5" x2="1485.5" y2="425.5" stroke="#000" stroke-width="2"/>
<line x1="1469.5" y1="328.9" x2="1479.5" y2="328.9" stroke="#000" stroke-width="2"/>
<line x1="1469.5" y1="232.2" x2="1485.5" y2="232.2" stroke="#000" stroke-width="2"/>
<line x1="1469.5" y1="135.6" x2="1479.5" y2="135.6" stroke="#000" stroke-width="2"/>
<line x1="1469.5" y1="39" x2="1485.5" y2="39" stroke="#000" stroke-width="2"/>
<rect x="1469.5" y="475" width="507.5" height="405" fill="none" stroke="#000" stroke-width="2"/>
<line x1="1596.4" y1="880" x2="1596.4" y2="870" stroke="#000" stroke-width="2"/>
<line x1="1723.2" y1="880" x2="1723.2" y2="864" stroke="#000" stroke-width="2"/>
<line x1="1850.1" y1="880" x2="1850.1" y2="870" stroke="#000" stroke-width="2"/>
<line x1="1469.5" y1="880" x2="1485.5" y2="880" stroke="#000" stroke-width="2"/>
<line x1="1469.5" y1="812.5" x2="1479.5" y2="812.5" stroke="#000" stroke-width="2"/>
<line x1="1469.5" y1="745" x2="1485.5" y2="745" stroke="#000" stroke-width="2"/>
<line x1="1469.5" y1="677.5" x2="1479.5" y2="677.5" stroke="#000" stroke-width="2"/>
<line x1="1469.5" y1="610" x2="1485.5" y2="610" stroke="#000" stroke-width="2"/>
<line x1="1469.5" y1="542.5" x2="1479.5" y2="542.5" stroke="#000" stroke-width="2"/>
<line x1="1469.5" y1="475" x2="1485.5" y2="475" stroke="#000" stroke-width="2"/>
<text x="91" y="49.9" font-size="31" text-anchor="end">300</text>
<text x="91" y="245.4" font-size="31" text-anchor="end">200</text>
<text x="91" y="440.9" font-size="31" text-anchor="end">100</text>
<text x="91" y="499.9" font-size="31" text-anchor="end">300</text>
<text x="91" y="695.4" font-size="31" text-anchor="end">200</text>
<text x="91" y="890.9" font-size="31" text-anchor="end">100</text>
<text x="150.4" y="916.8" font-size="31" text-anchor="middle">−160</text>
<text x="254.7" y="916.8" font-size="31" text-anchor="middle">−80</text>
<text x="359" y="916.8" font-size="31" text-anchor="middle">0</text>
<text x="463.3" y="916.8" font-size="31" text-anchor="middle">80</text>
<text x="567.6" y="916.8" font-size="31" text-anchor="middle">160</text>
<text x="805" y="49.9" font-size="31" text-anchor="end">80</text>
<text x="805" y="230.4" font-size="31" text-anchor="end">40</text>
<text x="805" y="410.9" font-size="31" text-anchor="end">0</text>
<text x="805" y="485.9" font-size="31" text-anchor="end">32</text>
<text x="805" y="620.9" font-size="31" text-anchor="end">24</text>
<text x="805" y="755.9" font-size="31" text-anchor="end">16</text>
<text x="805" y="890.9" font-size="31" text-anchor="end">8</text>
<text x="847.2" y="916.8" font-size="31" text-anchor="middle">−160</text>
<text x="960.6" y="916.8" font-size="31" text-anchor="middle">−80</text>
<text x="1073.3" y="916.8" font-size="31" text-anchor="middle">0</text>
<text x="1186.6" y="916.8" font-size="31" text-anchor="middle">80</text>
<text x="1300" y="916.8" font-size="31" text-anchor="middle">160</text>
<text x="1455" y="49.9" font-size="31" text-anchor="end">0.2</text>
<text x="1455" y="243.2" font-size="31" text-anchor="end">0.1</text>
<text x="1455" y="436.4" font-size="31" text-anchor="end">0.0</text>
<text x="1455" y="485.9" font-size="31" text-anchor="end">18</text>
<text x="1455" y="620.9" font-size="31" text-anchor="end">14</text>
<text x="1455" y="755.9" font-size="31" text-anchor="end">10</text>
<text x="1455" y="890.9" font-size="31" text-anchor="end">6</text>
<text x="1469.5" y="916.8" font-size="31" text-anchor="middle">100</text>
<text x="1723.2" y="916.8" font-size="31" text-anchor="middle">200</text>
<text x="1977" y="916.8" font-size="31" text-anchor="middle">300</text>
<text x="31" y="340" font-size="31" text-anchor="start" textLength="207.2" lengthAdjust="spacingAndGlyphs" transform="rotate(-90 31 340)"><tspan font-style="italic">V</tspan><tspan font-size="22" dy="5.2">t</tspan><tspan dy="-5.2" font-style="italic"> /</tspan><tspan font-style="italic">d</tspan><tspan font-size="22" dy="5.2">t</tspan><tspan dy="-5.2"> (mV nm</tspan><tspan font-size="19" dy="-12">−1</tspan><tspan dy="12">)</tspan></text>
<text x="31" y="790" font-size="31" text-anchor="start" textLength="207.2" lengthAdjust="spacingAndGlyphs" transform="rotate(-90 31 790)"><tspan font-style="italic">V</tspan><tspan font-size="22" dy="5.2">t</tspan><tspan dy="-5.2" font-style="italic"> /</tspan><tspan font-style="italic">d</tspan><tspan font-size="22" dy="5.2">t</tspan><tspan dy="-5.2"> (mV nm</tspan><tspan font-size="19" dy="-12">−1</tspan><tspan dy="12">)</tspan></text>
<text x="247.4" y="955.8" font-size="31" text-anchor="start" textLength="220.2" lengthAdjust="spacingAndGlyphs"><tspan font-style="italic">V</tspan><tspan font-size="22" dy="5.2">b</tspan><tspan dy="-5.2" font-style="italic"> /</tspan><tspan font-style="italic">d</tspan><tspan font-size="22" dy="5.2">b</tspan><tspan dy="-5.2"> (mV nm</tspan><tspan font-size="19" dy="-12">−1</tspan><tspan dy="12">)</tspan></text>
<text x="960.6" y="955.8" font-size="31" text-anchor="start" textLength="221" lengthAdjust="spacingAndGlyphs"><tspan font-style="italic">V</tspan><tspan font-size="22" dy="5.2">b</tspan><tspan dy="-5.2" font-style="italic"> /</tspan><tspan font-style="italic">d</tspan><tspan font-size="22" dy="5.2">b</tspan><tspan dy="-5.2"> (mV nm</tspan><tspan font-size="19" dy="-12">−1</tspan><tspan dy="12">)</tspan></text>
<text x="1617.4" y="955.8" font-size="31" text-anchor="start" textLength="209.2" lengthAdjust="spacingAndGlyphs"><tspan font-style="italic">V</tspan><tspan font-size="22" dy="5.2">t</tspan><tspan dy="-5.2" font-style="italic"> /</tspan><tspan font-style="italic">d</tspan><tspan font-size="22" dy="5.2">t</tspan><tspan dy="-5.2"> (mV nm</tspan><tspan font-size="19" dy="-12">−1</tspan><tspan dy="12">)</tspan></text>
<text x="749" y="288.4" font-size="31" text-anchor="start" textLength="92" lengthAdjust="spacingAndGlyphs" transform="rotate(-90 749 288.4)"><tspan font-style="italic">R</tspan><tspan font-size="22" dy="5.2">xx</tspan><tspan dy="-5.2"> (Ω)</tspan></text>
<text x="1396.3" y="296.8" font-size="31" text-anchor="start" textLength="107.4" lengthAdjust="spacingAndGlyphs" transform="rotate(-90 1396.3 296.8)"><tspan font-style="italic">R</tspan><tspan font-size="22" dy="5.2">xx</tspan><tspan dy="-5.2"> (kΩ)</tspan></text>
<text x="749" y="750.4" font-size="31" text-anchor="start" textLength="146.4" lengthAdjust="spacingAndGlyphs" transform="rotate(-90 749 750.4)"><tspan font-style="italic">G</tspan><tspan font-size="22" dy="5.2">xy</tspan><tspan dy="-5.2"> (e</tspan><tspan font-size="19" dy="-12">2</tspan><tspan dy="12"> h</tspan><tspan font-size="19" dy="-12">−1</tspan><tspan dy="12">)</tspan></text>
<text x="1397.5" y="750.4" font-size="31" text-anchor="start" textLength="146.4" lengthAdjust="spacingAndGlyphs" transform="rotate(-90 1397.5 750.4)"><tspan font-style="italic">G</tspan><tspan font-size="22" dy="5.2">xy</tspan><tspan dy="-5.2"> (e</tspan><tspan font-size="19" dy="-12">2</tspan><tspan dy="12"> h</tspan><tspan font-size="19" dy="-12">−1</tspan><tspan dy="12">)</tspan></text>
<text x="824" y="27" font-size="31" text-anchor="start" textLength="266" lengthAdjust="spacingAndGlyphs"><tspan font-style="italic">V</tspan><tspan font-size="22" dy="5.2">t</tspan><tspan dy="-5.2" font-style="italic"> /</tspan><tspan font-style="italic">d</tspan><tspan font-size="22" dy="5.2">t</tspan><tspan dy="-5.2"> = 270 mV nm</tspan><tspan font-size="19" dy="-12">−1</tspan></text>
<text x="1474.5" y="27" font-size="31" text-anchor="start" textLength="278" lengthAdjust="spacingAndGlyphs"><tspan font-style="italic">V</tspan><tspan font-size="22" dy="5.2">b</tspan><tspan dy="-5.2" font-style="italic"> /</tspan><tspan font-style="italic">d</tspan><tspan font-size="22" dy="5.2">b</tspan><tspan dy="-5.2"> = −45 mV nm</tspan><tspan font-size="19" dy="-12">−1</tspan></text>
<text x="826" y="103" font-size="31" text-anchor="start" textLength="93" lengthAdjust="spacingAndGlyphs">(<tspan style="fill:#b30000">P</tspan><tspan font-size="22" dy="5.2" style="fill:#b30000">f</tspan><tspan dy="-5.2">, </tspan><tspan style="fill:#b30000">P</tspan><tspan font-size="22" dy="5.2" style="fill:#b30000">b</tspan><tspan dy="-5.2">)</tspan></text>
<text x="990" y="103" font-size="31" text-anchor="start" textLength="98.2" lengthAdjust="spacingAndGlyphs">(<tspan style="fill:#000">N</tspan><tspan font-size="22" dy="5.2" style="fill:#000">f</tspan><tspan dy="-5.2">, </tspan><tspan style="fill:#b30000">P</tspan><tspan font-size="22" dy="5.2" style="fill:#b30000">b</tspan><tspan dy="-5.2">)</tspan></text>
<text x="1224" y="103" font-size="31" text-anchor="start" textLength="97.4" lengthAdjust="spacingAndGlyphs">(<tspan style="fill:#000">N</tspan><tspan font-size="22" dy="5.2" style="fill:#000">f</tspan><tspan dy="-5.2">, </tspan><tspan style="fill:#000">N</tspan><tspan font-size="22" dy="5.2" style="fill:#000">b</tspan><tspan dy="-5.2">)</tspan></text>
<text x="1547.2" y="103" font-size="31" text-anchor="start" textLength="97.4" lengthAdjust="spacingAndGlyphs">(<tspan style="fill:#000">N</tspan><tspan font-size="22" dy="5.2" style="fill:#000">f</tspan><tspan dy="-5.2">, </tspan><tspan style="fill:#b30000">P</tspan><tspan font-size="22" dy="5.2" style="fill:#b30000">b</tspan><tspan dy="-5.2">)</tspan></text>
<text x="1862" y="103" font-size="31" text-anchor="start" textLength="97" lengthAdjust="spacingAndGlyphs">(<tspan style="fill:#000">N</tspan><tspan font-size="22" dy="5.2" style="fill:#000">f</tspan><tspan dy="-5.2">, </tspan><tspan style="fill:#b30000">P</tspan><tspan font-size="22" dy="5.2" style="fill:#b30000">b</tspan><tspan dy="-5.2">)</tspan></text>
<text x="1845.6" y="773" font-size="31" text-anchor="start" textLength="99.1" lengthAdjust="spacingAndGlyphs" style="fill:#a070d6">forward</text>
<text x="1845.6" y="808.5" font-size="31" text-anchor="start" textLength="125.2" lengthAdjust="spacingAndGlyphs" style="fill:#787878">backward</text>
<rect x="622" y="151" width="18.5" height="118" fill="url(#cmap)" stroke="#000" stroke-width="2"/>
<text x="618" y="122" font-size="31" text-anchor="start" textLength="89" lengthAdjust="spacingAndGlyphs"><tspan font-style="italic">R</tspan><tspan font-size="22" dy="5.2">xx</tspan><tspan dy="-5.2"> (Ω)</tspan></text>
<text x="645" y="161.4" font-size="31">10<tspan font-size="20" dy="-11.8">4</tspan></text>
<text x="643.5" y="280.3" font-size="31" text-anchor="start">0</text>
<rect x="622" y="601" width="18.5" height="118" fill="url(#cmap)" stroke="#000" stroke-width="2"/>
<text x="618" y="572" font-size="31" text-anchor="start" textLength="89" lengthAdjust="spacingAndGlyphs"><tspan font-style="italic">R</tspan><tspan font-size="22" dy="5.2">xx</tspan><tspan dy="-5.2"> (Ω)</tspan></text>
<text x="645" y="611.4" font-size="31">10<tspan font-size="20" dy="-11.8">3</tspan></text>
<text x="643.5" y="730.3" font-size="31" text-anchor="start">0</text>
<text x="0" y="23.5" font-size="40" font-weight="bold">a</text>
<text x="-2.5" y="480" font-size="40" font-weight="bold">b</text>
<text x="726" y="23.5" font-size="40" font-weight="bold">c</text>
<text x="726" y="493" font-size="40" font-weight="bold">d</text>
<text x="1369" y="23.5" font-size="40" font-weight="bold">e</text>
<text x="1369" y="493" font-size="40" font-weight="bold">f</text>
</svg></body></html>
